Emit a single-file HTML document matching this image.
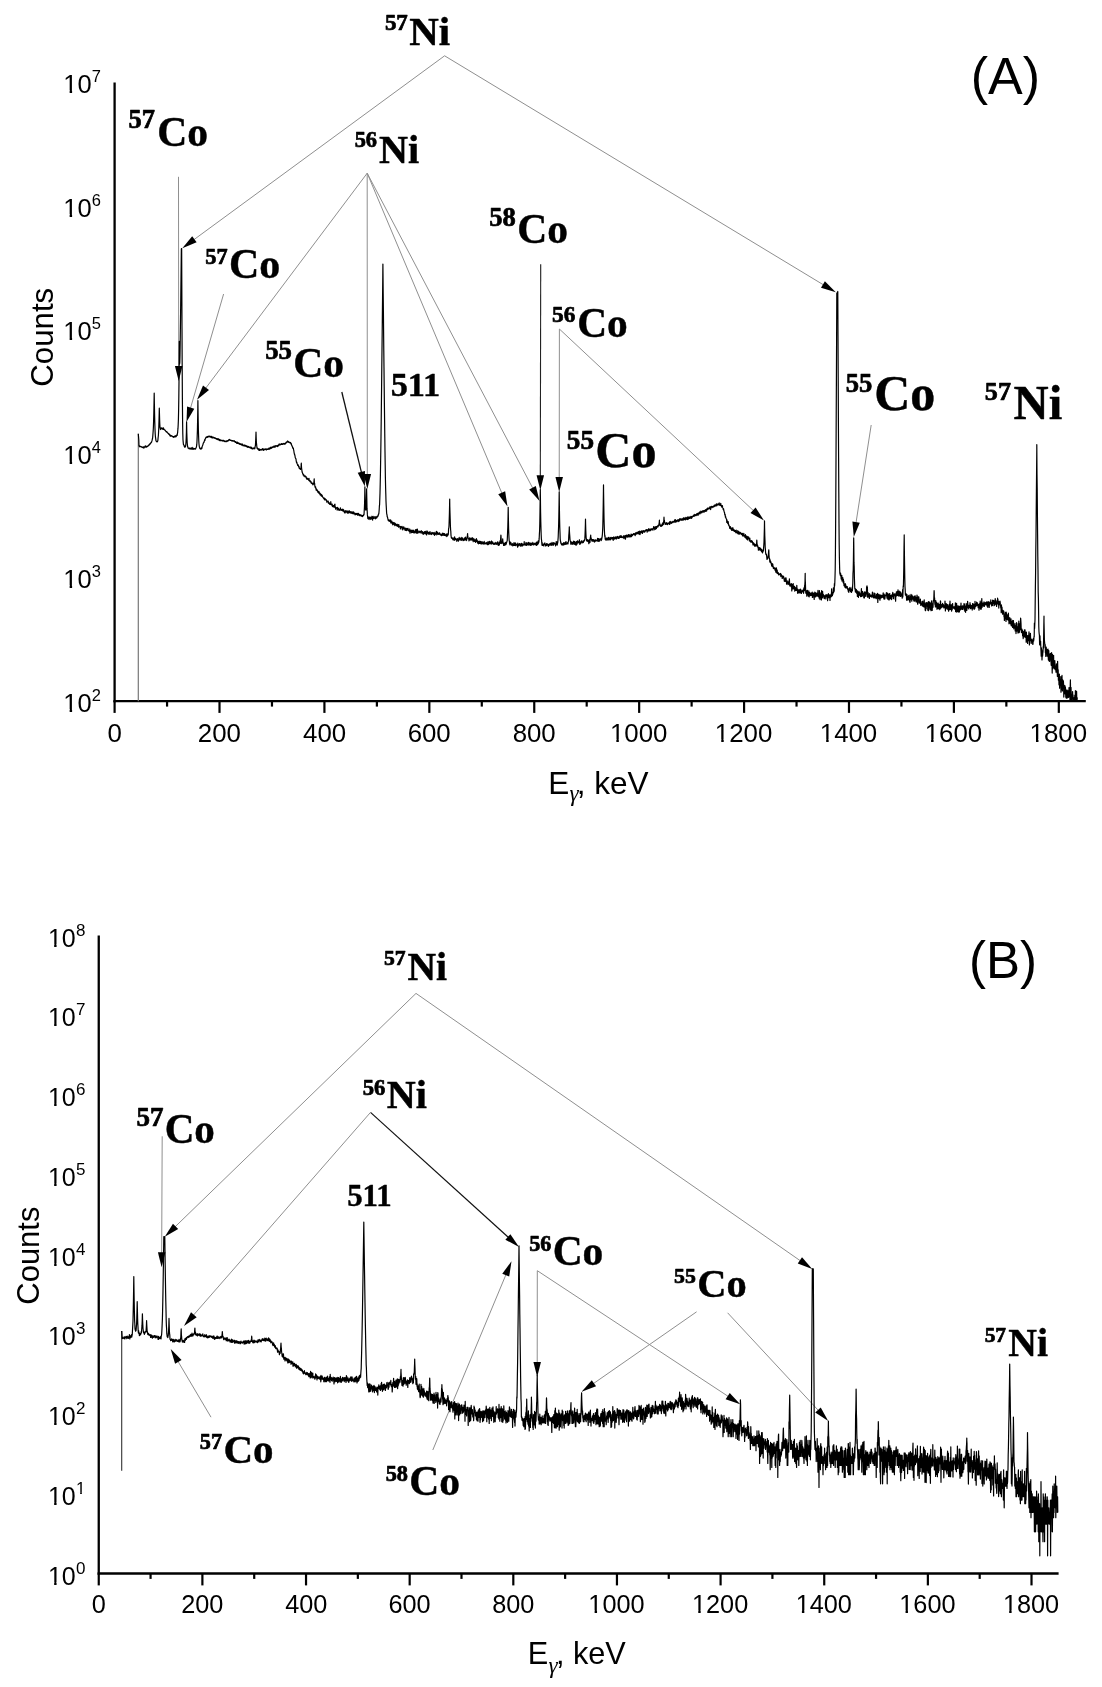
<!DOCTYPE html>
<html><head><meta charset="utf-8"><style>
html,body{margin:0;padding:0;background:#fff;}
svg{display:block;will-change:transform;}
</style></head><body>
<svg width="1102" height="1687" viewBox="0 0 1102 1687">
<rect width="1102" height="1687" fill="#fff"/>
<line x1="114.6" y1="82.5" x2="114.6" y2="702.3000000000001" stroke="#000" stroke-width="2.3" fill="none"/>
<line x1="113.44999999999999" y1="701.2" x2="1085.8" y2="701.2" stroke="#000" stroke-width="2.3" fill="none"/>
<line x1="114.60" y1="701.2" x2="114.60" y2="712.9" stroke="#000" stroke-width="2.2"/>
<g transform="translate(107.42,741.74) scale(0.975,1)">
<text x="0.00" y="0.00" font-family='"Liberation Sans", sans-serif' font-weight="normal" font-size="26.50" >0</text>
</g>
<line x1="167.06" y1="701.2" x2="167.06" y2="706.6" stroke="#000" stroke-width="2.2"/>
<line x1="219.51" y1="701.2" x2="219.51" y2="712.9" stroke="#000" stroke-width="2.2"/>
<g transform="translate(197.81,741.74) scale(0.975,1)">
<text x="0.00" y="0.00" font-family='"Liberation Sans", sans-serif' font-weight="normal" font-size="26.50" >200</text>
</g>
<line x1="271.97" y1="701.2" x2="271.97" y2="706.6" stroke="#000" stroke-width="2.2"/>
<line x1="324.42" y1="701.2" x2="324.42" y2="712.9" stroke="#000" stroke-width="2.2"/>
<g transform="translate(303.08,741.74) scale(0.975,1)">
<text x="0.00" y="0.00" font-family='"Liberation Sans", sans-serif' font-weight="normal" font-size="26.50" >400</text>
</g>
<line x1="376.88" y1="701.2" x2="376.88" y2="706.6" stroke="#000" stroke-width="2.2"/>
<line x1="429.34" y1="701.2" x2="429.34" y2="712.9" stroke="#000" stroke-width="2.2"/>
<g transform="translate(407.63,741.74) scale(0.975,1)">
<text x="0.00" y="0.00" font-family='"Liberation Sans", sans-serif' font-weight="normal" font-size="26.50" >600</text>
</g>
<line x1="481.79" y1="701.2" x2="481.79" y2="706.6" stroke="#000" stroke-width="2.2"/>
<line x1="534.25" y1="701.2" x2="534.25" y2="712.9" stroke="#000" stroke-width="2.2"/>
<g transform="translate(512.64,741.74) scale(0.975,1)">
<text x="0.00" y="0.00" font-family='"Liberation Sans", sans-serif' font-weight="normal" font-size="26.50" >800</text>
</g>
<line x1="586.70" y1="701.2" x2="586.70" y2="706.6" stroke="#000" stroke-width="2.2"/>
<line x1="639.16" y1="701.2" x2="639.16" y2="712.9" stroke="#000" stroke-width="2.2"/>
<g transform="translate(609.94,741.74) scale(0.975,1)">
<text x="0.00" y="0.00" font-family='"Liberation Sans", sans-serif' font-weight="normal" font-size="26.50" >1000</text>
<rect x="1.16" y="-2.52" width="5.40" height="3.62" fill="#fff"/>
<rect x="9.11" y="-2.52" width="5.10" height="3.62" fill="#fff"/>
</g>
<line x1="691.62" y1="701.2" x2="691.62" y2="706.6" stroke="#000" stroke-width="2.2"/>
<line x1="744.07" y1="701.2" x2="744.07" y2="712.9" stroke="#000" stroke-width="2.2"/>
<g transform="translate(714.85,741.74) scale(0.975,1)">
<text x="0.00" y="0.00" font-family='"Liberation Sans", sans-serif' font-weight="normal" font-size="26.50" >1200</text>
<rect x="1.16" y="-2.52" width="5.40" height="3.62" fill="#fff"/>
<rect x="9.11" y="-2.52" width="5.10" height="3.62" fill="#fff"/>
</g>
<line x1="796.53" y1="701.2" x2="796.53" y2="706.6" stroke="#000" stroke-width="2.2"/>
<line x1="848.98" y1="701.2" x2="848.98" y2="712.9" stroke="#000" stroke-width="2.2"/>
<g transform="translate(819.77,741.74) scale(0.975,1)">
<text x="0.00" y="0.00" font-family='"Liberation Sans", sans-serif' font-weight="normal" font-size="26.50" >1400</text>
<rect x="1.16" y="-2.52" width="5.40" height="3.62" fill="#fff"/>
<rect x="9.11" y="-2.52" width="5.10" height="3.62" fill="#fff"/>
</g>
<line x1="901.44" y1="701.2" x2="901.44" y2="706.6" stroke="#000" stroke-width="2.2"/>
<line x1="953.90" y1="701.2" x2="953.90" y2="712.9" stroke="#000" stroke-width="2.2"/>
<g transform="translate(924.68,741.74) scale(0.975,1)">
<text x="0.00" y="0.00" font-family='"Liberation Sans", sans-serif' font-weight="normal" font-size="26.50" >1600</text>
<rect x="1.16" y="-2.52" width="5.40" height="3.62" fill="#fff"/>
<rect x="9.11" y="-2.52" width="5.10" height="3.62" fill="#fff"/>
</g>
<line x1="1006.35" y1="701.2" x2="1006.35" y2="706.6" stroke="#000" stroke-width="2.2"/>
<line x1="1058.81" y1="701.2" x2="1058.81" y2="712.9" stroke="#000" stroke-width="2.2"/>
<g transform="translate(1029.59,741.74) scale(0.975,1)">
<text x="0.00" y="0.00" font-family='"Liberation Sans", sans-serif' font-weight="normal" font-size="26.50" >1800</text>
<rect x="1.16" y="-2.52" width="5.40" height="3.62" fill="#fff"/>
<rect x="9.11" y="-2.52" width="5.10" height="3.62" fill="#fff"/>
</g>
<text x="63.33" y="711.55" font-family='"Liberation Sans", sans-serif' font-weight="normal" font-size="25.50" >10</text>
<rect x="64.45" y="709.11" width="5.19" height="3.54" fill="#fff"/>
<rect x="72.10" y="709.11" width="4.91" height="3.54" fill="#fff"/>
<text x="91.80" y="700.60" font-family='"Liberation Sans", sans-serif' font-weight="normal" font-size="16.50" >2</text>
<text x="63.33" y="587.81" font-family='"Liberation Sans", sans-serif' font-weight="normal" font-size="25.50" >10</text>
<rect x="64.45" y="585.37" width="5.19" height="3.54" fill="#fff"/>
<rect x="72.10" y="585.37" width="4.91" height="3.54" fill="#fff"/>
<text x="91.80" y="576.86" font-family='"Liberation Sans", sans-serif' font-weight="normal" font-size="16.50" >3</text>
<text x="63.33" y="464.07" font-family='"Liberation Sans", sans-serif' font-weight="normal" font-size="25.50" >10</text>
<rect x="64.45" y="461.63" width="5.19" height="3.54" fill="#fff"/>
<rect x="72.10" y="461.63" width="4.91" height="3.54" fill="#fff"/>
<text x="91.80" y="453.12" font-family='"Liberation Sans", sans-serif' font-weight="normal" font-size="16.50" >4</text>
<text x="63.33" y="340.33" font-family='"Liberation Sans", sans-serif' font-weight="normal" font-size="25.50" >10</text>
<rect x="64.45" y="337.89" width="5.19" height="3.54" fill="#fff"/>
<rect x="72.10" y="337.89" width="4.91" height="3.54" fill="#fff"/>
<text x="91.80" y="329.38" font-family='"Liberation Sans", sans-serif' font-weight="normal" font-size="16.50" >5</text>
<text x="63.33" y="216.59" font-family='"Liberation Sans", sans-serif' font-weight="normal" font-size="25.50" >10</text>
<rect x="64.45" y="214.15" width="5.19" height="3.54" fill="#fff"/>
<rect x="72.10" y="214.15" width="4.91" height="3.54" fill="#fff"/>
<text x="91.80" y="205.64" font-family='"Liberation Sans", sans-serif' font-weight="normal" font-size="16.50" >6</text>
<text x="63.33" y="92.85" font-family='"Liberation Sans", sans-serif' font-weight="normal" font-size="25.50" >10</text>
<rect x="64.45" y="90.41" width="5.19" height="3.54" fill="#fff"/>
<rect x="72.10" y="90.41" width="4.91" height="3.54" fill="#fff"/>
<text x="91.80" y="81.90" font-family='"Liberation Sans", sans-serif' font-weight="normal" font-size="16.50" >7</text>
<line x1="98.75" y1="935.6" x2="98.75" y2="1574.6" stroke="#000" stroke-width="2.3" fill="none"/>
<line x1="97.6" y1="1573.5" x2="1058.6" y2="1573.5" stroke="#000" stroke-width="2.3" fill="none"/>
<line x1="98.75" y1="1573.5" x2="98.75" y2="1585.4" stroke="#000" stroke-width="2.2"/>
<g transform="translate(91.72,1612.94) scale(0.965,1)">
<text x="0.00" y="0.00" font-family='"Liberation Sans", sans-serif' font-weight="normal" font-size="26.20" >0</text>
</g>
<line x1="150.57" y1="1573.5" x2="150.57" y2="1578.9" stroke="#000" stroke-width="2.2"/>
<line x1="202.39" y1="1573.5" x2="202.39" y2="1585.4" stroke="#000" stroke-width="2.2"/>
<g transform="translate(181.16,1612.94) scale(0.965,1)">
<text x="0.00" y="0.00" font-family='"Liberation Sans", sans-serif' font-weight="normal" font-size="26.20" >200</text>
</g>
<line x1="254.21" y1="1573.5" x2="254.21" y2="1578.9" stroke="#000" stroke-width="2.2"/>
<line x1="306.03" y1="1573.5" x2="306.03" y2="1585.4" stroke="#000" stroke-width="2.2"/>
<g transform="translate(285.14,1612.94) scale(0.965,1)">
<text x="0.00" y="0.00" font-family='"Liberation Sans", sans-serif' font-weight="normal" font-size="26.20" >400</text>
</g>
<line x1="357.85" y1="1573.5" x2="357.85" y2="1578.9" stroke="#000" stroke-width="2.2"/>
<line x1="409.67" y1="1573.5" x2="409.67" y2="1585.4" stroke="#000" stroke-width="2.2"/>
<g transform="translate(388.43,1612.94) scale(0.965,1)">
<text x="0.00" y="0.00" font-family='"Liberation Sans", sans-serif' font-weight="normal" font-size="26.20" >600</text>
</g>
<line x1="461.49" y1="1573.5" x2="461.49" y2="1578.9" stroke="#000" stroke-width="2.2"/>
<line x1="513.31" y1="1573.5" x2="513.31" y2="1585.4" stroke="#000" stroke-width="2.2"/>
<g transform="translate(492.16,1612.94) scale(0.965,1)">
<text x="0.00" y="0.00" font-family='"Liberation Sans", sans-serif' font-weight="normal" font-size="26.20" >800</text>
</g>
<line x1="565.13" y1="1573.5" x2="565.13" y2="1578.9" stroke="#000" stroke-width="2.2"/>
<line x1="616.95" y1="1573.5" x2="616.95" y2="1585.4" stroke="#000" stroke-width="2.2"/>
<g transform="translate(588.36,1612.94) scale(0.965,1)">
<text x="0.00" y="0.00" font-family='"Liberation Sans", sans-serif' font-weight="normal" font-size="26.20" >1000</text>
<rect x="1.15" y="-2.50" width="5.34" height="3.60" fill="#fff"/>
<rect x="9.00" y="-2.50" width="5.04" height="3.60" fill="#fff"/>
</g>
<line x1="668.77" y1="1573.5" x2="668.77" y2="1578.9" stroke="#000" stroke-width="2.2"/>
<line x1="720.59" y1="1573.5" x2="720.59" y2="1585.4" stroke="#000" stroke-width="2.2"/>
<g transform="translate(692.00,1612.94) scale(0.965,1)">
<text x="0.00" y="0.00" font-family='"Liberation Sans", sans-serif' font-weight="normal" font-size="26.20" >1200</text>
<rect x="1.15" y="-2.50" width="5.34" height="3.60" fill="#fff"/>
<rect x="9.00" y="-2.50" width="5.04" height="3.60" fill="#fff"/>
</g>
<line x1="772.41" y1="1573.5" x2="772.41" y2="1578.9" stroke="#000" stroke-width="2.2"/>
<line x1="824.23" y1="1573.5" x2="824.23" y2="1585.4" stroke="#000" stroke-width="2.2"/>
<g transform="translate(795.64,1612.94) scale(0.965,1)">
<text x="0.00" y="0.00" font-family='"Liberation Sans", sans-serif' font-weight="normal" font-size="26.20" >1400</text>
<rect x="1.15" y="-2.50" width="5.34" height="3.60" fill="#fff"/>
<rect x="9.00" y="-2.50" width="5.04" height="3.60" fill="#fff"/>
</g>
<line x1="876.05" y1="1573.5" x2="876.05" y2="1578.9" stroke="#000" stroke-width="2.2"/>
<line x1="927.87" y1="1573.5" x2="927.87" y2="1585.4" stroke="#000" stroke-width="2.2"/>
<g transform="translate(899.28,1612.94) scale(0.965,1)">
<text x="0.00" y="0.00" font-family='"Liberation Sans", sans-serif' font-weight="normal" font-size="26.20" >1600</text>
<rect x="1.15" y="-2.50" width="5.34" height="3.60" fill="#fff"/>
<rect x="9.00" y="-2.50" width="5.04" height="3.60" fill="#fff"/>
</g>
<line x1="979.69" y1="1573.5" x2="979.69" y2="1578.9" stroke="#000" stroke-width="2.2"/>
<line x1="1031.51" y1="1573.5" x2="1031.51" y2="1585.4" stroke="#000" stroke-width="2.2"/>
<g transform="translate(1002.92,1612.94) scale(0.965,1)">
<text x="0.00" y="0.00" font-family='"Liberation Sans", sans-serif' font-weight="normal" font-size="26.20" >1800</text>
<rect x="1.15" y="-2.50" width="5.34" height="3.60" fill="#fff"/>
<rect x="9.00" y="-2.50" width="5.04" height="3.60" fill="#fff"/>
</g>
<text x="47.97" y="1584.56" font-family='"Liberation Sans", sans-serif' font-weight="normal" font-size="25.00" >10</text>
<rect x="49.07" y="1582.15" width="5.09" height="3.50" fill="#fff"/>
<rect x="56.57" y="1582.15" width="4.81" height="3.50" fill="#fff"/>
<text x="75.98" y="1573.60" font-family='"Liberation Sans", sans-serif' font-weight="normal" font-size="17.00" >0</text>
<text x="47.97" y="1504.82" font-family='"Liberation Sans", sans-serif' font-weight="normal" font-size="25.00" >10</text>
<rect x="49.07" y="1502.41" width="5.09" height="3.50" fill="#fff"/>
<rect x="56.57" y="1502.41" width="4.81" height="3.50" fill="#fff"/>
<text x="75.98" y="1493.86" font-family='"Liberation Sans", sans-serif' font-weight="normal" font-size="17.00" >1</text>
<rect x="76.72" y="1492.07" width="3.43" height="2.89" fill="#fff"/>
<rect x="81.85" y="1492.07" width="3.27" height="2.89" fill="#fff"/>
<text x="47.97" y="1425.08" font-family='"Liberation Sans", sans-serif' font-weight="normal" font-size="25.00" >10</text>
<rect x="49.07" y="1422.67" width="5.09" height="3.50" fill="#fff"/>
<rect x="56.57" y="1422.67" width="4.81" height="3.50" fill="#fff"/>
<text x="75.98" y="1414.12" font-family='"Liberation Sans", sans-serif' font-weight="normal" font-size="17.00" >2</text>
<text x="47.97" y="1345.34" font-family='"Liberation Sans", sans-serif' font-weight="normal" font-size="25.00" >10</text>
<rect x="49.07" y="1342.93" width="5.09" height="3.50" fill="#fff"/>
<rect x="56.57" y="1342.93" width="4.81" height="3.50" fill="#fff"/>
<text x="75.98" y="1334.38" font-family='"Liberation Sans", sans-serif' font-weight="normal" font-size="17.00" >3</text>
<text x="47.97" y="1265.60" font-family='"Liberation Sans", sans-serif' font-weight="normal" font-size="25.00" >10</text>
<rect x="49.07" y="1263.19" width="5.09" height="3.50" fill="#fff"/>
<rect x="56.57" y="1263.19" width="4.81" height="3.50" fill="#fff"/>
<text x="75.98" y="1254.64" font-family='"Liberation Sans", sans-serif' font-weight="normal" font-size="17.00" >4</text>
<text x="47.97" y="1185.86" font-family='"Liberation Sans", sans-serif' font-weight="normal" font-size="25.00" >10</text>
<rect x="49.07" y="1183.45" width="5.09" height="3.50" fill="#fff"/>
<rect x="56.57" y="1183.45" width="4.81" height="3.50" fill="#fff"/>
<text x="75.98" y="1174.90" font-family='"Liberation Sans", sans-serif' font-weight="normal" font-size="17.00" >5</text>
<text x="47.97" y="1106.12" font-family='"Liberation Sans", sans-serif' font-weight="normal" font-size="25.00" >10</text>
<rect x="49.07" y="1103.71" width="5.09" height="3.50" fill="#fff"/>
<rect x="56.57" y="1103.71" width="4.81" height="3.50" fill="#fff"/>
<text x="75.98" y="1095.16" font-family='"Liberation Sans", sans-serif' font-weight="normal" font-size="17.00" >6</text>
<text x="47.97" y="1026.38" font-family='"Liberation Sans", sans-serif' font-weight="normal" font-size="25.00" >10</text>
<rect x="49.07" y="1023.97" width="5.09" height="3.50" fill="#fff"/>
<rect x="56.57" y="1023.97" width="4.81" height="3.50" fill="#fff"/>
<text x="75.98" y="1015.42" font-family='"Liberation Sans", sans-serif' font-weight="normal" font-size="17.00" >7</text>
<text x="47.97" y="946.64" font-family='"Liberation Sans", sans-serif' font-weight="normal" font-size="25.00" >10</text>
<rect x="49.07" y="944.23" width="5.09" height="3.50" fill="#fff"/>
<rect x="56.57" y="944.23" width="4.81" height="3.50" fill="#fff"/>
<text x="75.98" y="935.68" font-family='"Liberation Sans", sans-serif' font-weight="normal" font-size="17.00" >8</text>
<text x="548.32" y="793.50" font-family='"Liberation Sans", sans-serif' font-size="31.5">E</text>
<text x="569.59" y="801.26" font-family='"Liberation Serif", serif' font-style="italic" font-size="23">&#947;</text>
<text x="576.76" y="793.50" font-family='"Liberation Sans", sans-serif' font-size="31.5">, keV</text>
<text x="527.78" y="1664.30" font-family='"Liberation Sans", sans-serif' font-size="30.7">E</text>
<text x="548.49" y="1672.56" font-family='"Liberation Serif", serif' font-style="italic" font-size="23">&#947;</text>
<text x="555.88" y="1664.30" font-family='"Liberation Sans", sans-serif' font-size="30.7">, keV</text>
<text transform="translate(53.30,386.68) rotate(-90)" font-family='"Liberation Sans", sans-serif' font-size="31.19">Counts</text>
<text transform="translate(38.70,1304.67) rotate(-90)" font-family='"Liberation Sans", sans-serif' font-size="30.96">Counts</text>
<text x="970.70" y="94.20" font-family='"Liberation Sans", sans-serif' font-weight="normal" font-size="52.00" >(A)</text>
<text x="969.00" y="978.00" font-family='"Liberation Sans", sans-serif' font-weight="normal" font-size="51.00" >(B)</text>
<text x="384.91" y="29.69" font-family='"Liberation Serif", serif' font-weight="bold" font-size="22.93" stroke="#000" stroke-width="0.7" stroke-linejoin="round" >57</text>
<text x="409.16" y="44.89" font-family='"Liberation Serif", serif' font-weight="bold" font-size="40.89" stroke="#000" stroke-width="0.45" stroke-linejoin="round" >Ni</text>
<text x="128.58" y="128.02" font-family='"Liberation Serif", serif' font-weight="bold" font-size="26.43" stroke="#000" stroke-width="0.7" stroke-linejoin="round" >57</text>
<text x="157.21" y="146.02" font-family='"Liberation Serif", serif' font-weight="bold" font-size="41.60" stroke="#000" stroke-width="0.45" stroke-linejoin="round" >Co</text>
<text x="354.66" y="147.17" font-family='"Liberation Serif", serif' font-weight="bold" font-size="22.43" stroke="#000" stroke-width="0.7" stroke-linejoin="round" >56</text>
<text x="378.98" y="162.79" font-family='"Liberation Serif", serif' font-weight="bold" font-size="40.17" stroke="#000" stroke-width="0.45" stroke-linejoin="round" >Ni</text>
<text x="205.29" y="263.88" font-family='"Liberation Serif", serif' font-weight="bold" font-size="22.27" stroke="#000" stroke-width="0.7" stroke-linejoin="round" >57</text>
<text x="229.11" y="278.12" font-family='"Liberation Serif", serif' font-weight="bold" font-size="41.92" stroke="#000" stroke-width="0.45" stroke-linejoin="round" >Co</text>
<text x="489.26" y="225.89" font-family='"Liberation Serif", serif' font-weight="bold" font-size="26.51" stroke="#000" stroke-width="0.7" stroke-linejoin="round" >58</text>
<text x="517.28" y="243.10" font-family='"Liberation Serif", serif' font-weight="bold" font-size="41.55" stroke="#000" stroke-width="0.45" stroke-linejoin="round" >Co</text>
<text x="552.02" y="322.45" font-family='"Liberation Serif", serif' font-weight="bold" font-size="23.31" stroke="#000" stroke-width="0.7" stroke-linejoin="round" >56</text>
<text x="577.18" y="336.95" font-family='"Liberation Serif", serif' font-weight="bold" font-size="41.40" stroke="#000" stroke-width="0.45" stroke-linejoin="round" >Co</text>
<text x="265.17" y="359.43" font-family='"Liberation Serif", serif' font-weight="bold" font-size="26.76" stroke="#000" stroke-width="0.7" stroke-linejoin="round" >55</text>
<text x="293.28" y="377.10" font-family='"Liberation Serif", serif' font-weight="bold" font-size="41.55" stroke="#000" stroke-width="0.45" stroke-linejoin="round" >Co</text>
<text x="390.67" y="395.56" font-family='"Liberation Serif", serif' font-weight="bold" font-size="34.31" stroke="#000" stroke-width="0.45" stroke-linejoin="round" >511</text>
<text x="566.79" y="448.88" font-family='"Liberation Serif", serif' font-weight="bold" font-size="27.22" stroke="#000" stroke-width="0.7" stroke-linejoin="round" >55</text>
<text x="595.34" y="466.70" font-family='"Liberation Serif", serif' font-weight="bold" font-size="50.13" stroke="#000" stroke-width="0.45" stroke-linejoin="round" >Co</text>
<text x="845.79" y="392.04" font-family='"Liberation Serif", serif' font-weight="bold" font-size="26.63" stroke="#000" stroke-width="0.7" stroke-linejoin="round" >55</text>
<text x="874.15" y="409.75" font-family='"Liberation Serif", serif' font-weight="bold" font-size="49.96" stroke="#000" stroke-width="0.45" stroke-linejoin="round" >Co</text>
<text x="984.85" y="400.24" font-family='"Liberation Serif", serif' font-weight="bold" font-size="26.18" stroke="#000" stroke-width="0.7" stroke-linejoin="round" >57</text>
<text x="1013.62" y="418.52" font-family='"Liberation Serif", serif' font-weight="bold" font-size="48.64" stroke="#000" stroke-width="0.45" stroke-linejoin="round" >Ni</text>
<text x="383.93" y="965.10" font-family='"Liberation Serif", serif' font-weight="bold" font-size="21.71" stroke="#000" stroke-width="0.7" stroke-linejoin="round" >57</text>
<text x="407.47" y="980.09" font-family='"Liberation Serif", serif' font-weight="bold" font-size="39.60" stroke="#000" stroke-width="0.45" stroke-linejoin="round" >Ni</text>
<text x="136.44" y="1125.91" font-family='"Liberation Serif", serif' font-weight="bold" font-size="27.00" stroke="#000" stroke-width="0.7" stroke-linejoin="round" >57</text>
<text x="164.65" y="1143.21" font-family='"Liberation Serif", serif' font-weight="bold" font-size="41.12" stroke="#000" stroke-width="0.45" stroke-linejoin="round" >Co</text>
<text x="362.72" y="1095.01" font-family='"Liberation Serif", serif' font-weight="bold" font-size="22.72" stroke="#000" stroke-width="0.7" stroke-linejoin="round" >56</text>
<text x="386.85" y="1108.37" font-family='"Liberation Serif", serif' font-weight="bold" font-size="40.12" stroke="#000" stroke-width="0.45" stroke-linejoin="round" >Ni</text>
<text x="347.17" y="1205.72" font-family='"Liberation Serif", serif' font-weight="bold" font-size="30.82" stroke="#000" stroke-width="0.45" stroke-linejoin="round" >511</text>
<text x="529.29" y="1250.81" font-family='"Liberation Serif", serif' font-weight="bold" font-size="22.09" stroke="#000" stroke-width="0.7" stroke-linejoin="round" >56</text>
<text x="552.63" y="1265.33" font-family='"Liberation Serif", serif' font-weight="bold" font-size="41.48" stroke="#000" stroke-width="0.45" stroke-linejoin="round" >Co</text>
<text x="673.99" y="1282.65" font-family='"Liberation Serif", serif' font-weight="bold" font-size="21.85" stroke="#000" stroke-width="0.7" stroke-linejoin="round" >55</text>
<text x="697.29" y="1296.91" font-family='"Liberation Serif", serif' font-weight="bold" font-size="40.49" stroke="#000" stroke-width="0.45" stroke-linejoin="round" >Co</text>
<text x="984.64" y="1341.88" font-family='"Liberation Serif", serif' font-weight="bold" font-size="21.48" stroke="#000" stroke-width="0.7" stroke-linejoin="round" >57</text>
<text x="1008.21" y="1356.48" font-family='"Liberation Serif", serif' font-weight="bold" font-size="39.71" stroke="#000" stroke-width="0.45" stroke-linejoin="round" >Ni</text>
<text x="199.83" y="1448.59" font-family='"Liberation Serif", serif' font-weight="bold" font-size="22.28" stroke="#000" stroke-width="0.7" stroke-linejoin="round" >57</text>
<text x="223.52" y="1462.57" font-family='"Liberation Serif", serif' font-weight="bold" font-size="41.00" stroke="#000" stroke-width="0.45" stroke-linejoin="round" >Co</text>
<text x="385.67" y="1480.61" font-family='"Liberation Serif", serif' font-weight="bold" font-size="22.32" stroke="#000" stroke-width="0.7" stroke-linejoin="round" >58</text>
<text x="409.18" y="1495.16" font-family='"Liberation Serif", serif' font-weight="bold" font-size="41.57" stroke="#000" stroke-width="0.45" stroke-linejoin="round" >Co</text>
<line x1="444.60" y1="55.80" x2="192.78" y2="240.51" stroke="#8f8f8f" stroke-width="1.0"/>
<polygon points="182.30,248.20 192.18,236.30 196.61,242.35" fill="#000"/>
<line x1="444.60" y1="55.80" x2="824.67" y2="285.57" stroke="#8f8f8f" stroke-width="1.0"/>
<polygon points="835.80,292.30 821.02,287.75 824.90,281.33" fill="#000"/>
<line x1="178.50" y1="176.80" x2="178.69" y2="368.00" stroke="#8f8f8f" stroke-width="1.0"/>
<polygon points="178.70,381.00 174.94,366.00 182.44,366.00" fill="#000"/>
<line x1="367.20" y1="173.20" x2="204.81" y2="389.41" stroke="#8f8f8f" stroke-width="1.0"/>
<polygon points="197.00,399.80 203.01,385.55 209.01,390.06" fill="#000"/>
<line x1="367.20" y1="173.20" x2="367.30" y2="476.00" stroke="#8f8f8f" stroke-width="1.0"/>
<polygon points="367.30,489.00 363.55,474.00 371.05,474.00" fill="#000"/>
<line x1="367.20" y1="173.20" x2="502.46" y2="494.52" stroke="#8f8f8f" stroke-width="1.0"/>
<polygon points="507.50,506.50 498.22,494.13 505.14,491.22" fill="#000"/>
<line x1="367.20" y1="173.20" x2="533.45" y2="489.49" stroke="#8f8f8f" stroke-width="1.0"/>
<polygon points="539.50,501.00 529.20,489.47 535.84,485.98" fill="#000"/>
<line x1="223.60" y1="294.00" x2="190.12" y2="409.51" stroke="#8f8f8f" stroke-width="1.0"/>
<polygon points="186.50,422.00 187.07,406.55 194.28,408.64" fill="#000"/>
<line x1="540.70" y1="264.30" x2="540.32" y2="477.30" stroke="#222" stroke-width="1.1"/>
<polygon points="540.30,490.30 536.58,475.29 544.08,475.31" fill="#000"/>
<line x1="559.40" y1="329.00" x2="559.22" y2="479.00" stroke="#8f8f8f" stroke-width="1.0"/>
<polygon points="559.20,492.00 555.47,477.00 562.97,477.00" fill="#000"/>
<line x1="559.40" y1="329.00" x2="754.51" y2="511.62" stroke="#8f8f8f" stroke-width="1.0"/>
<polygon points="764.00,520.50 750.49,512.99 755.61,507.51" fill="#000"/>
<line x1="341.80" y1="392.00" x2="361.81" y2="473.87" stroke="#111" stroke-width="1.3"/>
<polygon points="364.90,486.50 357.70,472.82 364.98,471.04" fill="#000"/>
<line x1="871.20" y1="425.00" x2="855.80" y2="524.15" stroke="#8f8f8f" stroke-width="1.0"/>
<polygon points="853.80,537.00 852.40,521.60 859.81,522.75" fill="#000"/>
<line x1="416.00" y1="993.40" x2="174.14" y2="1227.75" stroke="#8f8f8f" stroke-width="1.0"/>
<polygon points="164.80,1236.80 172.96,1223.67 178.18,1229.06" fill="#000"/>
<line x1="416.00" y1="993.40" x2="801.53" y2="1261.58" stroke="#8f8f8f" stroke-width="1.0"/>
<polygon points="812.20,1269.00 797.74,1263.51 802.03,1257.36" fill="#000"/>
<line x1="162.20" y1="1136.30" x2="161.66" y2="1254.20" stroke="#8f8f8f" stroke-width="1.0"/>
<polygon points="161.60,1267.20 157.92,1252.18 165.42,1252.22" fill="#000"/>
<line x1="370.50" y1="1112.40" x2="509.37" y2="1238.27" stroke="#111" stroke-width="1.2"/>
<polygon points="519.00,1247.00 505.37,1239.70 510.40,1234.15" fill="#000"/>
<line x1="370.50" y1="1112.40" x2="192.55" y2="1316.21" stroke="#8f8f8f" stroke-width="1.0"/>
<polygon points="184.00,1326.00 191.04,1312.23 196.69,1317.17" fill="#000"/>
<line x1="537.30" y1="1270.70" x2="537.21" y2="1364.00" stroke="#8f8f8f" stroke-width="1.0"/>
<polygon points="537.20,1377.00 533.46,1362.00 540.96,1362.00" fill="#000"/>
<line x1="537.30" y1="1270.70" x2="729.34" y2="1397.15" stroke="#8f8f8f" stroke-width="1.0"/>
<polygon points="740.20,1404.30 725.61,1399.18 729.73,1392.92" fill="#000"/>
<line x1="696.60" y1="1311.80" x2="592.27" y2="1384.38" stroke="#8f8f8f" stroke-width="1.0"/>
<polygon points="581.60,1391.80 591.77,1380.16 596.06,1386.31" fill="#000"/>
<line x1="727.60" y1="1312.80" x2="819.35" y2="1411.48" stroke="#8f8f8f" stroke-width="1.0"/>
<polygon points="828.20,1421.00 815.24,1412.57 820.73,1407.46" fill="#000"/>
<line x1="211.00" y1="1417.20" x2="177.31" y2="1360.19" stroke="#8f8f8f" stroke-width="1.0"/>
<polygon points="170.70,1349.00 181.56,1360.01 175.10,1363.82" fill="#000"/>
<line x1="432.80" y1="1450.00" x2="506.50" y2="1273.30" stroke="#8f8f8f" stroke-width="1.0"/>
<polygon points="511.50,1261.30 509.19,1276.59 502.27,1273.70" fill="#000"/>
<line x1="138.3" y1="701.2" x2="138.3" y2="433.7" stroke="#777" stroke-width="1.2"/>
<polyline points="138.30,433.70 138.80,440.00 139.00,445.97 139.20,445.85 139.40,446.10 139.60,446.78 139.80,446.01 140.00,446.25 140.20,446.68 140.40,446.32 140.60,446.47 140.80,446.56 141.00,446.72 141.20,446.59 141.40,447.14 141.60,446.98 141.80,447.17 142.00,446.82 142.20,447.10 142.40,447.29 142.60,447.54 142.80,447.40 143.00,447.37 143.20,447.48 143.40,446.82 143.60,446.88 143.80,448.23 144.00,447.86 144.20,447.16 144.40,447.20 144.60,446.90 144.80,446.84 145.00,446.07 145.20,447.23 145.40,446.90 145.60,445.93 145.80,446.40 146.00,446.34 146.20,446.73 146.40,447.10 146.60,446.36 146.80,446.32 147.00,446.77 147.20,446.51 147.40,446.22 147.60,446.49 147.80,446.12 148.00,445.99 148.20,445.87 148.40,445.85 148.60,445.22 148.80,444.88 149.00,444.87 149.20,445.07 149.40,444.27 149.60,444.49 149.80,443.76 150.00,444.25 150.20,443.28 150.40,443.39 150.60,443.59 150.80,443.00 151.00,442.59 151.20,442.23 151.40,442.36 151.60,442.01 151.80,441.07 152.00,440.74 152.20,439.77 152.40,438.65 152.60,438.27 152.80,435.90 153.00,433.24 153.20,430.60 153.40,426.93 153.60,420.97 153.80,413.88 154.00,404.26 154.20,393.12 154.20,393.00 154.40,404.97 154.60,414.96 154.80,422.39 155.00,428.69 155.20,433.62 155.40,436.50 155.60,437.86 155.80,439.39 156.00,440.83 156.20,441.23 156.40,441.46 156.60,441.68 156.80,441.62 157.00,441.84 157.20,441.87 157.40,441.71 157.60,440.88 157.80,440.99 158.00,438.86 158.20,437.03 158.40,435.19 158.60,431.37 158.80,427.33 159.00,420.85 159.20,413.12 159.30,408.20 159.40,412.11 159.60,419.14 159.80,424.13 160.00,427.20 160.20,427.75 160.40,429.14 160.60,429.53 160.80,429.08 161.00,428.77 161.20,427.86 161.40,428.29 161.60,428.40 161.80,428.70 162.00,428.37 162.20,428.88 162.40,428.35 162.60,428.09 162.80,429.07 163.00,429.38 163.20,428.40 163.40,427.78 163.60,429.12 163.80,429.40 164.00,429.01 164.20,429.67 164.40,429.76 164.60,429.91 164.80,429.83 165.00,430.33 165.20,430.31 165.40,430.66 165.60,431.08 165.80,431.10 166.00,431.51 166.20,431.40 166.40,431.97 166.60,432.15 166.80,431.51 167.00,432.20 167.20,432.40 167.40,432.41 167.60,432.91 167.80,433.04 168.00,433.02 168.20,433.26 168.40,433.94 168.60,433.47 168.80,434.14 169.00,434.49 169.20,434.64 169.40,434.66 169.60,434.18 169.80,435.32 170.00,435.06 170.20,436.04 170.40,435.51 170.60,435.40 170.80,435.92 171.00,436.13 171.20,435.91 171.40,435.83 171.60,435.91 171.80,435.54 172.00,436.22 172.20,436.57 172.40,436.49 172.60,436.54 172.80,436.56 173.00,436.68 173.20,436.69 173.40,437.40 173.60,436.61 173.80,437.05 174.00,437.22 174.20,436.55 174.40,436.27 174.60,436.51 174.80,436.58 175.00,436.90 175.20,435.54 175.40,436.16 175.60,436.78 175.80,436.57 176.00,436.17 176.20,436.61 176.40,435.85 176.60,435.85 176.80,434.98 177.00,434.68 177.20,435.41 177.40,433.52 177.60,432.84 177.80,430.23 178.00,428.16 178.20,424.54 178.40,419.79 178.60,410.66 178.80,398.45 179.00,381.36 179.20,356.05 179.30,341.38 179.40,352.18 179.60,364.05 179.80,362.32 180.00,354.87 180.20,342.15 180.40,327.34 180.60,312.08 180.80,295.59 181.00,278.90 181.20,261.63 181.35,249.01 181.40,248.75 181.50,248.60 181.60,248.72 181.65,248.59 181.80,283.92 182.00,328.35 182.20,368.75 182.40,400.48 182.60,421.97 182.80,433.85 183.00,440.02 183.20,442.18 183.40,444.22 183.60,444.81 183.80,444.89 184.00,445.25 184.20,445.89 184.40,446.80 184.60,446.17 184.80,446.47 185.00,447.28 185.20,446.52 185.40,446.71 185.60,446.16 185.80,444.40 186.00,442.24 186.20,438.24 186.40,432.69 186.60,421.81 186.60,422.50 186.80,432.78 187.00,438.34 187.20,442.72 187.40,444.86 187.60,446.51 187.80,447.21 188.00,447.56 188.20,448.21 188.40,447.83 188.60,448.37 188.80,448.58 189.00,448.26 189.20,448.15 189.40,448.43 189.60,448.69 189.80,448.14 190.00,449.07 190.20,448.81 190.40,448.41 190.60,448.97 190.80,448.45 191.00,448.49 191.20,448.14 191.40,448.85 191.60,448.76 191.80,448.40 192.00,449.49 192.20,447.37 192.40,448.84 192.60,448.87 192.80,448.27 193.00,448.63 193.20,449.32 193.40,448.41 193.60,448.33 193.80,448.85 194.00,448.80 194.20,448.51 194.40,449.06 194.60,448.55 194.80,448.64 195.00,448.97 195.20,449.23 195.40,448.73 195.60,448.90 195.80,448.03 196.00,448.11 196.20,447.45 196.40,447.01 196.60,445.83 196.80,444.42 197.00,440.97 197.20,436.09 197.40,430.28 197.60,420.99 197.80,408.22 197.90,400.60 198.00,408.43 198.20,420.71 198.40,430.27 198.60,436.22 198.80,441.22 199.00,443.99 199.20,445.58 199.40,447.21 199.60,447.24 199.80,448.44 200.00,448.71 200.20,448.63 200.40,448.57 200.60,449.06 200.80,448.51 201.00,449.09 201.20,447.87 201.40,448.38 201.60,448.53 201.80,448.58 202.00,447.68 202.20,446.28 202.40,446.12 202.60,445.59 202.80,444.85 203.00,444.50 203.20,443.49 203.40,442.94 203.60,442.88 203.80,442.24 204.00,442.42 204.20,441.23 204.40,441.00 204.60,440.34 204.80,439.47 205.00,440.37 205.20,439.00 205.40,439.01 205.60,437.94 205.80,438.13 206.00,437.37 206.20,437.08 206.40,436.89 206.60,437.03 206.80,437.28 207.00,437.15 207.20,436.60 207.40,436.86 207.60,437.39 207.80,436.47 208.00,436.57 208.20,436.37 208.40,436.73 208.60,436.29 208.80,436.89 209.00,436.28 209.20,436.59 209.40,436.20 209.60,436.15 209.80,436.81 210.00,436.64 210.20,436.67 210.40,436.34 210.60,436.56 210.80,437.29 211.00,436.78 211.20,436.74 211.40,436.33 211.60,437.70 211.80,437.37 212.00,436.79 212.20,437.78 212.40,437.79 212.60,437.26 212.80,437.15 213.00,437.79 213.20,437.44 213.40,437.65 213.60,437.22 213.80,437.81 214.00,437.53 214.20,438.25 214.40,438.07 214.60,438.10 214.80,437.73 215.00,437.99 215.20,438.52 215.40,438.08 215.60,438.11 215.80,438.48 216.00,438.60 216.20,438.64 216.40,439.23 216.60,438.65 216.80,438.71 217.00,439.18 217.20,438.69 217.40,439.51 217.60,439.30 217.80,439.35 218.00,438.56 218.20,439.90 218.40,439.22 218.60,439.16 218.80,439.44 219.00,439.23 219.20,440.08 219.40,440.61 219.60,439.61 219.80,440.38 220.00,440.15 220.20,440.53 220.40,439.82 220.60,439.96 220.80,440.60 221.00,440.10 221.20,440.46 221.40,440.59 221.60,440.56 221.80,440.69 222.00,440.44 222.20,440.59 222.40,440.86 222.60,440.42 222.80,441.04 223.00,440.76 223.20,440.75 223.40,440.41 223.60,441.16 223.80,440.40 224.00,441.00 224.20,441.17 224.40,441.38 224.60,440.97 224.80,441.20 225.00,441.66 225.20,441.70 225.40,441.54 225.60,441.62 225.80,441.03 226.00,440.97 226.20,441.19 226.40,441.41 226.60,441.73 226.80,441.52 227.00,441.10 227.20,440.54 227.40,440.86 227.60,441.17 227.80,440.93 228.00,441.00 228.20,440.99 228.40,440.66 228.60,440.40 228.80,439.70 229.00,440.22 229.20,439.64 229.40,439.37 229.60,440.02 229.80,439.53 230.00,439.89 230.20,440.34 230.40,440.15 230.60,440.28 230.80,440.42 231.00,440.46 231.20,440.38 231.40,440.33 231.60,440.85 231.80,440.59 232.00,441.17 232.20,440.59 232.40,440.50 232.60,440.72 232.80,440.74 233.00,440.72 233.20,441.25 233.40,441.19 233.60,441.01 233.80,440.92 234.00,441.22 234.20,440.53 234.40,441.57 234.60,441.26 234.80,441.25 235.00,441.84 235.20,442.18 235.40,442.39 235.60,441.99 235.80,441.74 236.00,442.13 236.20,442.25 236.40,442.54 236.60,442.28 236.80,443.35 237.00,442.57 237.20,442.73 237.40,443.33 237.60,442.12 237.80,443.51 238.00,443.48 238.20,443.62 238.40,442.86 238.60,443.67 238.80,443.19 239.00,443.31 239.20,443.51 239.40,444.18 239.60,444.01 239.80,443.25 240.00,444.43 240.20,444.35 240.40,444.19 240.60,443.92 240.80,444.21 241.00,444.10 241.20,444.83 241.40,444.16 241.60,444.37 241.80,445.24 242.00,444.15 242.20,443.94 242.40,445.14 242.60,444.91 242.80,444.48 243.00,445.62 243.20,445.88 243.40,445.69 243.60,445.49 243.80,445.56 244.00,445.19 244.20,445.39 244.40,446.02 244.60,445.41 244.80,444.99 245.00,445.32 245.20,445.46 245.40,445.90 245.60,445.60 245.80,446.41 246.00,445.83 246.20,446.22 246.40,445.83 246.60,446.15 246.80,446.80 247.00,446.41 247.20,446.07 247.40,447.03 247.60,446.88 247.80,447.03 248.00,447.38 248.20,446.52 248.40,446.45 248.60,446.72 248.80,447.00 249.00,447.18 249.20,447.14 249.40,447.58 249.60,447.03 249.80,447.04 250.00,447.15 250.20,447.78 250.40,447.62 250.60,447.78 250.80,447.10 251.00,447.79 251.20,448.64 251.40,447.84 251.60,447.35 251.80,447.86 252.00,447.82 252.20,448.18 252.40,448.98 252.60,448.96 252.80,448.78 253.00,448.38 253.20,448.24 253.40,448.12 253.60,448.54 253.80,448.05 254.00,448.51 254.20,448.62 254.40,447.92 254.60,448.40 254.80,448.75 255.00,447.53 255.20,446.10 255.40,445.73 255.60,442.12 255.80,438.13 256.00,432.55 256.00,432.00 256.20,438.24 256.40,442.33 256.60,444.27 256.80,446.31 257.00,448.14 257.20,448.54 257.40,448.38 257.60,448.22 257.80,449.00 258.00,449.17 258.20,448.68 258.40,449.50 258.60,449.69 258.80,450.19 259.00,449.90 259.20,448.92 259.40,450.38 259.60,449.88 259.80,450.49 260.00,449.95 260.20,449.63 260.40,450.05 260.60,449.65 260.80,449.63 261.00,449.71 261.20,449.20 261.40,449.54 261.60,449.94 261.80,450.06 262.00,450.10 262.20,449.56 262.40,449.85 262.60,448.64 262.80,448.96 263.00,449.74 263.20,449.76 263.40,448.96 263.60,450.32 263.80,449.74 264.00,449.17 264.20,449.87 264.40,449.68 264.60,449.61 264.80,449.20 265.00,449.38 265.20,449.25 265.40,449.15 265.60,449.35 265.80,448.91 266.00,449.60 266.20,449.85 266.40,449.96 266.60,449.87 266.80,449.44 267.00,448.80 267.20,449.06 267.40,449.29 267.60,449.40 267.80,449.11 268.00,448.99 268.20,448.98 268.40,449.24 268.60,448.80 268.80,448.16 269.00,449.31 269.20,448.50 269.40,449.15 269.60,448.19 269.80,448.47 270.00,448.91 270.20,448.00 270.40,447.28 270.60,447.86 270.80,447.38 271.00,447.78 271.20,448.50 271.40,447.42 271.60,447.70 271.80,448.02 272.00,447.09 272.20,447.21 272.40,447.45 272.60,446.85 272.80,447.43 273.00,446.79 273.20,447.31 273.40,446.68 273.60,447.23 273.80,446.18 274.00,446.57 274.20,446.06 274.40,446.83 274.60,446.63 274.80,446.06 275.00,447.34 275.20,446.64 275.40,445.77 275.60,445.92 275.80,445.65 276.00,446.06 276.20,445.66 276.40,446.08 276.60,446.24 276.80,446.29 277.00,445.79 277.20,445.72 277.40,445.67 277.60,446.69 277.80,446.04 278.00,445.42 278.20,445.04 278.40,445.29 278.60,445.33 278.80,445.79 279.00,444.11 279.20,445.20 279.40,444.09 279.60,444.07 279.80,444.47 280.00,444.71 280.20,444.42 280.40,444.85 280.60,444.30 280.80,444.35 281.00,444.12 281.20,443.93 281.40,443.61 281.60,444.36 281.80,443.79 282.00,444.43 282.20,444.43 282.40,444.30 282.60,444.39 282.80,443.64 283.00,443.62 283.20,443.46 283.40,443.90 283.60,443.75 283.80,444.03 284.00,444.20 284.20,443.58 284.40,443.61 284.60,444.08 284.80,443.42 285.00,444.24 285.20,443.50 285.40,443.49 285.60,443.28 285.80,443.31 286.00,442.40 286.20,442.37 286.40,441.98 286.60,442.19 286.80,442.54 287.00,442.03 287.20,442.16 287.40,441.39 287.60,440.95 287.80,441.25 288.00,441.70 288.20,441.73 288.40,441.65 288.60,442.36 288.80,441.90 289.00,442.01 289.20,442.39 289.40,442.47 289.60,442.37 289.80,442.85 290.00,442.97 290.20,442.51 290.40,442.83 290.60,442.42 290.80,443.51 291.00,444.07 291.20,443.50 291.40,443.92 291.60,444.97 291.80,445.67 292.00,445.57 292.20,446.64 292.40,446.53 292.60,447.66 292.80,447.35 293.00,448.49 293.20,448.20 293.40,448.44 293.60,450.04 293.80,450.54 294.00,452.01 294.20,453.03 294.40,454.18 294.60,454.07 294.80,455.43 295.00,455.65 295.20,457.52 295.40,457.83 295.60,458.42 295.80,458.56 296.00,459.10 296.20,460.87 296.40,461.79 296.60,462.77 296.80,462.14 297.00,463.16 297.20,463.81 297.40,463.94 297.60,465.46 297.80,465.49 298.00,464.70 298.20,465.34 298.40,465.85 298.60,466.77 298.80,466.45 299.00,466.30 299.20,468.06 299.40,467.88 299.60,468.44 299.80,468.37 300.00,468.80 300.20,469.07 300.40,469.48 300.60,468.93 300.80,468.68 301.00,467.26 301.20,464.92 301.30,463.10 301.40,465.48 301.60,468.34 301.80,469.59 302.00,471.46 302.20,472.36 302.40,472.47 302.60,473.28 302.80,473.82 303.00,474.17 303.20,475.19 303.40,474.57 303.60,474.35 303.80,474.92 304.00,476.17 304.20,475.46 304.40,476.25 304.60,476.11 304.80,476.13 305.00,476.98 305.20,475.92 305.40,476.81 305.60,476.58 305.80,476.85 306.00,476.69 306.20,476.96 306.40,478.50 306.60,477.93 306.80,479.23 307.00,478.57 307.20,478.18 307.40,478.28 307.60,478.28 307.80,479.32 308.00,479.16 308.20,479.47 308.40,479.07 308.60,479.10 308.80,480.30 309.00,478.36 309.20,480.52 309.40,480.91 309.60,480.61 309.80,480.72 310.00,481.03 310.20,481.85 310.40,480.94 310.60,481.89 310.80,481.31 311.00,481.58 311.20,483.18 311.40,483.23 311.60,483.44 311.80,482.97 312.00,483.27 312.20,483.35 312.40,484.10 312.60,483.61 312.80,483.24 313.00,484.81 313.20,484.28 313.40,484.03 313.60,484.01 313.80,483.41 314.00,481.02 314.20,478.81 314.20,479.50 314.40,482.95 314.60,483.22 314.80,485.48 315.00,486.83 315.20,487.31 315.40,487.87 315.60,486.81 315.80,488.23 316.00,488.64 316.20,490.20 316.40,488.89 316.60,490.20 316.80,490.54 317.00,489.80 317.20,490.88 317.40,490.15 317.60,490.23 317.80,492.13 318.00,491.43 318.20,492.49 318.40,491.86 318.60,491.54 318.80,493.09 319.00,491.51 319.20,492.97 319.40,493.72 319.60,493.34 319.80,493.05 320.00,494.55 320.20,493.99 320.40,495.04 320.60,493.76 320.80,494.62 321.00,495.20 321.20,494.58 321.40,496.18 321.60,495.85 321.80,494.72 322.00,496.10 322.20,495.42 322.40,496.32 322.60,497.06 322.80,496.99 323.00,497.00 323.20,497.50 323.40,497.96 323.60,498.14 323.80,498.77 324.00,498.01 324.20,498.04 324.40,498.02 324.60,499.79 324.80,498.40 325.00,499.11 325.20,500.18 325.40,499.44 325.60,499.21 325.80,499.59 326.00,499.66 326.20,499.72 326.40,499.94 326.60,500.72 326.80,502.19 327.00,501.56 327.20,501.06 327.40,501.77 327.60,501.24 327.80,501.37 328.00,502.03 328.20,501.07 328.40,503.07 328.60,502.06 328.80,503.14 329.00,503.53 329.20,502.85 329.40,503.80 329.60,503.02 329.80,504.47 330.00,503.79 330.20,504.35 330.40,503.77 330.60,503.25 330.80,502.44 330.80,501.70 331.00,504.07 331.20,504.78 331.40,504.09 331.60,504.37 331.80,504.80 332.00,505.20 332.20,504.09 332.40,506.52 332.60,506.36 332.80,506.66 333.00,505.55 333.20,506.08 333.40,505.66 333.60,505.86 333.80,506.74 334.00,507.18 334.20,507.26 334.40,504.96 334.60,505.30 334.80,504.50 334.90,504.00 335.00,505.15 335.20,506.56 335.40,507.30 335.60,509.14 335.80,507.87 336.00,508.24 336.20,507.91 336.40,508.05 336.60,507.70 336.80,508.35 337.00,507.88 337.20,510.20 337.40,509.29 337.60,507.46 337.80,509.51 338.00,508.95 338.20,508.35 338.40,509.49 338.60,508.48 338.80,510.00 339.00,510.39 339.20,510.07 339.40,510.36 339.60,509.32 339.80,509.59 340.00,509.22 340.20,510.21 340.40,507.86 340.60,509.71 340.80,509.75 341.00,509.48 341.20,510.02 341.40,510.35 341.60,509.93 341.80,509.43 342.00,509.67 342.20,509.55 342.40,510.65 342.60,510.86 342.80,509.03 343.00,510.63 343.20,510.21 343.40,510.10 343.60,509.70 343.80,511.67 344.00,511.14 344.20,511.15 344.40,511.11 344.60,512.61 344.80,511.07 345.00,513.04 345.20,510.89 345.40,510.78 345.60,510.78 345.80,512.07 346.00,510.63 346.20,511.93 346.40,512.23 346.60,512.11 346.80,512.07 347.00,511.41 347.20,511.01 347.40,513.08 347.60,512.05 347.80,511.10 348.00,511.63 348.20,511.47 348.40,512.91 348.60,511.25 348.80,513.05 349.00,511.88 349.20,511.11 349.40,510.80 349.60,511.80 349.80,511.59 350.00,512.67 350.20,512.63 350.40,511.53 350.60,512.39 350.80,512.53 351.00,513.47 351.20,512.44 351.40,512.14 351.60,513.19 351.80,513.04 352.00,511.63 352.20,512.66 352.40,513.03 352.60,513.67 352.80,513.36 353.00,513.15 353.20,512.07 353.40,513.52 353.60,511.90 353.80,513.88 354.00,513.54 354.20,512.76 354.40,513.59 354.60,514.07 354.80,513.64 355.00,513.30 355.20,514.89 355.40,513.92 355.60,513.89 355.80,514.16 356.00,513.42 356.20,514.40 356.40,514.32 356.60,514.10 356.80,513.68 357.00,514.42 357.20,513.25 357.40,515.03 357.60,513.54 357.80,515.13 358.00,514.70 358.20,514.39 358.40,513.25 358.60,514.14 358.80,515.13 359.00,513.98 359.20,515.12 359.40,515.60 359.60,514.78 359.80,515.10 360.00,514.55 360.20,515.69 360.40,515.09 360.60,514.97 360.80,515.29 361.00,515.57 361.20,516.12 361.40,515.03 361.60,515.65 361.80,515.45 362.00,516.12 362.20,515.91 362.40,516.72 362.60,515.95 362.80,515.49 363.00,515.96 363.20,515.35 363.40,515.59 363.60,514.50 363.80,514.97 364.00,514.82 364.20,511.20 364.40,508.02 364.60,502.71 364.80,492.40 364.90,486.83 365.00,492.50 365.20,502.01 365.40,507.15 365.60,509.97 365.80,509.56 366.00,510.02 366.20,505.86 366.40,498.95 366.60,490.08 366.60,488.81 366.80,498.02 367.00,508.14 367.20,511.02 367.40,514.88 367.60,516.51 367.80,518.43 368.00,518.25 368.20,517.40 368.40,519.25 368.60,517.92 368.80,518.16 369.00,516.91 369.20,518.74 369.40,517.45 369.60,517.70 369.80,518.54 370.00,519.53 370.20,517.18 370.40,519.26 370.60,518.58 370.80,517.56 371.00,517.37 371.20,518.78 371.40,518.16 371.60,518.30 371.80,517.22 372.00,516.23 372.20,519.38 372.40,517.34 372.60,520.08 372.80,517.95 373.00,518.75 373.20,516.45 373.40,517.77 373.60,518.40 373.80,518.20 374.00,518.23 374.20,517.65 374.40,517.88 374.60,517.26 374.80,516.58 375.00,517.17 375.20,518.55 375.40,518.82 375.60,518.15 375.80,516.77 376.00,517.67 376.20,517.81 376.40,517.11 376.60,518.12 376.80,517.79 377.00,516.45 377.20,516.88 377.40,516.81 377.60,516.04 377.80,516.43 378.00,516.16 378.20,515.56 378.40,514.21 378.60,513.90 378.80,513.91 379.00,511.97 379.20,509.43 379.40,505.96 379.60,504.60 379.80,498.79 380.00,493.04 380.20,484.43 380.40,475.12 380.60,463.02 380.80,450.69 381.00,436.96 381.20,421.21 381.40,403.78 381.60,386.29 381.80,366.74 382.00,348.76 382.20,332.03 382.40,311.89 382.60,293.94 382.80,274.89 382.90,264.00 383.00,273.27 383.20,293.73 383.40,310.95 383.60,331.91 383.80,350.88 384.00,368.07 384.20,386.50 384.40,404.34 384.60,421.09 384.80,436.73 385.00,451.66 385.20,464.90 385.40,477.77 385.60,487.21 385.80,493.88 386.00,501.33 386.20,505.44 386.40,508.75 386.60,512.77 386.80,514.39 387.00,514.58 387.20,516.72 387.40,516.68 387.60,517.50 387.80,518.52 388.00,519.50 388.20,520.35 388.40,520.80 388.60,519.81 388.80,520.01 389.00,520.66 389.20,520.04 389.40,521.28 389.60,520.13 389.80,521.07 390.00,521.26 390.20,521.36 390.40,521.57 390.60,519.73 390.80,522.97 391.00,521.74 391.20,521.05 391.40,521.58 391.60,522.48 391.80,521.05 392.00,523.32 392.20,523.62 392.40,522.31 392.60,523.99 392.80,524.83 393.00,522.45 393.20,522.66 393.40,522.81 393.60,523.88 393.80,523.48 394.00,524.50 394.20,522.53 394.40,523.39 394.60,523.55 394.80,525.76 395.00,523.75 395.20,523.34 395.40,523.68 395.60,524.13 395.80,524.88 396.00,525.27 396.20,524.61 396.40,524.87 396.60,525.07 396.80,525.59 397.00,524.11 397.20,526.43 397.40,525.62 397.60,526.14 397.80,524.96 398.00,524.73 398.20,524.96 398.40,525.43 398.60,527.22 398.80,524.55 399.00,525.88 399.20,526.46 399.40,526.44 399.60,526.81 399.80,526.29 400.00,526.47 400.20,527.09 400.40,528.93 400.60,527.00 400.80,526.68 401.00,526.72 401.20,527.35 401.40,526.95 401.60,526.58 401.80,527.86 402.00,526.40 402.20,529.22 402.40,528.75 402.60,528.56 402.80,529.88 403.00,528.80 403.20,527.08 403.40,527.17 403.60,528.18 403.80,526.95 404.00,528.24 404.20,528.92 404.40,528.40 404.60,528.80 404.80,528.18 405.00,530.08 405.20,528.13 405.40,529.40 405.60,528.42 405.80,530.45 406.00,529.63 406.20,529.31 406.40,528.72 406.60,530.54 406.80,528.27 407.00,529.32 407.20,530.23 407.40,528.89 407.60,529.89 407.80,529.11 408.00,528.24 408.20,529.60 408.40,530.75 408.60,530.75 408.80,530.01 409.00,530.33 409.20,531.34 409.40,531.29 409.60,530.28 409.80,528.97 410.00,533.18 410.20,530.42 410.40,531.21 410.60,530.41 410.80,530.36 411.00,531.06 411.20,531.96 411.40,532.30 411.60,532.71 411.80,530.17 412.00,531.37 412.20,531.67 412.40,531.47 412.60,532.37 412.80,531.03 413.00,530.21 413.20,530.38 413.40,532.64 413.60,530.23 413.80,532.01 414.00,532.99 414.20,532.44 414.40,532.24 414.60,531.47 414.80,532.34 415.00,532.76 415.20,531.74 415.40,529.94 415.60,532.14 415.80,531.19 416.00,531.53 416.20,529.41 416.40,533.22 416.60,530.75 416.80,532.75 417.00,532.19 417.20,531.80 417.40,529.09 417.60,532.40 417.80,533.35 418.00,530.72 418.20,532.52 418.40,532.04 418.60,531.88 418.80,531.80 419.00,532.04 419.20,531.70 419.40,531.62 419.60,531.25 419.80,532.34 420.00,532.63 420.20,532.91 420.40,531.54 420.60,532.10 420.80,531.62 421.00,531.65 421.20,530.71 421.40,531.97 421.60,531.53 421.80,533.19 422.00,533.10 422.20,532.48 422.40,533.26 422.60,531.68 422.80,533.40 423.00,532.24 423.20,534.38 423.40,533.27 423.60,532.64 423.80,532.60 424.00,533.90 424.20,532.33 424.40,531.62 424.60,531.92 424.80,533.03 425.00,532.99 425.20,533.52 425.40,532.01 425.60,531.35 425.80,533.02 426.00,534.03 426.20,532.45 426.40,532.05 426.60,534.95 426.80,532.56 427.00,530.88 427.20,532.03 427.40,532.28 427.60,532.42 427.80,531.89 428.00,533.59 428.20,533.53 428.40,532.50 428.60,533.44 428.80,532.66 429.00,534.51 429.20,532.28 429.40,532.23 429.60,532.92 429.80,532.84 430.00,531.63 430.20,533.94 430.40,533.82 430.60,534.00 430.80,533.46 431.00,533.98 431.20,533.12 431.40,533.72 431.60,534.42 431.80,534.53 432.00,532.23 432.20,533.33 432.40,533.49 432.60,533.30 432.80,533.42 433.00,532.74 433.20,532.92 433.40,533.92 433.60,534.15 433.80,534.39 434.00,534.56 434.20,532.34 434.40,534.33 434.60,535.29 434.80,534.31 435.00,534.29 435.20,533.37 435.40,534.43 435.60,533.25 435.80,533.40 436.00,532.67 436.20,531.94 436.40,531.38 436.60,532.68 436.80,534.84 437.00,534.22 437.20,533.69 437.40,532.17 437.60,533.37 437.80,532.95 438.00,534.15 438.20,533.52 438.40,533.44 438.60,534.46 438.80,533.44 439.00,533.21 439.20,534.28 439.40,533.31 439.60,532.80 439.80,534.17 440.00,534.25 440.20,534.54 440.40,534.83 440.60,534.19 440.80,534.70 441.00,534.64 441.20,535.06 441.40,535.74 441.60,535.25 441.80,534.19 442.00,535.51 442.20,535.08 442.40,533.15 442.60,533.61 442.80,535.19 443.00,534.11 443.20,535.21 443.40,533.28 443.60,535.20 443.80,534.65 444.00,533.56 444.20,535.48 444.40,533.68 444.60,535.52 444.80,534.64 445.00,535.12 445.20,534.97 445.40,534.78 445.60,535.00 445.80,535.83 446.00,534.22 446.20,534.46 446.40,534.08 446.60,534.10 446.80,536.53 447.00,534.31 447.20,534.31 447.40,535.85 447.60,534.35 447.80,533.71 448.00,535.00 448.20,534.99 448.40,532.96 448.60,528.48 448.80,528.18 449.00,525.83 449.20,519.95 449.40,513.84 449.60,504.54 449.70,499.00 449.80,506.51 450.00,512.90 450.20,518.97 450.40,525.68 450.60,529.75 450.80,531.26 451.00,535.37 451.20,536.79 451.40,537.95 451.60,537.60 451.80,537.66 452.00,538.50 452.20,538.13 452.40,538.01 452.60,538.40 452.80,539.62 453.00,539.18 453.20,537.86 453.40,539.93 453.60,539.24 453.80,539.40 454.00,539.20 454.20,540.00 454.40,540.25 454.60,536.78 454.80,538.22 455.00,539.70 455.20,539.13 455.40,538.47 455.60,539.39 455.80,538.54 456.00,539.64 456.20,539.42 456.40,539.18 456.60,539.51 456.80,541.30 457.00,539.10 457.20,538.89 457.40,538.70 457.60,540.02 457.80,538.83 458.00,538.95 458.20,540.72 458.40,541.11 458.60,538.73 458.80,540.01 459.00,538.27 459.20,537.26 459.40,539.69 459.60,539.79 459.80,539.19 460.00,538.58 460.20,540.20 460.40,538.08 460.60,538.31 460.80,538.61 461.00,539.69 461.20,538.39 461.40,538.45 461.60,540.29 461.80,537.36 462.00,539.50 462.20,538.91 462.40,539.71 462.60,538.90 462.80,538.21 463.00,539.98 463.20,540.74 463.40,539.67 463.60,540.44 463.80,539.95 464.00,539.39 464.20,539.34 464.40,538.13 464.60,540.20 464.80,538.98 465.00,539.75 465.20,538.07 465.40,537.03 465.60,539.01 465.80,537.76 466.00,539.69 466.20,540.59 466.40,540.19 466.60,540.29 466.80,539.44 467.00,538.32 467.20,536.29 467.40,535.42 467.60,533.59 467.60,534.00 467.80,536.70 468.00,537.31 468.20,538.01 468.40,538.39 468.60,538.59 468.80,539.21 469.00,540.94 469.20,540.29 469.40,540.08 469.60,537.85 469.80,539.77 470.00,538.80 470.20,538.10 470.40,539.12 470.60,539.78 470.80,539.70 471.00,540.35 471.20,539.17 471.40,538.44 471.60,538.94 471.80,538.77 472.00,538.82 472.20,537.67 472.40,540.04 472.60,539.34 472.80,538.85 473.00,538.37 473.20,541.66 473.40,539.96 473.60,539.69 473.80,540.53 474.00,538.95 474.20,539.61 474.40,540.27 474.60,541.49 474.80,541.31 475.00,541.11 475.20,539.91 475.40,541.53 475.60,542.40 475.80,541.95 476.00,541.27 476.20,539.32 476.40,538.67 476.60,541.48 476.80,540.29 477.00,539.98 477.20,540.19 477.40,541.57 477.60,542.75 477.80,542.11 478.00,543.47 478.20,541.65 478.40,541.26 478.60,543.81 478.80,542.23 479.00,542.02 479.20,541.24 479.40,541.22 479.60,541.86 479.80,543.33 480.00,543.14 480.20,541.70 480.40,543.38 480.60,542.87 480.80,541.40 481.00,542.73 481.20,544.13 481.40,543.14 481.60,542.29 481.80,543.07 482.00,541.83 482.20,541.73 482.40,543.52 482.60,543.40 482.80,543.04 483.00,544.06 483.20,542.61 483.40,543.14 483.60,542.25 483.80,543.55 484.00,543.81 484.20,541.31 484.40,543.83 484.60,543.57 484.80,543.72 485.00,543.33 485.20,543.91 485.40,543.11 485.60,543.73 485.80,543.48 486.00,542.76 486.20,542.46 486.40,542.69 486.60,543.81 486.80,542.77 487.00,543.26 487.20,543.26 487.40,544.77 487.60,542.56 487.80,543.32 488.00,541.62 488.20,542.62 488.40,544.25 488.60,544.50 488.80,542.17 489.00,544.06 489.20,542.63 489.40,543.55 489.60,541.33 489.80,543.22 490.00,541.89 490.20,542.07 490.40,543.75 490.60,543.63 490.80,541.96 491.00,543.34 491.20,544.16 491.40,542.24 491.60,540.98 491.80,543.41 492.00,542.08 492.20,543.54 492.40,542.14 492.60,543.63 492.80,542.17 493.00,542.91 493.20,543.60 493.40,543.21 493.60,543.95 493.80,544.50 494.00,544.44 494.20,543.52 494.40,544.46 494.60,543.07 494.80,542.99 495.00,543.06 495.20,543.97 495.40,543.46 495.60,543.55 495.80,542.30 496.00,544.29 496.20,543.91 496.40,543.78 496.60,543.70 496.80,544.27 497.00,544.17 497.20,542.65 497.40,544.20 497.60,542.76 497.80,541.73 498.00,542.44 498.20,545.33 498.40,542.93 498.60,543.21 498.80,543.16 499.00,545.18 499.20,542.95 499.40,544.65 499.60,542.38 499.80,542.48 500.00,540.88 500.20,543.18 500.40,543.39 500.60,539.36 500.80,536.47 500.90,534.99 501.00,536.02 501.20,539.70 501.40,543.16 501.60,543.09 501.80,543.51 502.00,543.18 502.20,542.54 502.40,542.50 502.60,540.30 502.70,538.78 502.80,540.21 503.00,542.19 503.20,543.17 503.40,543.48 503.60,545.44 503.80,543.64 504.00,544.83 504.20,543.82 504.40,545.32 504.60,543.10 504.80,543.75 505.00,545.24 505.20,543.75 505.40,544.67 505.60,542.26 505.80,543.44 506.00,544.57 506.20,543.49 506.40,543.51 506.60,542.00 506.80,542.18 507.00,541.05 507.20,540.99 507.40,536.68 507.60,531.54 507.80,526.99 508.00,519.11 508.20,507.28 508.20,507.50 508.40,518.91 508.60,528.64 508.80,533.50 509.00,537.85 509.20,540.81 509.40,541.10 509.60,544.04 509.80,543.31 510.00,544.89 510.20,542.18 510.40,542.19 510.60,543.34 510.80,542.42 511.00,543.68 511.20,543.76 511.40,544.69 511.60,545.14 511.80,544.20 512.00,544.83 512.20,544.75 512.40,543.67 512.60,544.49 512.80,545.84 513.00,544.59 513.20,545.11 513.40,544.68 513.60,545.45 513.80,543.30 514.00,542.65 514.20,545.49 514.40,543.85 514.60,543.91 514.80,545.49 515.00,544.39 515.20,543.18 515.40,543.72 515.60,543.00 515.80,545.63 516.00,545.24 516.20,544.28 516.40,544.23 516.60,544.55 516.80,544.95 517.00,544.98 517.20,545.18 517.40,544.19 517.60,547.22 517.80,543.14 518.00,545.15 518.20,546.01 518.40,544.16 518.60,546.00 518.80,544.33 519.00,545.08 519.20,544.16 519.40,543.98 519.60,543.52 519.80,545.21 520.00,545.03 520.20,544.76 520.40,546.07 520.60,544.17 520.80,544.59 521.00,545.96 521.20,543.55 521.40,543.39 521.60,545.90 521.80,544.11 522.00,543.47 522.20,543.84 522.40,545.54 522.60,545.92 522.80,544.70 523.00,545.05 523.20,544.58 523.40,544.65 523.60,544.05 523.80,545.06 524.00,544.67 524.20,541.72 524.40,544.62 524.60,543.79 524.80,544.20 525.00,544.26 525.20,545.30 525.40,543.94 525.60,544.47 525.80,543.65 526.00,542.48 526.20,544.22 526.40,543.66 526.60,545.32 526.80,544.24 527.00,542.89 527.20,544.38 527.40,544.91 527.60,544.11 527.80,544.46 528.00,544.50 528.20,544.62 528.40,542.39 528.60,545.06 528.80,544.62 529.00,544.75 529.20,543.04 529.40,544.45 529.60,542.96 529.80,544.01 530.00,544.18 530.20,545.51 530.40,543.00 530.60,543.61 530.80,543.73 531.00,544.20 531.20,544.47 531.40,545.25 531.60,543.17 531.80,543.79 532.00,544.37 532.20,544.61 532.40,543.90 532.60,544.08 532.80,542.45 533.00,543.25 533.20,544.51 533.40,544.97 533.60,544.15 533.80,544.77 534.00,543.83 534.20,543.52 534.40,543.29 534.60,543.48 534.80,544.03 535.00,543.28 535.20,544.66 535.40,543.89 535.60,543.04 535.80,543.52 536.00,544.96 536.20,544.88 536.40,545.34 536.60,542.18 536.80,545.34 537.00,544.04 537.20,542.22 537.40,542.93 537.60,542.70 537.80,544.35 538.00,543.11 538.20,540.79 538.40,543.39 538.60,542.47 538.80,542.33 539.00,540.70 539.20,538.17 539.40,533.80 539.60,530.73 539.80,523.58 540.00,511.59 540.20,497.48 540.30,489.50 540.40,497.01 540.60,512.25 540.80,521.82 541.00,529.01 541.20,535.08 541.40,539.16 541.60,540.46 541.80,542.85 542.00,545.16 542.20,542.68 542.40,545.46 542.60,544.75 542.80,544.84 543.00,544.92 543.20,544.91 543.40,546.01 543.60,544.17 543.80,544.64 544.00,544.63 544.20,543.65 544.40,543.62 544.60,543.38 544.80,542.89 545.00,544.20 545.20,546.06 545.40,544.40 545.60,544.58 545.80,544.52 546.00,545.14 546.20,545.40 546.40,543.81 546.60,543.63 546.80,545.58 547.00,544.02 547.20,544.67 547.40,544.87 547.60,543.85 547.80,544.53 548.00,544.99 548.20,544.41 548.40,546.33 548.60,545.00 548.80,544.85 549.00,545.74 549.20,544.25 549.40,544.16 549.60,544.97 549.80,544.55 550.00,543.75 550.20,543.38 550.40,545.08 550.60,544.04 550.80,543.38 551.00,544.37 551.20,545.05 551.40,545.04 551.60,544.61 551.80,545.27 552.00,542.41 552.20,544.82 552.40,543.92 552.60,544.09 552.80,543.66 553.00,544.61 553.20,545.45 553.40,542.70 553.60,544.29 553.80,544.10 554.00,544.01 554.20,543.01 554.40,543.46 554.60,543.07 554.80,543.39 555.00,544.00 555.20,543.90 555.40,544.82 555.60,545.92 555.80,544.31 556.00,545.07 556.20,541.62 556.40,542.54 556.60,542.84 556.80,544.35 557.00,541.77 557.20,545.04 557.40,544.19 557.60,543.16 557.80,542.30 558.00,539.66 558.20,537.02 558.40,531.43 558.60,526.28 558.80,517.46 559.00,506.47 559.20,491.94 559.20,491.80 559.40,508.26 559.60,519.39 559.80,527.53 560.00,532.43 560.20,538.69 560.40,540.94 560.60,541.07 560.80,543.25 561.00,542.57 561.20,543.63 561.40,544.17 561.60,544.84 561.80,543.76 562.00,544.40 562.20,544.30 562.40,544.33 562.60,543.56 562.80,543.58 563.00,545.31 563.20,543.85 563.40,543.31 563.60,542.70 563.80,542.92 564.00,543.44 564.20,544.68 564.40,544.32 564.60,542.73 564.80,544.22 565.00,542.59 565.20,542.35 565.40,544.50 565.60,543.09 565.80,543.58 566.00,541.57 566.20,542.65 566.40,543.88 566.60,542.99 566.80,544.18 567.00,543.41 567.20,543.00 567.40,542.93 567.60,542.61 567.80,543.48 568.00,543.96 568.20,541.98 568.40,541.56 568.60,539.99 568.80,535.28 569.00,533.10 569.20,529.86 569.30,526.80 569.40,530.89 569.60,533.80 569.80,536.20 570.00,539.50 570.20,540.46 570.40,541.23 570.60,541.04 570.80,544.13 571.00,542.47 571.20,542.38 571.40,541.96 571.60,542.52 571.80,543.93 572.00,543.46 572.20,544.33 572.40,542.74 572.60,542.73 572.80,542.42 573.00,543.77 573.20,543.92 573.40,541.44 573.60,542.66 573.80,541.20 574.00,542.39 574.20,544.13 574.40,542.01 574.60,541.59 574.80,543.13 575.00,544.46 575.20,542.05 575.40,542.77 575.60,542.37 575.80,545.08 576.00,542.16 576.20,545.09 576.40,543.33 576.60,541.70 576.80,544.17 577.00,544.18 577.20,542.86 577.40,540.91 577.60,540.91 577.80,542.94 578.00,541.44 578.20,541.80 578.40,542.07 578.60,541.96 578.80,542.93 579.00,541.51 579.20,541.25 579.40,539.72 579.60,541.34 579.80,544.41 580.00,543.24 580.20,541.81 580.40,542.03 580.60,543.78 580.80,542.18 581.00,542.35 581.20,542.05 581.40,542.09 581.60,541.12 581.80,540.60 582.00,541.29 582.20,542.91 582.40,542.66 582.60,542.45 582.80,541.87 583.00,542.17 583.20,542.06 583.40,542.53 583.60,540.75 583.80,540.72 584.00,540.44 584.20,541.07 584.40,540.05 584.60,540.38 584.80,538.90 585.00,535.82 585.20,530.40 585.40,524.09 585.50,519.20 585.60,523.85 585.80,530.49 586.00,535.07 586.20,538.44 586.40,539.30 586.60,540.61 586.80,541.01 587.00,541.06 587.20,540.44 587.40,539.53 587.60,539.80 587.80,540.66 588.00,541.59 588.20,541.49 588.40,541.43 588.60,540.12 588.80,543.66 589.00,540.88 589.20,542.88 589.40,541.01 589.60,539.70 589.80,541.56 590.00,542.49 590.20,538.65 590.40,537.35 590.60,536.18 590.70,535.00 590.80,537.34 591.00,537.58 591.20,538.17 591.40,539.68 591.60,540.28 591.80,539.50 592.00,539.69 592.20,541.41 592.40,539.50 592.60,540.04 592.80,540.55 593.00,539.49 593.20,539.81 593.40,539.95 593.60,541.06 593.80,539.82 594.00,541.55 594.20,540.64 594.40,542.03 594.60,542.01 594.80,540.05 595.00,540.50 595.20,540.32 595.40,539.84 595.60,540.03 595.80,541.12 596.00,540.23 596.20,540.34 596.40,540.72 596.60,540.34 596.80,540.53 597.00,540.76 597.20,540.45 597.40,539.91 597.60,538.24 597.80,540.81 598.00,539.58 598.20,541.34 598.40,538.57 598.60,540.27 598.80,539.82 599.00,538.78 599.20,539.01 599.40,541.21 599.60,539.35 599.80,540.02 600.00,539.23 600.20,539.61 600.40,539.05 600.60,539.40 600.80,539.71 601.00,538.44 601.20,540.73 601.40,539.52 601.60,539.64 601.80,538.37 602.00,537.75 602.20,536.11 602.40,534.21 602.60,530.76 602.80,526.60 603.00,517.55 603.20,506.66 603.40,493.60 603.50,484.90 603.60,493.63 603.80,505.39 604.00,517.26 604.20,524.64 604.40,530.41 604.60,533.97 604.80,536.46 605.00,535.63 605.20,539.34 605.40,538.05 605.60,538.63 605.80,539.01 606.00,540.27 606.20,540.02 606.40,538.06 606.60,539.55 606.80,538.14 607.00,538.31 607.20,538.38 607.40,538.19 607.60,539.92 607.80,539.24 608.00,538.20 608.20,539.89 608.40,537.27 608.60,539.22 608.80,538.75 609.00,539.57 609.20,538.31 609.40,539.26 609.60,538.80 609.80,539.57 610.00,537.47 610.20,539.95 610.40,538.07 610.60,538.24 610.80,538.03 611.00,539.30 611.20,537.45 611.40,537.48 611.60,538.17 611.80,538.01 612.00,538.39 612.20,537.66 612.40,538.93 612.60,537.68 612.80,537.79 613.00,539.36 613.20,540.41 613.40,538.17 613.60,538.18 613.80,536.93 614.00,537.93 614.20,538.39 614.40,539.13 614.60,537.98 614.80,538.39 615.00,538.82 615.20,537.92 615.40,536.86 615.60,537.68 615.80,538.66 616.00,537.42 616.20,538.65 616.40,539.04 616.60,537.19 616.80,538.08 617.00,536.59 617.20,537.27 617.40,538.23 617.60,537.30 617.80,536.33 618.00,537.60 618.20,538.34 618.40,537.96 618.60,538.07 618.80,538.36 619.00,538.43 619.20,536.90 619.40,536.27 619.60,537.54 619.80,536.50 620.00,536.37 620.20,535.66 620.40,537.27 620.60,537.39 620.80,536.69 621.00,536.94 621.20,536.74 621.40,535.84 621.60,537.32 621.80,536.73 622.00,537.75 622.20,537.00 622.40,537.42 622.60,537.47 622.80,536.97 623.00,537.14 623.20,536.40 623.40,536.00 623.60,537.97 623.80,535.77 624.00,538.56 624.20,536.38 624.40,535.94 624.60,537.10 624.80,536.71 625.00,537.16 625.20,535.68 625.40,539.19 625.60,537.24 625.80,538.06 626.00,536.18 626.20,535.19 626.40,535.26 626.60,535.68 626.80,536.02 627.00,536.87 627.20,535.12 627.40,535.61 627.60,536.86 627.80,537.21 628.00,536.62 628.20,535.11 628.40,534.93 628.60,534.59 628.80,536.64 629.00,536.25 629.20,534.71 629.40,535.69 629.60,535.19 629.80,536.97 630.00,536.12 630.20,535.75 630.40,535.99 630.60,535.98 630.80,536.97 631.00,534.09 631.20,535.31 631.40,536.63 631.60,534.39 631.80,535.20 632.00,534.58 632.20,535.30 632.40,535.74 632.60,535.66 632.80,534.65 633.00,534.22 633.20,534.41 633.40,534.21 633.60,533.68 633.80,534.40 634.00,533.72 634.20,533.57 634.40,534.21 634.60,534.46 634.80,534.71 635.00,535.30 635.20,535.54 635.40,533.03 635.60,534.10 635.80,534.50 636.00,532.63 636.20,533.08 636.40,533.80 636.60,532.93 636.80,533.89 637.00,533.36 637.20,532.06 637.40,532.64 637.60,533.71 637.80,532.83 638.00,532.36 638.20,533.39 638.40,533.59 638.60,531.59 638.80,533.36 639.00,534.16 639.20,532.86 639.40,530.99 639.60,532.32 639.80,531.98 640.00,534.55 640.20,533.12 640.40,531.58 640.60,532.87 640.80,531.36 641.00,532.00 641.20,532.00 641.40,530.87 641.60,532.64 641.80,532.54 642.00,532.00 642.20,531.85 642.40,533.39 642.60,530.88 642.80,531.66 643.00,531.93 643.20,531.21 643.40,532.00 643.60,530.60 643.80,531.49 644.00,530.89 644.20,532.16 644.40,531.60 644.60,531.00 644.80,532.03 645.00,531.74 645.20,531.17 645.40,530.15 645.60,530.38 645.80,530.20 646.00,530.64 646.20,530.09 646.40,529.50 646.60,530.58 646.80,530.30 647.00,530.11 647.20,532.19 647.40,530.56 647.60,530.07 647.80,529.74 648.00,530.56 648.20,529.44 648.40,530.71 648.60,530.27 648.80,528.68 649.00,531.11 649.20,530.01 649.40,530.01 649.60,529.90 649.80,530.21 650.00,529.18 650.20,530.51 650.40,530.64 650.60,529.09 650.80,530.37 651.00,529.02 651.20,529.23 651.40,529.72 651.60,529.37 651.80,529.09 652.00,528.57 652.20,529.37 652.40,528.94 652.60,529.86 652.80,528.84 653.00,530.09 653.20,528.50 653.40,528.75 653.60,526.62 653.80,527.19 654.00,528.27 654.20,527.31 654.40,527.77 654.60,528.84 654.80,529.78 655.00,526.87 655.20,527.37 655.40,529.17 655.60,527.01 655.80,526.71 656.00,527.91 656.20,526.66 656.40,528.58 656.60,527.30 656.80,527.02 657.00,526.34 657.20,526.56 657.40,526.60 657.60,526.24 657.80,527.08 658.00,525.25 658.20,526.52 658.40,525.38 658.60,525.67 658.80,525.35 659.00,523.92 659.20,522.82 659.40,520.22 659.40,521.30 659.60,523.47 659.80,523.68 660.00,524.61 660.20,525.68 660.40,526.12 660.60,525.15 660.80,525.81 661.00,526.47 661.20,525.43 661.40,525.14 661.60,525.18 661.80,526.14 662.00,525.57 662.20,523.96 662.40,525.52 662.60,525.02 662.80,522.74 663.00,523.96 663.20,524.15 663.40,524.53 663.60,521.62 663.80,521.12 664.00,517.21 664.00,517.20 664.20,521.23 664.40,520.35 664.60,522.76 664.80,522.58 665.00,523.07 665.20,524.41 665.40,523.87 665.60,524.25 665.80,523.22 666.00,523.61 666.20,524.18 666.40,522.57 666.60,523.40 666.80,523.39 667.00,524.30 667.20,523.32 667.40,524.71 667.60,523.16 667.80,524.18 668.00,523.26 668.20,523.55 668.40,523.10 668.60,522.94 668.80,523.20 669.00,523.14 669.20,524.18 669.40,524.44 669.60,521.95 669.80,522.42 670.00,523.93 670.20,521.28 670.40,523.23 670.60,522.23 670.80,522.23 671.00,522.42 671.20,521.98 671.40,523.43 671.60,522.35 671.80,522.45 672.00,522.13 672.20,522.35 672.40,522.57 672.60,522.58 672.80,521.29 673.00,522.54 673.20,521.56 673.40,521.51 673.60,521.79 673.80,521.34 674.00,521.19 674.20,521.94 674.40,521.23 674.60,519.98 674.80,522.17 675.00,521.53 675.20,521.82 675.40,519.68 675.60,522.18 675.80,521.05 676.00,520.30 676.20,521.59 676.40,520.98 676.60,521.36 676.80,521.77 677.00,520.75 677.20,520.27 677.40,520.88 677.60,520.40 677.80,519.95 678.00,519.51 678.20,521.26 678.40,519.82 678.60,520.68 678.80,521.57 679.00,520.68 679.20,519.56 679.40,519.75 679.60,520.74 679.80,518.66 680.00,519.50 680.20,519.81 680.40,520.11 680.60,519.35 680.80,519.90 681.00,518.73 681.20,519.29 681.40,519.02 681.60,519.66 681.80,520.48 682.00,518.95 682.20,520.04 682.40,519.33 682.60,519.21 682.80,519.73 683.00,518.45 683.20,520.12 683.40,517.92 683.60,519.41 683.80,518.22 684.00,517.93 684.20,519.47 684.40,519.33 684.60,518.05 684.80,518.56 685.00,518.59 685.20,519.95 685.40,519.76 685.60,518.12 685.80,517.41 686.00,518.94 686.20,519.01 686.40,518.17 686.60,517.94 686.80,517.82 687.00,518.51 687.20,519.56 687.40,517.03 687.60,518.41 687.80,517.09 688.00,519.41 688.20,517.64 688.40,518.23 688.60,518.61 688.80,517.07 689.00,516.79 689.20,518.11 689.40,517.17 689.60,518.37 689.80,517.99 690.00,517.68 690.20,517.66 690.40,516.85 690.60,518.10 690.80,516.43 691.00,516.34 691.20,517.10 691.40,517.71 691.60,518.47 691.80,516.72 692.00,517.09 692.20,516.41 692.40,517.15 692.60,516.30 692.80,516.26 693.00,516.11 693.20,515.82 693.40,515.73 693.60,515.15 693.80,516.31 694.00,515.15 694.20,515.45 694.40,515.77 694.60,516.09 694.80,514.26 695.00,515.03 695.20,515.47 695.40,514.96 695.60,514.92 695.80,515.20 696.00,515.71 696.20,514.54 696.40,514.67 696.60,514.66 696.80,513.68 697.00,515.20 697.20,514.85 697.40,513.98 697.60,513.42 697.80,513.48 698.00,513.31 698.20,515.26 698.40,513.29 698.60,513.25 698.80,512.97 699.00,513.83 699.20,512.91 699.40,512.48 699.60,511.97 699.80,512.81 700.00,513.81 700.20,512.76 700.40,512.25 700.60,512.24 700.80,511.18 701.00,512.53 701.20,512.99 701.40,512.63 701.60,511.64 701.80,512.54 702.00,512.61 702.20,512.37 702.40,510.87 702.60,511.43 702.80,511.72 703.00,510.81 703.20,510.83 703.40,511.86 703.60,510.53 703.80,510.83 704.00,512.29 704.20,511.60 704.40,510.52 704.60,510.26 704.80,510.69 705.00,511.07 705.20,510.12 705.40,511.42 705.60,509.72 705.80,510.09 706.00,509.91 706.20,510.23 706.40,509.13 706.60,511.15 706.80,510.07 707.00,509.00 707.20,509.76 707.40,508.21 707.60,508.80 707.80,509.50 708.00,508.15 708.20,508.85 708.40,508.30 708.60,508.99 708.80,508.88 709.00,507.91 709.20,508.21 709.40,508.68 709.60,508.66 709.80,507.55 710.00,506.71 710.20,508.35 710.40,507.27 710.60,509.54 710.80,508.46 711.00,507.03 711.20,506.35 711.40,507.27 711.60,506.87 711.80,506.98 712.00,506.41 712.20,507.70 712.40,506.49 712.60,507.11 712.80,506.97 713.00,506.67 713.20,506.72 713.40,507.01 713.60,506.59 713.80,506.96 714.00,505.31 714.20,505.73 714.40,506.37 714.60,505.00 714.80,505.11 715.00,505.55 715.20,506.13 715.40,505.54 715.60,505.26 715.80,504.65 716.00,505.58 716.20,505.75 716.40,503.83 716.60,504.33 716.80,504.94 717.00,505.66 717.20,504.67 717.40,504.19 717.60,504.34 717.80,504.22 718.00,504.64 718.20,503.86 718.40,504.89 718.60,504.71 718.80,504.67 719.00,504.68 719.20,502.94 719.40,505.19 719.60,503.88 719.80,504.58 720.00,504.66 720.20,504.07 720.40,505.40 720.60,504.73 720.80,503.46 721.00,505.28 721.20,505.18 721.40,506.29 721.60,505.69 721.80,507.24 722.00,506.42 722.20,506.89 722.40,505.65 722.60,507.40 722.80,507.85 723.00,508.25 723.20,509.34 723.40,508.69 723.60,508.89 723.80,510.79 724.00,510.71 724.20,512.10 724.40,512.24 724.60,512.86 724.80,514.85 725.00,515.05 725.20,514.51 725.40,517.19 725.60,516.49 725.80,517.41 726.00,518.49 726.20,518.44 726.40,518.92 726.60,519.41 726.80,522.43 727.00,519.87 727.20,522.15 727.40,521.45 727.60,522.78 727.80,523.59 728.00,523.64 728.20,521.59 728.40,523.28 728.60,525.21 728.80,525.22 729.00,524.96 729.20,525.84 729.40,526.68 729.60,527.34 729.80,528.51 730.00,527.49 730.20,527.32 730.40,526.53 730.60,528.88 730.80,528.03 731.00,528.70 731.20,527.77 731.40,528.99 731.60,529.55 731.80,530.51 732.00,528.68 732.20,529.24 732.40,528.57 732.60,530.05 732.80,527.60 733.00,530.42 733.20,529.53 733.40,529.73 733.60,529.28 733.80,530.44 734.00,531.17 734.20,531.35 734.40,529.98 734.60,530.68 734.80,530.60 735.00,531.67 735.20,530.97 735.40,531.00 735.60,530.76 735.80,532.57 736.00,532.09 736.20,530.10 736.40,531.95 736.60,531.79 736.80,532.14 737.00,533.15 737.20,532.88 737.40,531.77 737.60,532.73 737.80,530.56 738.00,533.60 738.20,534.06 738.40,532.85 738.60,533.63 738.80,531.54 739.00,533.15 739.20,532.45 739.40,534.17 739.60,532.50 739.80,532.62 740.00,532.20 740.20,533.15 740.40,532.99 740.60,533.38 740.80,532.82 741.00,534.07 741.20,533.38 741.40,534.44 741.60,533.47 741.80,534.42 742.00,534.86 742.20,535.00 742.40,533.28 742.60,535.99 742.80,536.04 743.00,534.34 743.20,535.86 743.40,535.52 743.60,535.66 743.80,533.39 744.00,536.05 744.20,536.21 744.40,536.04 744.60,535.61 744.80,535.50 745.00,537.32 745.20,535.77 745.40,534.58 745.60,537.95 745.80,536.01 746.00,535.95 746.20,536.61 746.40,537.03 746.60,539.03 746.80,536.04 747.00,537.49 747.20,537.58 747.40,536.51 747.60,539.85 747.80,538.04 748.00,537.65 748.20,537.74 748.40,538.03 748.60,536.95 748.80,538.70 749.00,538.24 749.20,538.65 749.40,540.87 749.60,540.42 749.80,538.06 750.00,540.37 750.20,540.38 750.40,541.70 750.60,541.02 750.80,542.09 751.00,541.65 751.20,540.78 751.40,542.24 751.60,542.24 751.80,540.64 752.00,541.63 752.20,541.79 752.40,541.54 752.60,543.16 752.80,543.21 753.00,544.96 753.20,542.55 753.40,543.62 753.60,543.63 753.80,544.84 754.00,543.43 754.20,543.61 754.40,544.23 754.60,546.10 754.80,545.57 755.00,544.98 755.20,545.91 755.40,544.90 755.60,544.43 755.80,546.21 756.00,545.66 756.20,546.02 756.40,543.98 756.60,543.31 756.80,540.08 756.90,541.50 757.00,543.75 757.20,544.32 757.40,546.12 757.60,546.46 757.80,545.93 758.00,547.81 758.20,547.10 758.40,550.16 758.60,547.23 758.80,548.35 759.00,548.92 759.20,549.38 759.40,547.64 759.60,549.76 759.80,548.16 760.00,550.14 760.20,549.77 760.40,549.64 760.60,548.13 760.80,550.11 761.00,550.31 761.20,550.80 761.40,551.22 761.60,551.71 761.80,549.39 762.00,549.89 762.20,552.28 762.40,551.52 762.60,552.98 762.80,550.74 763.00,550.81 763.20,550.95 763.40,551.04 763.60,547.84 763.80,545.41 764.00,542.13 764.20,534.88 764.40,528.04 764.50,520.90 764.60,527.76 764.80,536.01 765.00,541.02 765.20,547.33 765.40,549.20 765.60,552.48 765.80,554.23 766.00,553.60 766.20,554.75 766.40,554.27 766.60,555.11 766.80,557.36 767.00,559.50 767.20,556.73 767.40,558.30 767.60,558.60 767.80,558.58 768.00,557.33 768.20,556.31 768.40,554.99 768.60,550.74 768.80,551.16 768.80,549.80 769.00,555.08 769.20,557.41 769.40,557.98 769.60,558.82 769.80,561.68 770.00,559.56 770.20,562.51 770.40,560.79 770.60,562.39 770.80,561.66 771.00,562.42 771.20,563.79 771.40,563.24 771.60,565.76 771.80,566.06 772.00,565.28 772.20,563.54 772.40,566.44 772.60,566.61 772.80,564.20 773.00,566.51 773.20,566.91 773.40,568.55 773.60,567.52 773.80,567.20 774.00,568.35 774.20,567.67 774.40,568.56 774.60,567.99 774.80,568.61 775.00,570.17 775.20,569.06 775.40,568.04 775.60,570.12 775.80,572.24 776.00,570.61 776.20,571.28 776.40,567.86 776.60,570.40 776.80,572.97 777.00,571.96 777.20,569.99 777.40,573.57 777.60,572.87 777.80,572.40 778.00,572.77 778.20,573.53 778.40,572.75 778.60,574.95 778.80,574.03 779.00,574.23 779.20,574.01 779.40,574.18 779.60,573.96 779.80,574.60 780.00,574.86 780.20,573.99 780.40,573.44 780.60,573.53 780.80,576.55 781.00,574.83 781.20,574.33 781.40,575.87 781.60,575.05 781.80,576.16 782.00,575.51 782.20,578.34 782.40,575.85 782.60,577.37 782.80,577.94 783.00,577.57 783.20,576.01 783.40,576.30 783.60,577.49 783.80,576.85 784.00,578.85 784.20,580.26 784.40,581.36 784.60,579.00 784.80,579.39 785.00,579.36 785.20,579.54 785.40,578.12 785.60,581.40 785.80,581.42 786.00,577.78 786.20,579.66 786.40,581.42 786.60,584.17 786.80,582.68 787.00,582.19 787.20,582.01 787.40,581.84 787.60,582.68 787.80,580.88 788.00,584.55 788.20,583.44 788.40,584.25 788.60,582.32 788.80,583.44 789.00,582.75 789.20,584.04 789.40,578.74 789.60,583.52 789.80,585.96 790.00,585.06 790.20,585.81 790.40,584.20 790.60,584.02 790.80,585.07 791.00,586.07 791.20,586.97 791.40,583.63 791.60,584.52 791.80,590.90 792.00,586.43 792.20,587.98 792.40,587.42 792.60,584.36 792.80,588.89 793.00,588.90 793.20,583.60 793.40,588.32 793.60,588.09 793.80,586.08 794.00,588.82 794.20,588.11 794.40,587.92 794.60,586.23 794.80,591.17 795.00,590.08 795.20,589.11 795.40,587.60 795.60,590.23 795.80,588.61 796.00,590.32 796.20,590.28 796.40,587.75 796.60,590.33 796.80,585.32 797.00,589.67 797.20,588.58 797.40,589.35 797.60,593.23 797.80,593.36 798.00,590.21 798.20,592.85 798.40,591.99 798.60,591.69 798.80,592.69 799.00,589.29 799.20,590.00 799.40,591.04 799.60,590.45 799.80,592.91 800.00,590.03 800.20,592.91 800.40,588.99 800.60,592.71 800.80,592.57 801.00,589.77 801.20,590.67 801.40,593.37 801.60,590.84 801.80,591.88 802.00,591.90 802.20,590.94 802.40,590.98 802.60,590.35 802.80,591.27 803.00,591.55 803.20,592.27 803.40,589.58 803.60,593.32 803.80,588.67 804.00,587.96 804.20,587.52 804.40,590.62 804.60,585.58 804.80,585.12 805.00,581.99 805.20,573.24 805.20,578.80 805.40,582.90 805.60,589.34 805.80,593.13 806.00,590.25 806.20,590.88 806.40,590.96 806.60,591.99 806.80,596.12 807.00,592.27 807.20,591.11 807.40,590.43 807.60,594.80 807.80,594.77 808.00,594.49 808.20,594.45 808.40,596.18 808.60,594.63 808.80,590.80 809.00,595.37 809.20,596.82 809.40,594.13 809.60,594.57 809.80,592.58 810.00,595.08 810.20,594.14 810.40,595.31 810.60,595.57 810.80,593.28 811.00,593.74 811.20,594.07 811.40,593.11 811.60,595.47 811.80,594.03 812.00,593.74 812.20,592.07 812.40,597.45 812.60,594.80 812.80,593.43 813.00,595.25 813.20,594.11 813.40,593.10 813.60,593.49 813.80,597.38 814.00,596.50 814.20,599.36 814.40,593.30 814.60,594.11 814.80,592.14 815.00,594.44 815.20,596.58 815.40,592.71 815.60,596.95 815.80,594.66 816.00,595.05 816.20,593.34 816.40,593.13 816.60,595.52 816.80,596.09 817.00,594.91 817.20,595.88 817.40,593.20 817.60,594.24 817.80,592.46 818.00,590.33 818.20,596.54 818.40,596.10 818.60,594.20 818.80,594.37 819.00,595.73 819.20,598.21 819.40,590.62 819.60,595.05 819.80,597.32 820.00,599.56 820.20,592.77 820.40,594.72 820.60,595.34 820.80,597.24 821.00,595.59 821.20,596.14 821.40,599.97 821.60,590.66 821.80,594.73 822.00,596.17 822.20,597.33 822.40,596.71 822.60,591.24 822.80,594.95 823.00,598.12 823.20,594.11 823.40,594.85 823.60,594.83 823.80,596.06 824.00,596.15 824.20,595.48 824.40,596.29 824.60,598.51 824.80,597.80 825.00,595.98 825.20,598.96 825.40,596.30 825.60,596.66 825.80,594.76 826.00,595.84 826.20,596.72 826.40,596.74 826.60,595.43 826.80,594.52 827.00,598.27 827.20,599.15 827.40,597.72 827.60,600.65 827.80,597.86 828.00,594.89 828.20,594.64 828.40,593.64 828.60,596.39 828.80,596.26 829.00,597.67 829.20,597.58 829.40,596.10 829.60,594.96 829.80,595.89 830.00,600.51 830.20,595.58 830.40,596.29 830.60,597.18 830.80,595.60 831.00,593.98 831.20,595.17 831.40,596.55 831.60,588.82 831.80,595.95 832.00,593.72 832.20,592.04 832.40,595.72 832.60,592.68 832.80,594.52 833.00,592.76 833.20,592.93 833.40,587.73 833.60,592.58 833.80,588.49 834.00,588.54 834.20,591.14 834.40,583.54 834.60,585.96 834.80,582.88 835.00,577.19 835.20,569.98 835.40,553.98 835.60,528.80 835.80,498.73 836.00,460.24 836.20,418.30 836.40,380.53 836.60,339.12 836.80,294.06 836.80,293.19 837.00,292.76 837.20,295.59 837.30,293.80 837.40,292.44 837.60,292.71 837.80,291.47 837.80,295.32 838.00,335.59 838.20,377.10 838.40,422.63 838.60,457.49 838.80,492.49 839.00,523.27 839.20,544.82 839.40,558.05 839.60,567.11 839.80,572.83 840.00,574.04 840.20,573.96 840.40,575.64 840.60,573.17 840.80,575.86 841.00,575.93 841.20,579.06 841.40,576.15 841.60,578.40 841.80,575.37 842.00,581.05 842.20,578.26 842.40,579.95 842.60,580.38 842.80,577.50 843.00,579.21 843.20,582.70 843.40,579.47 843.60,583.27 843.80,581.13 844.00,585.67 844.20,583.58 844.40,583.81 844.60,584.17 844.80,586.60 845.00,587.42 845.20,584.50 845.40,583.71 845.60,584.98 845.80,585.91 846.00,588.22 846.20,586.36 846.40,587.15 846.60,587.72 846.80,586.44 847.00,586.73 847.20,586.53 847.40,587.89 847.60,589.11 847.80,588.19 848.00,588.59 848.20,591.16 848.40,589.06 848.60,591.61 848.80,592.38 849.00,590.52 849.20,590.40 849.40,588.19 849.60,590.20 849.80,588.88 850.00,587.42 850.20,589.91 850.40,589.53 850.60,591.57 850.80,588.88 851.00,590.33 851.20,590.35 851.40,592.52 851.60,592.09 851.80,591.40 852.00,589.57 852.20,587.03 852.40,590.60 852.60,586.46 852.80,583.12 853.00,573.33 853.20,570.48 853.40,560.72 853.60,544.65 853.70,537.90 853.80,545.05 854.00,562.89 854.20,566.46 854.40,577.81 854.60,583.66 854.80,588.69 855.00,588.69 855.20,589.63 855.40,592.01 855.60,588.96 855.80,592.15 856.00,591.58 856.20,591.48 856.40,589.66 856.60,593.11 856.80,592.42 857.00,592.15 857.20,591.68 857.40,596.46 857.60,590.94 857.80,593.49 858.00,594.77 858.20,593.58 858.40,597.33 858.60,595.26 858.80,593.57 859.00,591.45 859.20,594.36 859.40,593.57 859.60,595.03 859.80,592.93 860.00,595.51 860.20,593.86 860.40,595.42 860.60,596.67 860.80,596.74 861.00,596.08 861.20,592.60 861.40,588.66 861.60,595.28 861.80,596.34 862.00,593.89 862.20,593.99 862.40,596.00 862.60,591.23 862.80,593.29 863.00,593.17 863.20,594.91 863.40,594.80 863.60,593.16 863.80,597.81 864.00,596.68 864.20,594.94 864.40,598.00 864.60,591.91 864.80,596.36 865.00,595.98 865.20,594.47 865.40,592.08 865.60,595.03 865.80,596.27 866.00,596.29 866.20,593.46 866.40,594.19 866.60,586.94 866.80,586.87 867.00,592.06 867.00,585.80 867.20,588.69 867.40,587.12 867.60,597.16 867.80,594.95 868.00,592.25 868.20,596.37 868.40,595.08 868.60,596.36 868.80,594.13 869.00,597.71 869.20,595.53 869.40,598.51 869.60,593.70 869.80,594.46 870.00,595.77 870.20,595.64 870.40,595.68 870.60,596.50 870.80,595.47 871.00,595.07 871.20,595.96 871.40,597.03 871.60,596.67 871.80,596.80 872.00,594.99 872.20,595.61 872.40,591.98 872.60,596.31 872.80,595.83 873.00,597.27 873.20,595.82 873.40,596.94 873.60,597.79 873.80,595.75 874.00,592.89 874.20,597.87 874.40,597.46 874.60,596.24 874.80,595.67 875.00,593.57 875.20,597.53 875.40,596.53 875.60,597.88 875.80,598.06 876.00,597.27 876.20,598.60 876.40,595.45 876.60,594.25 876.80,597.46 877.00,597.86 877.20,593.76 877.40,596.92 877.60,593.47 877.80,602.43 878.00,596.88 878.20,598.65 878.40,597.68 878.60,594.96 878.80,594.42 879.00,597.01 879.20,594.75 879.40,598.99 879.60,596.16 879.80,597.05 880.00,600.25 880.20,594.88 880.40,598.09 880.60,595.81 880.80,598.25 881.00,596.29 881.20,595.37 881.40,596.62 881.60,597.57 881.80,595.32 882.00,596.11 882.20,597.39 882.40,596.42 882.60,596.65 882.80,597.16 883.00,594.58 883.20,592.84 883.40,597.45 883.60,596.62 883.80,598.29 884.00,599.08 884.20,593.98 884.40,597.68 884.60,595.57 884.80,599.05 885.00,597.55 885.20,595.24 885.40,595.21 885.60,595.69 885.80,595.31 886.00,595.68 886.20,594.04 886.40,592.58 886.60,594.91 886.80,596.28 887.00,598.16 887.20,597.02 887.40,596.66 887.60,593.00 887.80,599.16 888.00,597.58 888.20,598.05 888.40,594.10 888.60,597.32 888.80,599.66 889.00,600.10 889.20,595.19 889.40,599.19 889.60,593.51 889.80,593.57 890.00,598.11 890.20,596.45 890.40,595.68 890.60,598.81 890.80,598.25 891.00,596.99 891.20,595.74 891.40,595.07 891.60,599.53 891.80,595.11 892.00,595.83 892.20,596.12 892.40,596.51 892.60,593.40 892.80,592.27 893.00,596.45 893.20,595.83 893.40,598.76 893.60,596.28 893.80,593.99 894.00,595.61 894.20,594.63 894.40,595.58 894.60,595.12 894.80,593.91 895.00,593.68 895.20,599.31 895.40,595.68 895.60,601.26 895.80,595.14 896.00,596.28 896.20,596.36 896.40,591.84 896.60,594.33 896.80,592.69 897.00,593.72 897.20,591.48 897.40,595.49 897.60,595.49 897.80,595.13 898.00,589.79 898.20,595.80 898.40,594.81 898.60,591.97 898.80,592.89 899.00,595.84 899.20,591.13 899.40,593.76 899.60,591.71 899.80,593.45 900.00,593.07 900.20,596.35 900.40,591.92 900.60,596.47 900.80,594.93 901.00,592.89 901.20,595.97 901.40,595.06 901.60,595.33 901.80,595.01 902.00,594.01 902.20,598.23 902.40,595.78 902.60,589.59 902.80,596.92 903.00,592.14 903.20,585.92 903.40,586.63 903.60,577.28 903.80,566.95 904.00,548.37 904.20,536.76 904.20,534.90 904.40,553.15 904.60,565.44 904.80,578.29 905.00,586.50 905.20,589.49 905.40,594.86 905.60,594.50 905.80,595.29 906.00,595.59 906.20,593.79 906.40,594.43 906.60,600.17 906.80,599.63 907.00,594.52 907.20,598.44 907.40,599.29 907.60,596.25 907.80,600.04 908.00,596.76 908.20,599.44 908.40,595.95 908.60,599.06 908.80,596.95 909.00,596.41 909.20,595.18 909.40,600.41 909.60,599.49 909.80,601.72 910.00,602.37 910.20,599.69 910.40,598.24 910.60,595.85 910.80,599.46 911.00,594.39 911.20,598.12 911.40,596.59 911.60,599.04 911.80,601.19 912.00,595.01 912.20,599.06 912.40,596.00 912.60,599.20 912.80,597.11 913.00,598.71 913.20,599.10 913.40,598.65 913.60,596.83 913.80,600.91 914.00,600.39 914.20,596.13 914.40,599.83 914.60,597.83 914.80,601.13 915.00,598.66 915.20,595.80 915.40,597.98 915.60,597.70 915.80,598.98 916.00,597.90 916.20,601.95 916.40,601.62 916.60,597.18 916.80,601.87 917.00,595.21 917.20,596.44 917.40,601.13 917.60,603.51 917.80,604.28 918.00,598.57 918.20,599.69 918.40,596.77 918.60,598.93 918.80,596.77 919.00,598.51 919.20,602.79 919.40,601.34 919.60,603.05 919.80,602.12 920.00,602.81 920.20,602.42 920.40,599.09 920.60,603.62 920.80,605.32 921.00,604.29 921.20,604.19 921.40,604.67 921.60,603.97 921.80,604.80 922.00,601.52 922.20,602.03 922.40,605.92 922.60,601.97 922.80,601.07 923.00,604.32 923.20,606.32 923.40,603.45 923.60,604.68 923.80,603.78 924.00,607.05 924.20,599.85 924.40,605.18 924.60,603.56 924.80,606.20 925.00,604.53 925.20,610.23 925.40,608.00 925.60,610.75 925.80,602.82 926.00,608.37 926.20,608.82 926.40,602.66 926.60,606.46 926.80,605.76 927.00,602.94 927.20,604.35 927.40,604.81 927.60,604.08 927.80,610.17 928.00,602.70 928.20,602.67 928.40,601.52 928.60,610.75 928.80,607.91 929.00,607.29 929.20,602.06 929.40,604.77 929.60,602.01 929.80,605.15 930.00,607.76 930.20,609.35 930.40,607.70 930.60,603.15 930.80,608.47 931.00,610.70 931.20,605.84 931.40,603.26 931.60,600.73 931.80,603.45 932.00,604.05 932.20,610.40 932.40,606.98 932.60,606.79 932.80,605.30 933.00,607.32 933.20,602.54 933.40,600.27 933.60,601.03 933.80,598.98 934.00,593.28 934.10,590.70 934.20,591.85 934.40,600.25 934.60,597.81 934.80,602.96 935.00,604.59 935.20,603.27 935.40,606.94 935.60,603.51 935.80,600.69 936.00,604.75 936.20,605.33 936.40,606.93 936.60,602.34 936.80,603.17 937.00,609.31 937.20,603.51 937.40,607.31 937.60,608.47 937.80,605.89 938.00,607.24 938.20,603.02 938.40,608.68 938.60,608.77 938.80,608.00 939.00,606.15 939.20,604.47 939.40,608.41 939.60,607.58 939.80,609.58 940.00,606.41 940.20,608.36 940.40,600.94 940.60,601.54 940.80,608.22 941.00,605.75 941.20,605.12 941.40,607.40 941.60,607.06 941.80,604.68 942.00,606.83 942.20,606.92 942.40,606.32 942.60,603.39 942.80,606.90 943.00,605.41 943.20,605.78 943.40,604.69 943.60,606.84 943.80,607.56 944.00,608.04 944.20,605.90 944.40,606.15 944.60,607.10 944.80,606.01 945.00,601.02 945.20,604.73 945.40,610.89 945.60,603.57 945.80,606.31 946.00,609.05 946.20,603.54 946.40,606.90 946.60,604.35 946.80,608.20 947.00,604.31 947.20,607.47 947.40,604.59 947.60,604.93 947.80,609.58 948.00,606.04 948.20,605.82 948.40,607.09 948.60,611.15 948.80,606.34 949.00,607.77 949.20,604.23 949.40,609.57 949.60,604.78 949.80,606.79 950.00,601.16 950.20,609.53 950.40,604.94 950.60,608.47 950.80,609.47 951.00,604.73 951.20,605.86 951.40,604.84 951.60,611.12 951.80,610.18 952.00,605.99 952.20,609.39 952.40,604.31 952.60,603.51 952.80,607.76 953.00,607.40 953.20,607.44 953.40,608.21 953.60,607.63 953.80,608.12 954.00,606.58 954.20,608.40 954.40,608.87 954.60,608.37 954.80,609.13 955.00,607.90 955.20,606.46 955.40,602.89 955.60,611.63 955.80,611.06 956.00,607.99 956.20,607.78 956.40,607.98 956.60,603.46 956.80,612.25 957.00,608.31 957.20,610.99 957.40,608.71 957.60,606.80 957.80,611.46 958.00,605.64 958.20,610.09 958.40,610.60 958.60,612.04 958.80,609.82 959.00,609.94 959.20,606.24 959.40,611.94 959.60,607.75 959.80,606.28 960.00,608.90 960.20,606.44 960.40,609.89 960.60,607.23 960.80,608.98 961.00,603.03 961.20,608.80 961.40,608.81 961.60,607.11 961.80,609.29 962.00,608.48 962.20,607.18 962.40,605.88 962.60,609.34 962.80,607.75 963.00,608.27 963.20,606.19 963.40,605.86 963.60,606.82 963.80,607.12 964.00,603.48 964.20,609.75 964.40,603.79 964.60,606.36 964.80,611.23 965.00,607.27 965.20,610.89 965.40,607.81 965.60,612.28 965.80,605.74 966.00,609.29 966.20,603.51 966.40,609.08 966.60,607.21 966.80,610.51 967.00,607.59 967.20,607.15 967.40,606.03 967.60,601.38 967.80,603.29 968.00,605.29 968.20,607.87 968.40,607.74 968.60,607.76 968.80,609.01 969.00,605.39 969.20,607.07 969.40,605.66 969.60,607.45 969.80,605.96 970.00,602.68 970.20,605.94 970.40,604.56 970.60,608.68 970.80,607.01 971.00,607.51 971.20,605.41 971.40,605.86 971.60,608.09 971.80,605.66 972.00,606.15 972.20,610.07 972.40,606.44 972.60,603.55 972.80,608.37 973.00,603.71 973.20,604.59 973.40,605.78 973.60,605.11 973.80,607.99 974.00,604.43 974.20,609.36 974.40,608.63 974.60,604.72 974.80,608.52 975.00,601.24 975.20,605.10 975.40,603.74 975.60,603.56 975.80,606.70 976.00,605.69 976.20,604.62 976.40,605.67 976.60,601.99 976.80,603.22 977.00,605.08 977.20,602.62 977.40,605.36 977.60,603.69 977.80,605.09 978.00,606.06 978.20,607.58 978.40,607.02 978.60,605.20 978.80,604.28 979.00,610.17 979.20,606.15 979.40,603.81 979.60,605.49 979.80,607.63 980.00,607.38 980.20,601.11 980.40,608.64 980.60,605.68 980.80,602.97 981.00,609.43 981.20,603.24 981.40,608.33 981.60,602.38 981.80,598.52 982.00,607.49 982.20,604.72 982.40,603.67 982.60,605.78 982.80,603.17 983.00,606.02 983.20,605.63 983.40,606.16 983.60,604.36 983.80,603.11 984.00,601.92 984.20,604.36 984.40,606.51 984.60,605.12 984.80,605.15 985.00,604.82 985.20,602.55 985.40,604.16 985.60,603.58 985.80,603.63 986.00,603.91 986.20,604.74 986.40,601.96 986.60,603.78 986.80,603.79 987.00,606.04 987.20,605.05 987.40,604.77 987.60,602.07 987.80,607.31 988.00,601.62 988.20,602.96 988.40,604.81 988.60,605.09 988.80,601.96 989.00,602.58 989.20,607.51 989.40,604.54 989.60,605.01 989.80,603.05 990.00,604.28 990.20,601.76 990.40,603.93 990.60,603.32 990.80,599.86 991.00,603.15 991.20,603.69 991.40,602.43 991.60,605.40 991.80,606.02 992.00,602.45 992.20,603.67 992.40,605.51 992.60,600.18 992.80,600.68 993.00,601.68 993.20,603.43 993.40,602.74 993.60,603.63 993.80,600.46 994.00,605.69 994.20,601.89 994.40,602.52 994.60,605.16 994.80,601.27 995.00,603.48 995.20,598.54 995.40,600.16 995.60,602.99 995.80,603.77 996.00,604.51 996.20,604.65 996.40,602.36 996.60,606.37 996.80,600.97 997.00,601.64 997.20,603.58 997.40,601.63 997.60,598.16 997.80,602.76 998.00,599.58 998.20,604.20 998.40,604.97 998.60,601.36 998.80,608.05 999.00,601.56 999.20,603.80 999.40,604.94 999.60,603.70 999.80,603.69 1000.00,601.15 1000.20,602.52 1000.40,604.43 1000.60,605.85 1000.80,607.99 1001.00,605.78 1001.20,612.72 1001.40,604.86 1001.60,607.59 1001.80,611.97 1002.00,607.13 1002.20,611.05 1002.40,610.50 1002.60,614.13 1002.80,612.09 1003.00,610.33 1003.20,611.37 1003.40,610.91 1003.60,613.86 1003.80,611.13 1004.00,616.64 1004.20,614.84 1004.40,620.50 1004.60,615.09 1004.80,616.15 1005.00,615.72 1005.20,614.02 1005.40,612.38 1005.60,618.97 1005.80,616.83 1006.00,621.48 1006.20,612.01 1006.40,613.61 1006.60,616.00 1006.80,614.31 1007.00,615.46 1007.20,619.58 1007.40,616.30 1007.60,615.35 1007.80,616.55 1008.00,619.12 1008.20,620.15 1008.40,613.12 1008.60,618.91 1008.80,618.42 1009.00,623.84 1009.20,618.54 1009.40,619.95 1009.60,623.15 1009.80,617.64 1010.00,621.35 1010.20,619.84 1010.40,620.59 1010.60,623.97 1010.80,621.54 1011.00,618.81 1011.20,625.83 1011.40,625.89 1011.60,625.80 1011.80,621.53 1012.00,625.07 1012.20,623.15 1012.40,620.96 1012.60,627.37 1012.80,620.35 1013.00,624.49 1013.20,625.21 1013.40,620.63 1013.60,623.76 1013.80,628.84 1014.00,625.50 1014.20,627.64 1014.40,624.90 1014.60,627.11 1014.80,626.90 1015.00,623.41 1015.20,631.02 1015.40,625.62 1015.60,627.22 1015.80,625.81 1016.00,633.57 1016.20,629.72 1016.40,628.33 1016.60,622.64 1016.80,631.05 1017.00,630.84 1017.20,628.34 1017.40,627.03 1017.60,629.84 1017.80,628.00 1018.00,633.08 1018.20,623.68 1018.40,629.64 1018.60,628.43 1018.80,621.12 1019.00,630.61 1019.20,632.61 1019.40,631.84 1019.60,623.96 1019.80,628.97 1020.00,629.97 1020.20,626.54 1020.40,624.47 1020.60,618.01 1020.70,618.60 1020.80,619.97 1021.00,623.33 1021.20,629.57 1021.40,632.54 1021.60,628.74 1021.80,629.14 1022.00,630.74 1022.20,630.81 1022.40,630.13 1022.60,635.69 1022.80,633.57 1023.00,635.39 1023.20,638.60 1023.40,631.66 1023.60,634.16 1023.80,632.47 1024.00,632.01 1024.20,636.87 1024.40,629.78 1024.60,633.64 1024.80,631.71 1025.00,629.83 1025.20,636.66 1025.40,637.31 1025.60,635.09 1025.80,632.45 1026.00,632.56 1026.20,642.36 1026.40,632.06 1026.60,638.10 1026.80,635.41 1027.00,641.27 1027.20,640.11 1027.40,636.44 1027.60,643.38 1027.80,635.48 1028.00,639.92 1028.20,637.57 1028.40,638.19 1028.60,640.62 1028.80,634.93 1029.00,631.87 1029.20,637.41 1029.40,644.99 1029.60,639.26 1029.80,640.49 1030.00,636.98 1030.20,639.80 1030.40,633.26 1030.60,638.01 1030.80,638.43 1031.00,641.56 1031.20,643.43 1031.40,640.96 1031.60,640.14 1031.80,639.36 1032.00,640.35 1032.20,642.00 1032.40,641.01 1032.60,642.72 1032.80,644.44 1033.00,644.01 1033.20,639.47 1033.40,638.44 1033.60,641.03 1033.80,639.98 1034.00,636.48 1034.20,636.72 1034.40,622.99 1034.60,628.39 1034.80,624.19 1035.00,619.81 1035.20,602.00 1035.40,585.48 1035.60,572.72 1035.80,550.04 1036.00,536.01 1036.20,513.09 1036.40,491.21 1036.60,470.33 1036.80,449.61 1036.80,444.70 1037.00,474.17 1037.20,488.11 1037.40,513.40 1037.60,534.54 1037.80,556.30 1038.00,569.79 1038.20,592.37 1038.40,598.07 1038.60,611.66 1038.80,626.68 1039.00,631.75 1039.20,633.82 1039.40,635.13 1039.60,644.37 1039.80,644.99 1040.00,635.94 1040.20,642.59 1040.40,643.74 1040.60,641.10 1040.80,647.08 1041.00,651.01 1041.20,656.24 1041.40,647.83 1041.60,655.60 1041.80,649.80 1042.00,659.91 1042.20,654.24 1042.40,652.21 1042.60,656.07 1042.80,652.65 1043.00,652.29 1043.20,646.68 1043.40,648.34 1043.60,639.73 1043.80,626.52 1044.00,616.19 1044.00,621.20 1044.20,629.84 1044.40,639.98 1044.60,642.22 1044.80,644.00 1045.00,647.51 1045.20,644.54 1045.40,652.75 1045.60,651.55 1045.80,656.43 1046.00,652.62 1046.20,647.10 1046.40,651.68 1046.60,649.52 1046.80,650.97 1047.00,649.34 1047.20,656.12 1047.40,651.46 1047.60,651.22 1047.80,649.77 1048.00,649.18 1048.20,656.37 1048.40,660.09 1048.60,657.49 1048.80,650.54 1049.00,659.37 1049.20,661.09 1049.40,661.14 1049.60,661.40 1049.80,654.15 1050.00,660.01 1050.20,659.77 1050.40,653.40 1050.60,654.46 1050.80,654.94 1051.00,661.47 1051.20,665.34 1051.40,657.80 1051.60,652.71 1051.80,661.08 1052.00,661.05 1052.20,673.04 1052.40,654.26 1052.60,662.25 1052.80,668.79 1053.00,662.69 1053.20,665.30 1053.40,660.95 1053.60,655.34 1053.80,667.65 1054.00,664.29 1054.20,666.96 1054.40,668.60 1054.60,664.51 1054.80,660.54 1055.00,665.56 1055.20,669.63 1055.40,666.20 1055.60,667.86 1055.80,665.92 1056.00,672.15 1056.20,669.74 1056.40,663.80 1056.60,671.22 1056.80,667.60 1057.00,672.33 1057.20,672.47 1057.40,676.50 1057.60,661.30 1057.80,668.99 1058.00,669.53 1058.20,670.10 1058.40,680.27 1058.60,679.61 1058.80,677.52 1059.00,684.79 1059.20,681.69 1059.40,674.22 1059.60,688.13 1059.80,682.90 1060.00,679.65 1060.20,680.02 1060.40,680.13 1060.60,683.92 1060.80,676.52 1061.00,692.23 1061.20,679.60 1061.40,689.09 1061.60,685.78 1061.80,683.09 1062.00,675.45 1062.20,687.89 1062.40,690.88 1062.60,679.61 1062.80,685.11 1063.00,685.04 1063.20,682.76 1063.40,680.97 1063.60,685.50 1063.80,697.09 1064.00,688.09 1064.20,687.36 1064.40,693.64 1064.60,693.38 1064.80,685.44 1065.00,687.80 1065.20,694.02 1065.40,686.97 1065.60,689.54 1065.80,697.24 1066.00,692.42 1066.20,697.95 1066.40,695.82 1066.60,689.98 1066.80,698.04 1067.00,698.34 1067.20,690.10 1067.40,697.47 1067.60,693.83 1067.80,693.89 1068.00,693.60 1068.20,690.93 1068.40,695.37 1068.60,697.34 1068.80,695.88 1069.00,687.48 1069.20,688.87 1069.40,694.25 1069.60,687.62 1069.80,690.54 1070.00,700.18 1070.20,686.61 1070.40,679.90 1070.60,693.06 1070.80,701.20 1071.00,687.31 1071.20,692.25 1071.40,696.27 1071.60,701.20 1071.80,696.61 1072.00,697.84 1072.20,698.10 1072.40,698.85 1072.60,691.52 1072.80,699.20 1073.00,694.74 1073.20,701.20 1073.40,701.20 1073.60,697.65 1073.80,701.20 1074.00,697.75 1074.20,698.40 1074.40,697.26 1074.60,700.29 1074.80,695.12 1075.00,701.20 1075.20,701.20 1075.40,690.69 1075.60,701.20 1075.80,690.97 1076.00,697.73 1076.20,701.20 1076.40,699.67 1076.60,691.44 1076.80,701.20 1077.00,701.20 1077.20,698.32 1077.40,697.32" fill="none" stroke="#000" stroke-width="1.2" stroke-linejoin="round" />
<line x1="121.7" y1="1470.7" x2="121.7" y2="1331" stroke="#333" stroke-width="1.1"/>
<polyline points="121.70,1331.00 122.20,1338.49 122.40,1337.09 122.60,1337.66 122.80,1338.73 123.00,1338.45 123.20,1337.76 123.40,1338.06 123.60,1338.08 123.80,1338.16 124.00,1338.28 124.20,1336.72 124.40,1338.28 124.60,1337.87 124.80,1338.96 125.00,1338.51 125.20,1337.26 125.40,1337.30 125.60,1337.57 125.80,1336.57 126.00,1336.37 126.20,1336.63 126.40,1337.00 126.60,1337.36 126.80,1338.63 127.00,1336.85 127.20,1336.11 127.40,1337.53 127.60,1337.00 127.80,1337.39 128.00,1338.03 128.20,1336.87 128.40,1338.32 128.60,1337.05 128.80,1336.98 129.00,1336.33 129.20,1336.63 129.40,1334.66 129.60,1336.39 129.80,1338.86 130.00,1335.32 130.20,1337.85 130.40,1337.07 130.60,1336.83 130.80,1336.46 131.00,1337.38 131.20,1336.42 131.40,1335.84 131.60,1334.56 131.80,1337.02 132.00,1334.56 132.20,1335.16 132.40,1332.03 132.60,1328.27 132.80,1324.88 133.00,1320.95 133.20,1312.13 133.40,1302.71 133.60,1290.53 133.80,1277.60 133.80,1276.59 134.00,1290.31 134.20,1302.07 134.40,1311.73 134.60,1319.97 134.80,1323.19 135.00,1328.37 135.20,1329.94 135.40,1329.52 135.60,1331.20 135.80,1330.92 136.00,1330.67 136.20,1328.87 136.40,1325.93 136.60,1324.20 136.80,1318.11 137.00,1310.70 137.20,1301.69 137.20,1301.98 137.40,1309.86 137.60,1318.40 137.80,1323.77 138.00,1326.97 138.20,1331.00 138.40,1333.04 138.60,1330.60 138.80,1332.59 139.00,1332.51 139.20,1333.49 139.40,1335.59 139.60,1334.82 139.80,1333.24 140.00,1334.37 140.20,1334.98 140.40,1334.89 140.60,1333.66 140.80,1333.29 141.00,1333.85 141.20,1331.65 141.40,1332.66 141.60,1330.60 141.80,1328.13 142.00,1325.66 142.20,1321.07 142.40,1313.80 142.40,1313.81 142.60,1320.25 142.80,1324.60 143.00,1328.33 143.20,1329.79 143.40,1331.84 143.60,1332.84 143.80,1331.71 144.00,1333.24 144.20,1333.37 144.40,1334.47 144.60,1333.24 144.80,1332.23 145.00,1333.22 145.20,1332.10 145.40,1332.15 145.60,1331.45 145.80,1331.71 146.00,1331.87 146.20,1328.77 146.40,1325.81 146.60,1320.70 146.60,1321.63 146.80,1325.48 147.00,1328.89 147.20,1332.08 147.40,1331.58 147.60,1333.07 147.80,1334.45 148.00,1333.22 148.20,1334.56 148.40,1333.95 148.60,1333.37 148.80,1334.82 149.00,1334.80 149.20,1335.12 149.40,1335.00 149.60,1335.25 149.80,1334.65 150.00,1334.63 150.20,1334.72 150.40,1335.89 150.60,1337.41 150.80,1334.86 151.00,1335.50 151.20,1335.60 151.40,1335.30 151.60,1335.03 151.80,1337.51 152.00,1337.43 152.20,1336.50 152.40,1338.14 152.60,1335.97 152.80,1336.17 153.00,1336.92 153.20,1336.22 153.40,1337.36 153.60,1336.06 153.80,1337.15 154.00,1336.74 154.20,1335.64 154.40,1335.97 154.60,1336.44 154.80,1336.22 155.00,1335.50 155.20,1337.79 155.40,1337.70 155.60,1336.06 155.80,1337.30 156.00,1336.48 156.20,1337.76 156.40,1336.94 156.60,1337.05 156.80,1336.20 157.00,1335.91 157.20,1337.24 157.40,1336.76 157.60,1336.92 157.80,1337.26 158.00,1339.28 158.20,1336.89 158.40,1339.44 158.60,1336.46 158.80,1337.30 159.00,1338.20 159.20,1338.37 159.40,1338.67 159.60,1337.36 159.80,1338.53 160.00,1338.01 160.20,1337.51 160.40,1338.51 160.60,1336.63 160.80,1336.66 161.00,1338.83 161.20,1336.52 161.40,1335.48 161.60,1334.75 161.80,1331.94 162.00,1328.14 162.20,1323.57 162.40,1318.87 162.60,1310.49 162.80,1301.13 163.00,1290.42 163.20,1278.16 163.40,1265.11 163.60,1251.98 163.80,1236.72 163.80,1237.19 164.00,1237.05 164.20,1237.01 164.30,1237.00 164.40,1236.64 164.60,1236.67 164.80,1237.02 164.80,1237.24 165.00,1251.21 165.20,1265.74 165.40,1278.65 165.60,1291.32 165.80,1301.38 166.00,1310.08 166.20,1319.94 166.40,1325.76 166.60,1328.33 166.80,1333.65 167.00,1334.84 167.20,1336.64 167.40,1336.48 167.60,1336.68 167.80,1337.74 168.00,1336.18 168.20,1335.84 168.40,1333.42 168.60,1330.40 168.80,1326.36 169.00,1318.97 169.00,1318.43 169.20,1325.03 169.40,1331.38 169.60,1333.85 169.80,1334.93 170.00,1338.90 170.20,1339.73 170.40,1339.40 170.60,1340.59 170.80,1339.38 171.00,1340.19 171.20,1340.48 171.40,1339.95 171.60,1338.83 171.80,1340.01 172.00,1339.54 172.20,1339.79 172.40,1340.17 172.60,1341.49 172.80,1339.34 173.00,1342.03 173.20,1341.73 173.40,1339.32 173.60,1340.24 173.80,1340.22 174.00,1341.36 174.20,1341.66 174.40,1341.88 174.60,1339.99 174.80,1340.75 175.00,1340.11 175.20,1339.42 175.40,1340.30 175.60,1340.57 175.80,1341.49 176.00,1340.24 176.20,1340.01 176.40,1340.03 176.60,1339.71 176.80,1339.66 177.00,1340.77 177.20,1340.65 177.40,1341.34 177.60,1341.03 177.80,1340.90 178.00,1340.71 178.20,1341.41 178.40,1341.68 178.60,1340.90 178.80,1340.59 179.00,1339.40 179.20,1341.99 179.40,1340.86 179.60,1341.15 179.80,1340.42 180.00,1341.83 180.20,1341.19 180.40,1339.46 180.60,1338.43 180.80,1337.43 181.00,1331.70 181.20,1328.90 181.20,1329.10 181.40,1335.05 181.60,1336.57 181.80,1339.97 182.00,1339.60 182.20,1341.13 182.40,1342.20 182.60,1340.96 182.80,1341.79 183.00,1341.07 183.20,1340.30 183.40,1341.13 183.60,1340.82 183.80,1342.29 184.00,1342.31 184.20,1341.99 184.40,1340.80 184.60,1342.40 184.80,1338.94 185.00,1340.67 185.20,1340.46 185.40,1340.28 185.60,1338.28 185.80,1338.98 186.00,1338.34 186.20,1337.97 186.40,1339.34 186.60,1337.58 186.80,1338.51 187.00,1337.70 187.20,1337.70 187.40,1336.61 187.60,1337.13 187.80,1337.00 188.00,1337.09 188.20,1337.05 188.40,1336.48 188.60,1336.94 188.80,1337.55 189.00,1335.84 189.20,1335.86 189.40,1336.18 189.60,1335.75 189.80,1336.64 190.00,1335.84 190.20,1334.80 190.40,1335.59 190.60,1336.00 190.80,1334.28 191.00,1336.09 191.20,1335.10 191.40,1334.51 191.60,1334.26 191.80,1336.18 192.00,1333.19 192.20,1335.09 192.40,1334.38 192.60,1334.89 192.80,1335.89 193.00,1335.87 193.20,1334.14 193.40,1333.94 193.60,1334.40 193.80,1334.72 194.00,1334.12 194.20,1334.07 194.40,1333.44 194.60,1331.39 194.80,1328.74 194.90,1328.00 195.00,1330.59 195.20,1332.59 195.40,1332.05 195.60,1334.82 195.80,1333.07 196.00,1334.04 196.20,1335.01 196.40,1334.84 196.60,1335.25 196.80,1334.94 197.00,1334.72 197.20,1333.95 197.40,1335.84 197.60,1333.76 197.80,1335.19 198.00,1334.63 198.20,1334.06 198.40,1334.23 198.60,1335.05 198.80,1334.70 199.00,1335.35 199.20,1334.51 199.40,1335.23 199.60,1335.10 199.80,1333.54 200.00,1334.02 200.20,1336.13 200.40,1335.91 200.60,1334.59 200.80,1336.15 201.00,1335.05 201.20,1336.06 201.40,1335.35 201.60,1335.42 201.80,1334.86 202.00,1335.62 202.20,1334.91 202.40,1334.73 202.60,1335.48 202.80,1333.83 203.00,1335.84 203.20,1335.93 203.40,1336.52 203.60,1336.13 203.80,1336.00 204.00,1336.83 204.20,1336.81 204.40,1336.24 204.60,1336.22 204.80,1334.68 205.00,1336.63 205.20,1335.30 205.40,1335.59 205.60,1336.13 205.80,1336.29 206.00,1336.91 206.20,1335.19 206.40,1334.73 206.60,1336.20 206.80,1337.36 207.00,1336.15 207.20,1336.77 207.40,1337.87 207.60,1337.26 207.80,1336.83 208.00,1337.00 208.20,1335.97 208.40,1337.05 208.60,1337.64 208.80,1337.57 209.00,1336.15 209.20,1336.39 209.40,1335.91 209.60,1337.09 209.80,1336.02 210.00,1335.77 210.20,1335.78 210.40,1336.72 210.60,1336.33 210.80,1336.15 211.00,1336.87 211.20,1336.35 211.40,1336.55 211.60,1337.41 211.80,1337.28 212.00,1336.00 212.20,1336.92 212.40,1336.59 212.60,1338.06 212.80,1336.96 213.00,1338.26 213.20,1337.55 213.40,1337.66 213.60,1336.55 213.80,1335.77 214.00,1336.79 214.20,1338.94 214.40,1339.04 214.60,1339.34 214.80,1337.38 215.00,1338.49 215.20,1338.10 215.40,1337.47 215.60,1337.51 215.80,1338.69 216.00,1337.93 216.20,1337.60 216.40,1337.95 216.60,1338.32 216.80,1336.37 217.00,1337.30 217.20,1335.98 217.40,1337.79 217.60,1338.51 217.80,1336.83 218.00,1337.36 218.20,1338.14 218.40,1337.93 218.60,1336.94 218.80,1337.24 219.00,1337.95 219.20,1338.65 219.40,1338.14 219.60,1337.28 219.80,1337.78 220.00,1337.60 220.20,1336.85 220.40,1336.77 220.60,1336.87 220.80,1338.14 221.00,1336.24 221.20,1337.97 221.40,1337.70 221.60,1337.70 221.80,1336.02 222.00,1335.14 222.20,1333.51 222.30,1331.60 222.40,1332.36 222.60,1335.30 222.80,1336.70 223.00,1337.22 223.20,1336.52 223.40,1338.30 223.60,1339.30 223.80,1339.71 224.00,1339.64 224.20,1339.08 224.40,1338.75 224.60,1338.22 224.80,1337.87 225.00,1338.04 225.20,1338.51 225.40,1339.32 225.60,1338.37 225.80,1339.28 226.00,1338.34 226.20,1340.69 226.40,1339.85 226.60,1337.74 226.80,1338.92 227.00,1340.59 227.20,1337.70 227.40,1339.26 227.60,1339.14 227.80,1341.05 228.00,1340.48 228.20,1340.57 228.40,1340.26 228.60,1339.79 228.80,1340.07 229.00,1339.14 229.20,1340.86 229.40,1340.38 229.60,1339.77 229.80,1340.61 230.00,1340.01 230.20,1342.25 230.40,1340.73 230.60,1341.26 230.80,1341.09 231.00,1340.19 231.20,1340.57 231.40,1342.29 231.60,1339.22 231.80,1340.05 232.00,1341.45 232.20,1340.46 232.40,1342.33 232.60,1341.64 232.80,1339.97 233.00,1341.15 233.20,1341.26 233.40,1341.09 233.60,1341.92 233.80,1340.75 234.00,1341.86 234.20,1340.63 234.40,1340.42 234.60,1343.24 234.80,1340.42 235.00,1340.67 235.20,1341.96 235.40,1342.86 235.60,1342.07 235.80,1341.83 236.00,1341.19 236.20,1340.86 236.40,1342.97 236.60,1341.68 236.80,1340.84 237.00,1341.66 237.20,1341.58 237.40,1341.41 237.60,1342.49 237.80,1343.26 238.00,1341.68 238.20,1342.33 238.40,1343.31 238.60,1341.51 238.80,1342.14 239.00,1342.95 239.20,1341.51 239.40,1342.33 239.60,1343.04 239.80,1342.49 240.00,1343.62 240.20,1342.03 240.40,1343.72 240.60,1341.56 240.80,1342.44 241.00,1341.17 241.20,1342.49 241.40,1342.20 241.60,1342.84 241.80,1342.64 242.00,1342.31 242.20,1343.24 242.40,1342.66 242.60,1342.88 242.80,1342.36 243.00,1341.77 243.20,1342.36 243.40,1341.13 243.60,1342.77 243.80,1342.60 244.00,1341.47 244.20,1344.24 244.40,1341.51 244.60,1341.26 244.80,1341.77 245.00,1340.67 245.20,1343.42 245.40,1342.09 245.60,1341.11 245.80,1343.88 246.00,1342.75 246.20,1342.18 246.40,1340.82 246.60,1342.80 246.80,1343.31 247.00,1341.96 247.20,1341.51 247.40,1341.71 247.60,1342.64 247.80,1340.65 248.00,1341.34 248.20,1342.60 248.40,1340.34 248.60,1342.73 248.80,1342.16 249.00,1343.49 249.20,1342.73 249.40,1341.03 249.60,1341.92 249.80,1341.64 250.00,1343.02 250.20,1341.28 250.40,1341.19 250.60,1341.49 250.80,1340.84 251.00,1340.84 251.20,1341.47 251.40,1339.32 251.60,1338.14 251.70,1336.20 251.80,1337.07 252.00,1340.94 252.20,1341.68 252.40,1341.05 252.60,1340.98 252.80,1342.69 253.00,1340.90 253.20,1342.71 253.40,1342.84 253.60,1342.44 253.80,1341.88 254.00,1340.11 254.20,1342.75 254.40,1342.12 254.60,1340.73 254.80,1342.14 255.00,1340.86 255.20,1341.83 255.40,1341.56 255.60,1341.58 255.80,1341.00 256.00,1341.92 256.20,1341.17 256.40,1341.90 256.60,1341.81 256.80,1342.18 257.00,1341.05 257.20,1341.49 257.40,1341.34 257.60,1342.69 257.80,1341.49 258.00,1339.95 258.20,1340.69 258.40,1341.75 258.60,1340.48 258.80,1340.96 259.00,1341.90 259.20,1339.28 259.40,1340.52 259.60,1340.30 259.80,1339.87 260.00,1340.28 260.20,1340.48 260.40,1340.92 260.60,1341.66 260.80,1340.24 261.00,1341.19 261.20,1341.99 261.40,1340.34 261.60,1340.57 261.80,1339.68 262.00,1340.15 262.20,1338.90 262.40,1339.97 262.60,1340.05 262.80,1340.28 263.00,1338.69 263.20,1339.04 263.40,1340.34 263.60,1340.36 263.80,1340.59 264.00,1339.97 264.20,1339.30 264.40,1340.69 264.60,1340.52 264.80,1338.03 265.00,1339.40 265.20,1340.75 265.40,1341.24 265.60,1339.60 265.80,1338.55 266.00,1339.77 266.20,1338.16 266.40,1339.12 266.60,1339.14 266.80,1340.34 267.00,1340.82 267.20,1339.00 267.40,1339.75 267.60,1340.05 267.80,1339.30 268.00,1338.81 268.20,1340.36 268.40,1339.46 268.60,1337.79 268.80,1338.08 269.00,1338.34 269.20,1341.34 269.40,1341.39 269.60,1339.42 269.80,1340.69 270.00,1339.38 270.20,1340.07 270.40,1340.77 270.60,1342.09 270.80,1341.03 271.00,1342.91 271.20,1341.15 271.40,1342.53 271.60,1341.77 271.80,1341.90 272.00,1341.77 272.20,1342.27 272.40,1342.57 272.60,1344.92 272.80,1343.53 273.00,1343.81 273.20,1345.61 273.40,1344.04 273.60,1342.88 273.80,1344.08 274.00,1344.94 274.20,1345.70 274.40,1344.66 274.60,1346.58 274.80,1345.35 275.00,1347.46 275.20,1347.41 275.40,1345.83 275.60,1348.25 275.80,1347.53 276.00,1348.72 276.20,1347.99 276.40,1347.89 276.60,1348.80 276.80,1348.07 277.00,1348.80 277.20,1348.23 277.40,1350.64 277.60,1352.09 277.80,1349.57 278.00,1351.74 278.20,1350.58 278.40,1351.60 278.60,1351.06 278.80,1352.20 279.00,1352.29 279.20,1352.35 279.40,1354.73 279.60,1351.88 279.80,1353.20 280.00,1353.53 280.20,1352.76 280.40,1349.79 280.60,1349.17 280.80,1345.87 281.00,1343.00 281.00,1343.72 281.20,1347.00 281.40,1348.46 281.60,1352.14 281.80,1352.79 282.00,1354.95 282.20,1356.53 282.40,1355.49 282.60,1355.17 282.80,1354.11 283.00,1357.09 283.20,1355.27 283.40,1353.84 283.60,1356.04 283.80,1359.23 284.00,1356.99 284.20,1358.21 284.40,1358.63 284.60,1357.60 284.80,1357.94 285.00,1360.87 285.20,1357.43 285.40,1358.21 285.60,1358.53 285.80,1358.88 286.00,1359.77 286.20,1358.39 286.40,1360.21 286.60,1358.39 286.80,1360.39 287.00,1360.65 287.20,1361.25 287.40,1359.45 287.60,1358.98 287.80,1362.95 288.00,1359.81 288.20,1359.91 288.40,1361.32 288.60,1359.02 288.80,1360.98 289.00,1362.67 289.20,1362.36 289.40,1359.99 289.60,1361.32 289.80,1362.24 290.00,1362.24 290.20,1360.98 290.40,1362.13 290.60,1361.40 290.80,1361.44 291.00,1364.32 291.20,1363.51 291.40,1361.02 291.60,1363.15 291.80,1362.83 292.00,1362.75 292.20,1362.09 292.40,1363.67 292.60,1362.51 292.80,1361.74 293.00,1366.27 293.20,1365.58 293.40,1364.03 293.60,1364.95 293.80,1365.88 294.00,1363.23 294.20,1365.07 294.40,1363.63 294.60,1363.47 294.80,1365.33 295.00,1365.16 295.20,1364.49 295.40,1366.93 295.60,1365.62 295.80,1365.62 296.00,1366.14 296.20,1364.36 296.40,1365.37 296.60,1368.15 296.80,1365.33 297.00,1366.89 297.20,1366.84 297.40,1367.25 297.60,1367.79 297.80,1365.88 298.00,1367.56 298.20,1367.34 298.40,1366.10 298.60,1367.83 298.80,1369.18 299.00,1367.74 299.20,1367.43 299.40,1368.11 299.60,1369.66 299.80,1369.90 300.00,1368.06 300.20,1368.62 300.40,1368.66 300.60,1368.71 300.80,1370.44 301.00,1368.52 301.20,1370.05 301.40,1369.18 301.60,1370.98 301.80,1370.64 302.00,1370.98 302.20,1369.95 302.40,1370.54 302.60,1371.34 302.80,1372.46 303.00,1372.57 303.20,1373.52 303.40,1371.74 303.60,1373.85 303.80,1372.94 304.00,1372.36 304.20,1371.54 304.40,1370.59 304.60,1372.26 304.80,1372.83 305.00,1373.58 305.20,1373.42 305.40,1373.58 305.60,1373.42 305.80,1374.73 306.00,1374.23 306.20,1372.36 306.40,1373.04 306.60,1373.69 306.80,1373.96 307.00,1374.12 307.20,1374.78 307.40,1372.57 307.60,1373.20 307.80,1373.42 308.00,1374.89 308.20,1374.56 308.40,1373.90 308.60,1375.63 308.80,1376.56 309.00,1375.29 309.20,1373.31 309.40,1376.32 309.60,1375.86 309.80,1375.57 310.00,1376.21 310.20,1377.87 310.40,1375.01 310.60,1371.34 310.80,1374.01 311.00,1377.75 311.20,1375.23 311.40,1373.85 311.60,1372.52 311.80,1373.63 312.00,1376.79 312.20,1377.03 312.40,1374.89 312.60,1377.03 312.80,1373.15 313.00,1378.18 313.20,1377.51 313.40,1377.03 313.60,1376.56 313.80,1377.33 314.00,1376.85 314.20,1377.57 314.40,1377.57 314.60,1377.21 314.80,1379.24 315.00,1378.49 315.20,1375.74 315.40,1376.91 315.60,1373.96 315.80,1377.99 316.00,1374.28 316.20,1375.46 316.40,1376.26 316.60,1376.97 316.80,1375.35 317.00,1379.95 317.20,1376.32 317.40,1377.69 317.60,1377.27 317.80,1377.99 318.00,1376.50 318.20,1378.55 318.40,1377.51 318.60,1377.69 318.80,1377.27 319.00,1377.99 319.20,1377.45 319.40,1378.30 319.60,1379.24 319.80,1378.74 320.00,1376.97 320.20,1376.44 320.40,1379.50 320.60,1378.99 320.80,1381.81 321.00,1375.40 321.20,1379.95 321.40,1377.93 321.60,1377.87 321.80,1377.45 322.00,1377.63 322.20,1376.15 322.40,1378.80 322.60,1377.57 322.80,1379.37 323.00,1378.74 323.20,1379.37 323.40,1379.82 323.60,1378.24 323.80,1381.67 324.00,1381.81 324.20,1380.21 324.40,1377.33 324.60,1380.80 324.80,1379.24 325.00,1377.33 325.20,1379.50 325.40,1381.74 325.60,1379.95 325.80,1379.88 326.00,1379.56 326.20,1379.75 326.40,1377.45 326.60,1381.74 326.80,1380.07 327.00,1378.55 327.20,1380.40 327.40,1376.21 327.60,1380.01 327.80,1380.40 328.00,1378.67 328.20,1378.55 328.40,1380.86 328.60,1380.66 328.80,1378.30 329.00,1380.93 329.20,1376.79 329.40,1379.88 329.60,1377.75 329.80,1379.37 330.00,1382.29 330.20,1374.40 330.40,1378.08 330.60,1379.74 330.80,1379.30 331.00,1377.33 331.20,1379.14 331.40,1379.87 331.60,1380.48 331.80,1377.93 332.00,1378.07 332.20,1381.21 332.40,1378.66 332.60,1378.74 332.80,1379.72 333.00,1379.54 333.20,1377.22 333.40,1379.77 333.60,1380.39 333.80,1380.54 334.00,1383.90 334.20,1379.38 334.40,1377.79 334.60,1377.55 334.80,1380.16 335.00,1381.83 335.20,1378.48 335.40,1378.43 335.60,1378.25 335.80,1380.73 336.00,1381.16 336.20,1378.36 336.40,1379.02 336.60,1377.87 336.80,1381.45 337.00,1378.22 337.20,1380.65 337.40,1378.31 337.60,1382.78 337.80,1377.38 338.00,1381.36 338.20,1380.26 338.40,1377.48 338.60,1381.93 338.80,1379.01 339.00,1378.04 339.20,1380.35 339.40,1378.46 339.60,1380.18 339.80,1378.62 340.00,1382.01 340.20,1379.19 340.40,1376.45 340.60,1379.78 340.80,1380.57 341.00,1379.12 341.20,1382.45 341.40,1380.56 341.60,1379.87 341.80,1380.89 342.00,1378.45 342.20,1381.07 342.40,1380.58 342.60,1377.36 342.80,1379.06 343.00,1379.08 343.20,1380.09 343.40,1377.75 343.60,1378.65 343.80,1379.01 344.00,1378.82 344.20,1381.58 344.40,1379.91 344.60,1377.63 344.80,1380.75 345.00,1378.76 345.20,1378.91 345.40,1380.22 345.60,1380.68 345.80,1377.44 346.00,1382.40 346.20,1380.30 346.40,1375.63 346.60,1379.17 346.80,1376.43 347.00,1380.01 347.20,1380.92 347.40,1380.94 347.60,1377.98 347.80,1380.01 348.00,1377.87 348.20,1378.52 348.40,1379.92 348.60,1381.69 348.80,1382.51 349.00,1380.96 349.20,1379.55 349.40,1380.47 349.60,1379.07 349.80,1378.22 350.00,1380.68 350.20,1380.32 350.40,1378.85 350.60,1377.78 350.80,1376.82 351.00,1378.97 351.20,1380.19 351.40,1377.49 351.60,1381.01 351.80,1381.27 352.00,1376.76 352.20,1377.76 352.40,1379.55 352.60,1380.72 352.80,1379.97 353.00,1380.14 353.20,1380.24 353.40,1379.87 353.60,1379.58 353.80,1381.82 354.00,1378.41 354.20,1378.21 354.40,1378.75 354.60,1379.60 354.80,1378.03 355.00,1381.97 355.20,1377.70 355.40,1378.23 355.60,1377.21 355.80,1381.16 356.00,1378.81 356.20,1380.80 356.40,1377.42 356.60,1376.27 356.80,1379.82 357.00,1382.91 357.20,1379.23 357.40,1380.69 357.60,1378.11 357.80,1381.56 358.00,1378.84 358.20,1378.08 358.40,1381.22 358.60,1380.09 358.80,1376.56 359.00,1380.29 359.20,1378.24 359.40,1375.65 359.60,1378.43 359.80,1376.04 360.00,1376.49 360.20,1377.48 360.40,1374.49 360.60,1377.13 360.80,1373.54 361.00,1370.72 361.20,1368.34 361.40,1360.29 361.60,1353.28 361.80,1344.47 362.00,1335.54 362.20,1325.27 362.40,1314.58 362.60,1301.99 362.80,1289.11 363.00,1276.01 363.20,1263.00 363.40,1249.43 363.60,1235.80 363.80,1222.40 363.80,1222.11 364.00,1236.38 364.20,1249.64 364.40,1263.71 364.60,1276.24 364.80,1290.05 365.00,1302.74 365.20,1314.91 365.40,1326.10 365.60,1337.00 365.80,1346.99 366.00,1355.19 366.20,1364.92 366.40,1368.15 366.60,1374.87 366.80,1379.45 367.00,1382.34 367.20,1385.50 367.40,1382.77 367.60,1387.16 367.80,1387.74 368.00,1383.54 368.20,1384.97 368.40,1384.30 368.60,1389.52 368.80,1391.99 369.00,1388.35 369.20,1385.26 369.40,1386.35 369.60,1383.80 369.80,1391.54 370.00,1384.99 370.20,1384.21 370.40,1389.16 370.60,1391.27 370.80,1389.50 371.00,1387.80 371.20,1387.85 371.40,1388.94 371.60,1385.08 371.80,1387.08 372.00,1387.24 372.20,1386.50 372.40,1390.54 372.60,1391.87 372.80,1389.91 373.00,1388.63 373.20,1386.27 373.40,1390.32 373.60,1387.49 373.80,1386.40 374.00,1385.33 374.20,1386.82 374.40,1392.57 374.60,1389.16 374.80,1386.73 375.00,1386.66 375.20,1388.47 375.40,1390.51 375.60,1388.45 375.80,1388.14 376.00,1390.30 376.20,1388.36 376.40,1388.90 376.60,1391.93 376.80,1390.27 377.00,1387.00 377.20,1388.37 377.40,1387.57 377.60,1389.47 377.80,1395.06 378.00,1387.71 378.20,1387.16 378.40,1386.61 378.60,1387.99 378.80,1384.74 379.00,1388.34 379.20,1386.32 379.40,1389.08 379.60,1387.99 379.80,1387.42 380.00,1387.23 380.20,1385.83 380.40,1390.42 380.60,1387.50 380.80,1388.56 381.00,1387.10 381.20,1383.40 381.40,1384.12 381.60,1382.38 381.80,1389.49 382.00,1387.98 382.20,1385.21 382.40,1391.33 382.60,1385.17 382.80,1389.52 383.00,1385.98 383.20,1385.66 383.40,1384.40 383.60,1387.50 383.80,1389.95 384.00,1388.52 384.20,1386.01 384.40,1387.07 384.60,1384.05 384.80,1388.22 385.00,1385.34 385.20,1387.40 385.40,1390.46 385.60,1385.47 385.80,1385.64 386.00,1387.88 386.20,1386.24 386.40,1387.99 386.60,1386.08 386.80,1382.49 387.00,1384.43 387.20,1382.45 387.40,1385.89 387.60,1385.55 387.80,1384.97 388.00,1388.17 388.20,1389.49 388.40,1388.42 388.60,1382.82 388.80,1387.03 389.00,1387.22 389.20,1382.93 389.40,1383.95 389.60,1384.24 389.80,1382.69 390.00,1382.01 390.20,1383.50 390.40,1382.20 390.60,1384.97 390.80,1380.41 391.00,1383.29 391.20,1384.72 391.40,1386.63 391.60,1385.21 391.80,1386.33 392.00,1384.64 392.20,1391.93 392.40,1388.91 392.60,1385.45 392.80,1382.53 393.00,1384.09 393.20,1384.00 393.40,1382.90 393.60,1378.33 393.80,1386.16 394.00,1382.01 394.20,1381.93 394.40,1381.35 394.60,1387.38 394.80,1382.80 395.00,1387.20 395.20,1382.11 395.40,1387.47 395.60,1386.65 395.80,1381.35 396.00,1380.16 396.20,1382.82 396.40,1385.72 396.60,1386.94 396.80,1385.97 397.00,1384.75 397.20,1379.15 397.40,1378.94 397.60,1388.61 397.80,1381.20 398.00,1384.72 398.20,1385.92 398.40,1383.02 398.60,1379.47 398.80,1383.93 399.00,1382.48 399.20,1380.69 399.40,1381.11 399.60,1380.12 399.80,1379.41 400.00,1382.15 400.20,1379.34 400.40,1376.51 400.60,1379.28 400.80,1374.31 401.00,1369.40 401.00,1371.91 401.20,1374.89 401.40,1378.53 401.60,1378.56 401.80,1383.08 402.00,1385.48 402.20,1380.44 402.40,1382.37 402.60,1383.27 402.80,1383.32 403.00,1386.23 403.20,1382.55 403.40,1377.56 403.60,1378.97 403.80,1384.45 404.00,1383.75 404.20,1377.79 404.40,1381.81 404.60,1382.14 404.80,1383.06 405.00,1380.13 405.20,1377.41 405.40,1378.46 405.60,1382.95 405.80,1383.60 406.00,1383.50 406.20,1385.11 406.40,1382.10 406.60,1383.65 406.80,1380.88 407.00,1383.44 407.20,1381.40 407.40,1379.87 407.60,1383.13 407.80,1387.46 408.00,1380.40 408.20,1381.46 408.40,1382.10 408.60,1383.07 408.80,1380.70 409.00,1381.63 409.20,1381.23 409.40,1383.59 409.60,1379.41 409.80,1377.63 410.00,1381.86 410.20,1380.39 410.40,1379.99 410.60,1378.02 410.80,1382.36 411.00,1381.62 411.20,1380.44 411.40,1376.22 411.60,1376.78 411.80,1377.64 412.00,1378.52 412.20,1378.85 412.40,1379.47 412.60,1378.92 412.80,1383.70 413.00,1381.77 413.20,1379.62 413.40,1382.69 413.60,1374.45 413.80,1373.68 414.00,1372.80 414.20,1373.97 414.40,1368.07 414.60,1363.09 414.70,1359.00 414.80,1363.27 415.00,1368.05 415.20,1374.73 415.40,1379.27 415.60,1377.93 415.80,1376.48 416.00,1384.30 416.20,1378.95 416.40,1379.46 416.60,1378.55 416.80,1379.06 417.00,1386.16 417.20,1383.76 417.40,1388.98 417.60,1387.39 417.80,1389.60 418.00,1389.26 418.20,1386.82 418.40,1385.89 418.60,1391.60 418.80,1387.90 419.00,1385.91 419.20,1384.21 419.40,1392.05 419.60,1389.59 419.80,1391.32 420.00,1396.61 420.20,1397.74 420.40,1396.33 420.60,1392.16 420.80,1394.18 421.00,1384.28 421.20,1391.91 421.40,1394.97 421.60,1386.30 421.80,1393.92 422.00,1388.22 422.20,1388.22 422.40,1395.78 422.60,1389.33 422.80,1391.91 423.00,1392.65 423.20,1396.89 423.40,1397.17 423.60,1394.44 423.80,1388.44 424.00,1392.90 424.20,1390.48 424.40,1391.67 424.60,1394.71 424.80,1392.65 425.00,1395.78 425.20,1392.90 425.40,1394.71 425.60,1394.97 425.80,1395.24 426.00,1396.33 426.20,1396.61 426.40,1393.41 426.60,1391.19 426.80,1398.03 427.00,1396.33 427.20,1399.22 427.40,1394.18 427.60,1396.05 427.80,1391.43 428.00,1399.82 428.20,1397.46 428.40,1392.41 428.60,1394.44 428.80,1400.76 429.00,1394.44 429.20,1387.57 429.40,1387.35 429.60,1381.29 429.70,1378.00 429.80,1380.23 430.00,1388.66 430.20,1390.48 430.40,1393.16 430.60,1400.13 430.80,1393.41 431.00,1397.46 431.20,1394.97 431.40,1398.33 431.60,1399.82 431.80,1398.92 432.00,1394.44 432.20,1398.33 432.40,1400.44 432.60,1394.71 432.80,1400.13 433.00,1403.03 433.20,1395.24 433.40,1401.07 433.60,1398.92 433.80,1399.22 434.00,1393.16 434.20,1403.37 434.40,1398.62 434.60,1394.97 434.80,1400.44 435.00,1397.74 435.20,1400.13 435.40,1399.52 435.60,1398.33 435.80,1402.37 436.00,1392.41 436.20,1398.03 436.40,1401.07 436.60,1394.44 436.80,1398.03 437.00,1400.44 437.20,1399.82 437.40,1398.03 437.60,1408.09 437.80,1392.65 438.00,1393.66 438.20,1401.71 438.40,1400.13 438.60,1397.74 438.80,1398.62 439.00,1400.44 439.20,1399.22 439.40,1403.71 439.60,1401.07 439.80,1401.07 440.00,1404.41 440.20,1401.71 440.40,1401.07 440.60,1399.82 440.80,1397.74 441.00,1402.04 441.20,1397.74 441.40,1394.97 441.60,1388.22 441.80,1390.48 441.90,1384.70 442.00,1388.66 442.20,1389.10 442.40,1390.72 442.60,1398.33 442.80,1400.13 443.00,1404.76 443.20,1399.52 443.40,1392.41 443.60,1400.76 443.80,1403.71 444.00,1398.92 444.20,1397.74 444.40,1403.03 444.60,1398.03 444.80,1400.44 445.00,1401.39 445.20,1403.37 445.40,1399.82 445.60,1401.39 445.80,1402.37 446.00,1400.13 446.20,1401.71 446.40,1402.70 446.60,1405.83 446.80,1401.71 447.00,1402.37 447.20,1398.33 447.40,1398.92 447.60,1401.07 447.80,1395.51 447.90,1395.60 448.00,1399.82 448.20,1397.17 448.40,1400.44 448.60,1409.69 448.80,1402.04 449.00,1401.71 449.20,1400.76 449.40,1405.83 449.60,1401.07 449.80,1411.35 450.00,1411.78 450.20,1402.70 450.40,1403.03 450.60,1403.37 450.80,1406.20 451.00,1407.32 451.20,1403.71 451.40,1401.71 451.60,1403.37 451.80,1405.47 452.00,1406.57 452.20,1408.09 452.40,1405.11 452.60,1407.71 452.80,1410.10 453.00,1412.22 453.20,1406.94 453.40,1402.70 453.60,1407.71 453.80,1405.47 454.00,1410.10 454.20,1408.48 454.40,1404.06 454.60,1401.71 454.80,1418.98 455.00,1403.37 455.20,1410.51 455.40,1404.76 455.60,1403.37 455.80,1414.96 456.00,1409.69 456.20,1404.76 456.40,1403.71 456.60,1409.69 456.80,1407.32 457.00,1409.69 457.20,1414.96 457.40,1406.57 457.60,1408.88 457.80,1404.41 458.00,1403.03 458.20,1407.32 458.40,1405.47 458.60,1420.61 458.80,1406.57 459.00,1408.48 459.20,1409.28 459.40,1404.06 459.60,1414.96 459.80,1412.22 460.00,1413.11 460.20,1410.51 460.40,1413.11 460.60,1410.93 460.80,1405.47 461.00,1413.56 461.20,1405.11 461.40,1407.71 461.60,1406.57 461.80,1404.76 462.00,1408.09 462.20,1410.10 462.40,1410.10 462.60,1413.11 462.80,1407.32 463.00,1410.93 463.20,1410.10 463.40,1412.22 463.60,1408.88 463.80,1407.71 464.00,1405.11 464.20,1408.48 464.40,1409.28 464.60,1410.93 464.80,1406.94 465.00,1421.18 465.20,1401.39 465.40,1409.28 465.60,1411.78 465.80,1409.28 466.00,1413.11 466.20,1414.48 466.40,1412.66 466.60,1415.92 466.80,1411.35 467.00,1407.32 467.20,1410.51 467.40,1409.69 467.60,1407.32 467.80,1410.10 468.00,1407.32 468.20,1425.40 468.40,1410.51 468.60,1414.02 468.80,1412.66 469.00,1411.78 469.20,1412.66 469.40,1408.48 469.60,1421.75 469.80,1407.71 470.00,1410.51 470.20,1412.22 470.40,1420.06 470.60,1420.61 470.80,1418.98 471.00,1408.09 471.20,1405.47 471.40,1408.09 471.60,1410.93 471.80,1414.02 472.00,1410.93 472.20,1410.93 472.40,1409.69 472.60,1413.11 472.80,1416.91 473.00,1414.96 473.20,1413.56 473.40,1413.56 473.60,1420.61 473.80,1418.45 474.00,1406.20 474.20,1412.22 474.40,1407.32 474.60,1408.88 474.80,1412.22 475.00,1412.66 475.20,1410.10 475.40,1415.92 475.60,1413.56 475.80,1414.96 476.00,1413.11 476.20,1414.02 476.40,1419.51 476.60,1412.22 476.80,1413.11 477.00,1420.61 477.20,1415.92 477.40,1414.02 477.60,1412.22 477.80,1414.48 478.00,1421.18 478.20,1410.93 478.40,1410.51 478.60,1413.56 478.80,1410.51 479.00,1409.28 479.20,1417.41 479.40,1414.96 479.60,1408.48 479.80,1411.78 480.00,1422.33 480.20,1420.06 480.40,1420.06 480.60,1412.22 480.80,1413.56 481.00,1411.35 481.20,1417.41 481.40,1412.66 481.60,1413.11 481.80,1411.78 482.00,1414.02 482.20,1416.91 482.40,1416.41 482.60,1421.75 482.80,1410.93 483.00,1417.93 483.20,1415.92 483.40,1411.35 483.60,1420.61 483.80,1410.93 484.00,1417.41 484.20,1417.93 484.40,1411.35 484.60,1413.56 484.80,1414.02 485.00,1417.41 485.20,1412.66 485.40,1410.10 485.60,1414.02 485.80,1410.93 486.00,1411.78 486.20,1406.20 486.40,1408.88 486.60,1415.92 486.80,1421.75 487.00,1409.28 487.20,1417.41 487.40,1410.93 487.60,1414.96 487.80,1415.92 488.00,1414.48 488.20,1408.88 488.40,1418.45 488.60,1412.22 488.80,1419.51 489.00,1409.28 489.20,1423.52 489.40,1415.92 489.60,1414.96 489.80,1407.32 490.00,1418.45 490.20,1409.69 490.40,1414.02 490.60,1416.41 490.80,1414.02 491.00,1410.10 491.20,1412.66 491.40,1420.61 491.60,1416.41 491.80,1416.41 492.00,1408.09 492.20,1410.10 492.40,1416.41 492.60,1414.48 492.80,1414.48 493.00,1406.94 493.20,1415.92 493.40,1410.51 493.60,1416.41 493.80,1422.33 494.00,1415.43 494.20,1411.78 494.40,1420.61 494.60,1421.18 494.80,1413.56 495.00,1416.41 495.20,1421.75 495.40,1412.66 495.60,1417.93 495.80,1411.78 496.00,1414.48 496.20,1406.57 496.40,1414.02 496.60,1410.10 496.80,1412.66 497.00,1412.66 497.20,1412.22 497.40,1409.28 497.60,1408.88 497.80,1412.22 498.00,1413.56 498.20,1417.41 498.40,1415.43 498.60,1409.28 498.80,1418.98 499.00,1404.41 499.20,1414.48 499.40,1414.02 499.60,1411.35 499.80,1421.18 500.00,1408.88 500.20,1417.93 500.40,1416.41 500.60,1415.43 500.80,1414.96 501.00,1410.93 501.20,1406.57 501.40,1417.41 501.60,1411.78 501.80,1421.75 502.00,1411.35 502.20,1408.48 502.40,1410.10 502.60,1409.69 502.80,1422.33 503.00,1413.56 503.20,1420.61 503.40,1409.69 503.60,1414.48 503.80,1405.83 504.00,1410.93 504.20,1415.92 504.40,1411.35 504.60,1418.98 504.80,1414.02 505.00,1414.02 505.20,1416.91 505.40,1420.06 505.60,1413.56 505.80,1410.93 506.00,1422.92 506.20,1418.45 506.40,1413.56 506.60,1412.66 506.80,1421.75 507.00,1413.56 507.20,1421.75 507.40,1414.96 507.60,1422.33 507.80,1419.51 508.00,1410.51 508.20,1412.66 508.40,1420.61 508.60,1411.35 508.80,1421.18 509.00,1413.11 509.20,1415.43 509.40,1406.94 509.60,1408.48 509.80,1408.09 510.00,1410.93 510.20,1416.41 510.40,1412.66 510.60,1416.41 510.80,1413.11 511.00,1412.22 511.20,1417.41 511.40,1409.28 511.60,1415.92 511.80,1416.91 512.00,1414.02 512.20,1414.48 512.40,1417.41 512.60,1427.38 512.80,1411.35 513.00,1413.11 513.20,1416.41 513.40,1409.28 513.60,1413.56 513.80,1414.96 514.00,1418.98 514.20,1418.98 514.40,1420.61 514.60,1422.33 514.80,1410.10 515.00,1426.04 515.20,1419.51 515.40,1412.22 515.60,1414.96 515.80,1417.41 516.00,1416.41 516.20,1412.22 516.40,1412.22 516.60,1408.88 516.80,1396.89 517.00,1398.03 517.20,1386.72 517.40,1373.88 517.60,1362.40 517.80,1346.70 518.00,1328.43 518.20,1313.52 518.40,1295.34 518.60,1279.79 518.80,1263.01 519.00,1245.90 519.00,1245.88 519.20,1263.17 519.40,1280.93 519.60,1294.86 519.80,1314.29 520.00,1328.24 520.20,1345.34 520.40,1359.03 520.60,1376.44 520.80,1386.93 521.00,1398.92 521.20,1403.03 521.40,1416.91 521.60,1417.41 521.80,1416.91 522.00,1420.06 522.20,1420.61 522.40,1420.61 522.60,1420.06 522.80,1418.45 523.00,1421.75 523.20,1425.40 523.40,1422.92 523.60,1418.98 523.80,1426.70 524.00,1426.70 524.20,1424.14 524.40,1422.33 524.60,1418.45 524.80,1423.52 525.00,1429.48 525.20,1416.41 525.40,1428.76 525.60,1422.92 525.80,1414.02 526.00,1412.22 526.20,1419.51 526.40,1406.94 526.60,1408.88 526.70,1399.00 526.80,1403.71 527.00,1412.66 527.20,1421.18 527.40,1421.75 527.60,1420.61 527.80,1420.61 528.00,1424.14 528.20,1417.41 528.40,1410.93 528.60,1426.04 528.80,1418.45 529.00,1424.14 529.20,1430.95 529.40,1424.76 529.60,1421.75 529.80,1426.04 530.00,1414.96 530.20,1420.61 530.40,1427.38 530.60,1417.41 530.80,1414.02 531.00,1417.93 531.20,1408.48 531.40,1401.20 531.40,1397.17 531.60,1403.71 531.80,1415.43 532.00,1413.11 532.20,1421.18 532.40,1417.93 532.60,1421.75 532.80,1427.38 533.00,1421.75 533.20,1429.48 533.40,1414.48 533.60,1416.41 533.80,1424.76 534.00,1415.92 534.20,1416.91 534.40,1419.51 534.60,1411.35 534.80,1421.18 535.00,1426.04 535.20,1421.18 535.40,1428.06 535.60,1412.66 535.80,1416.91 536.00,1421.18 536.20,1414.96 536.40,1411.35 536.60,1403.03 536.80,1401.39 537.00,1386.51 537.20,1376.90 537.20,1375.21 537.40,1386.51 537.60,1395.51 537.80,1402.04 538.00,1413.11 538.20,1415.92 538.40,1420.06 538.60,1418.98 538.80,1416.91 539.00,1418.98 539.20,1424.14 539.40,1420.61 539.60,1421.18 539.80,1414.02 540.00,1423.52 540.20,1418.98 540.40,1423.52 540.60,1417.41 540.80,1418.98 541.00,1424.76 541.20,1424.76 541.40,1418.45 541.60,1420.06 541.80,1417.41 542.00,1420.61 542.20,1415.92 542.40,1422.92 542.60,1420.06 542.80,1421.75 543.00,1422.33 543.20,1420.06 543.40,1418.45 543.60,1421.18 543.80,1422.92 544.00,1415.92 544.20,1416.91 544.40,1414.96 544.60,1422.92 544.80,1420.06 545.00,1421.18 545.20,1420.61 545.40,1411.35 545.60,1423.52 545.80,1416.91 546.00,1415.92 546.20,1410.10 546.40,1401.71 546.50,1397.80 546.60,1399.82 546.80,1407.71 547.00,1410.10 547.20,1409.69 547.40,1421.75 547.60,1412.66 547.80,1424.76 548.00,1414.48 548.20,1425.40 548.40,1413.56 548.60,1420.06 548.80,1417.93 549.00,1415.92 549.20,1415.92 549.40,1419.51 549.60,1420.06 549.80,1417.41 550.00,1421.18 550.20,1418.98 550.40,1417.93 550.60,1418.45 550.80,1420.06 551.00,1420.61 551.20,1418.45 551.40,1417.93 551.60,1424.14 551.80,1432.49 552.00,1418.45 552.20,1417.41 552.40,1422.33 552.60,1420.61 552.80,1420.06 553.00,1416.41 553.20,1421.18 553.40,1421.18 553.60,1423.52 553.80,1414.48 554.00,1414.48 554.20,1417.93 554.40,1427.38 554.60,1423.52 554.80,1410.51 555.00,1428.06 555.20,1417.41 555.40,1408.09 555.60,1416.41 555.80,1426.04 556.00,1417.93 556.20,1428.06 556.40,1420.61 556.60,1413.11 556.80,1426.04 557.00,1418.45 557.20,1413.56 557.40,1426.70 557.60,1417.41 557.80,1414.02 558.00,1424.14 558.20,1420.06 558.40,1417.41 558.60,1424.76 558.80,1410.10 559.00,1421.75 559.20,1430.20 559.40,1417.41 559.60,1427.38 559.80,1413.11 560.00,1421.75 560.20,1417.41 560.40,1426.70 560.60,1415.92 560.80,1419.51 561.00,1414.48 561.20,1417.93 561.40,1417.41 561.60,1413.56 561.80,1421.75 562.00,1428.06 562.20,1410.10 562.40,1416.41 562.60,1420.61 562.80,1411.35 563.00,1416.91 563.20,1414.96 563.40,1416.91 563.60,1418.98 563.80,1425.40 564.00,1416.91 564.20,1428.06 564.40,1417.93 564.60,1414.96 564.80,1423.52 565.00,1420.06 565.20,1418.98 565.40,1423.52 565.60,1411.35 565.80,1421.18 566.00,1415.43 566.20,1421.18 566.40,1414.48 566.60,1413.56 566.80,1422.92 567.00,1414.48 567.20,1421.75 567.40,1410.93 567.60,1417.41 567.80,1416.41 568.00,1413.56 568.20,1425.40 568.40,1414.48 568.60,1419.51 568.80,1424.76 569.00,1415.92 569.20,1410.93 569.40,1417.93 569.60,1423.52 569.80,1423.52 570.00,1421.18 570.20,1410.10 570.40,1410.93 570.60,1414.02 570.80,1405.47 571.00,1402.70 571.00,1408.48 571.20,1410.10 571.40,1414.48 571.60,1415.92 571.80,1415.92 572.00,1423.52 572.20,1416.41 572.40,1411.78 572.60,1423.52 572.80,1410.93 573.00,1413.56 573.20,1422.92 573.40,1420.06 573.60,1414.48 573.80,1422.92 574.00,1421.18 574.20,1416.91 574.40,1416.41 574.60,1408.09 574.80,1416.91 575.00,1415.43 575.20,1412.66 575.40,1426.70 575.60,1412.66 575.80,1426.70 576.00,1420.61 576.20,1412.66 576.40,1418.98 576.60,1415.43 576.80,1412.22 577.00,1420.06 577.20,1409.28 577.40,1421.75 577.60,1413.11 577.80,1414.48 578.00,1413.56 578.20,1416.41 578.40,1422.33 578.60,1421.75 578.80,1422.92 579.00,1415.92 579.20,1417.41 579.40,1423.52 579.60,1422.33 579.80,1413.56 580.00,1414.02 580.20,1414.96 580.40,1417.93 580.60,1421.75 580.80,1415.92 581.00,1413.56 581.20,1406.57 581.40,1397.46 581.60,1393.00 581.60,1392.90 581.80,1400.44 582.00,1405.83 582.20,1409.28 582.40,1414.48 582.60,1410.93 582.80,1417.93 583.00,1415.92 583.20,1420.06 583.40,1421.75 583.60,1421.75 583.80,1420.61 584.00,1421.75 584.20,1415.43 584.40,1419.51 584.60,1418.45 584.80,1417.93 585.00,1419.51 585.20,1414.48 585.40,1413.11 585.60,1418.45 585.80,1420.61 586.00,1415.92 586.20,1421.75 586.40,1414.02 586.60,1417.41 586.80,1418.45 587.00,1414.96 587.20,1414.02 587.40,1414.48 587.60,1420.06 587.80,1416.91 588.00,1417.93 588.20,1425.40 588.40,1415.92 588.60,1412.66 588.80,1413.11 589.00,1411.78 589.20,1419.51 589.40,1413.56 589.60,1415.43 589.80,1422.33 590.00,1421.75 590.20,1419.51 590.40,1410.10 590.60,1420.06 590.80,1417.93 591.00,1426.04 591.20,1418.45 591.40,1420.61 591.60,1418.45 591.80,1418.45 592.00,1420.61 592.20,1420.06 592.40,1415.92 592.60,1419.51 592.80,1416.41 593.00,1418.45 593.20,1422.33 593.40,1414.02 593.60,1413.56 593.80,1423.52 594.00,1418.98 594.20,1421.75 594.40,1418.45 594.60,1419.51 594.80,1415.43 595.00,1417.41 595.20,1418.98 595.40,1412.66 595.60,1414.48 595.80,1420.06 596.00,1424.76 596.20,1418.45 596.40,1420.06 596.60,1410.10 596.80,1423.52 597.00,1408.88 597.20,1418.45 597.40,1418.98 597.60,1409.28 597.80,1416.41 598.00,1424.14 598.20,1422.92 598.40,1415.92 598.60,1419.51 598.80,1416.91 599.00,1417.41 599.20,1426.70 599.40,1423.52 599.60,1421.75 599.80,1417.41 600.00,1420.61 600.20,1426.04 600.40,1424.76 600.60,1417.93 600.80,1414.02 601.00,1413.56 601.20,1416.41 601.40,1415.43 601.60,1421.18 601.80,1418.98 602.00,1414.96 602.20,1411.35 602.40,1411.35 602.60,1423.52 602.80,1409.69 603.00,1418.45 603.20,1426.70 603.40,1424.76 603.60,1412.66 603.80,1426.70 604.00,1421.75 604.20,1426.70 604.40,1408.48 604.60,1420.61 604.80,1411.35 605.00,1412.66 605.20,1414.96 605.40,1421.18 605.60,1418.98 605.80,1420.06 606.00,1418.45 606.20,1424.76 606.40,1419.51 606.60,1415.92 606.80,1415.92 607.00,1416.91 607.20,1412.66 607.40,1414.02 607.60,1418.98 607.80,1417.93 608.00,1420.06 608.20,1422.33 608.40,1411.35 608.60,1415.92 608.80,1413.56 609.00,1417.93 609.20,1414.48 609.40,1410.51 609.60,1415.92 609.80,1416.41 610.00,1413.11 610.20,1416.41 610.40,1411.78 610.60,1420.61 610.80,1419.51 611.00,1427.38 611.20,1418.98 611.40,1417.93 611.60,1426.70 611.80,1414.48 612.00,1422.33 612.20,1422.33 612.40,1413.56 612.60,1420.06 612.80,1406.57 613.00,1418.98 613.20,1413.11 613.40,1420.61 613.60,1417.93 613.80,1411.35 614.00,1418.45 614.20,1418.98 614.40,1417.41 614.60,1410.51 614.80,1428.06 615.00,1414.02 615.20,1412.22 615.40,1416.41 615.60,1414.48 615.80,1415.43 616.00,1420.06 616.20,1422.33 616.40,1418.45 616.60,1414.02 616.80,1414.48 617.00,1415.43 617.20,1408.48 617.40,1413.56 617.60,1410.51 617.80,1409.28 618.00,1417.93 618.20,1417.93 618.40,1413.56 618.60,1410.51 618.80,1418.98 619.00,1424.76 619.20,1418.45 619.40,1412.22 619.60,1410.10 619.80,1414.48 620.00,1413.56 620.20,1415.43 620.40,1410.51 620.60,1411.35 620.80,1418.45 621.00,1419.51 621.20,1416.41 621.40,1418.98 621.60,1413.11 621.80,1415.43 622.00,1414.96 622.20,1414.02 622.40,1413.11 622.60,1422.33 622.80,1413.56 623.00,1409.69 623.20,1421.75 623.40,1410.93 623.60,1414.48 623.80,1410.10 624.00,1414.02 624.20,1421.18 624.40,1422.33 624.60,1414.02 624.80,1416.91 625.00,1420.06 625.20,1415.43 625.40,1413.11 625.60,1411.78 625.80,1417.93 626.00,1411.35 626.20,1410.93 626.40,1412.22 626.60,1421.75 626.80,1410.51 627.00,1409.69 627.20,1412.66 627.40,1411.35 627.60,1412.66 627.80,1410.93 628.00,1413.11 628.20,1416.91 628.40,1426.04 628.60,1411.35 628.80,1410.51 629.00,1414.48 629.20,1418.98 629.40,1419.51 629.60,1421.18 629.80,1412.22 630.00,1414.02 630.20,1411.78 630.40,1415.92 630.60,1419.51 630.80,1412.22 631.00,1417.93 631.20,1417.41 631.40,1420.06 631.60,1413.56 631.80,1413.56 632.00,1421.18 632.20,1413.11 632.40,1417.93 632.60,1416.41 632.80,1407.32 633.00,1413.56 633.20,1414.02 633.40,1411.78 633.60,1418.98 633.80,1417.93 634.00,1411.78 634.20,1415.92 634.40,1413.56 634.60,1411.78 634.80,1408.48 635.00,1406.57 635.20,1411.35 635.40,1416.41 635.60,1410.51 635.80,1416.41 636.00,1416.41 636.20,1412.66 636.40,1413.11 636.60,1417.93 636.80,1419.51 637.00,1410.51 637.20,1420.06 637.40,1416.41 637.60,1414.02 637.80,1413.56 638.00,1410.10 638.20,1414.02 638.40,1411.35 638.60,1416.41 638.80,1413.11 639.00,1405.47 639.20,1410.93 639.40,1414.02 639.60,1409.28 639.80,1406.57 640.00,1413.11 640.20,1410.93 640.40,1421.75 640.60,1418.98 640.80,1412.22 641.00,1408.09 641.20,1405.47 641.40,1415.43 641.60,1410.10 641.80,1419.51 642.00,1415.43 642.20,1409.28 642.40,1412.22 642.60,1414.48 642.80,1409.69 643.00,1424.14 643.20,1414.02 643.40,1408.88 643.60,1408.09 643.80,1414.96 644.00,1410.93 644.20,1414.02 644.40,1413.56 644.60,1416.41 644.80,1422.33 645.00,1416.91 645.20,1421.18 645.40,1407.32 645.60,1410.10 645.80,1410.93 646.00,1418.45 646.20,1412.22 646.40,1415.92 646.60,1411.78 646.80,1405.11 647.00,1408.09 647.20,1416.41 647.40,1411.78 647.60,1412.66 647.80,1410.93 648.00,1405.47 648.20,1407.32 648.40,1404.76 648.60,1413.56 648.80,1411.35 649.00,1404.06 649.20,1410.51 649.40,1408.09 649.60,1411.78 649.80,1411.78 650.00,1411.78 650.20,1412.66 650.40,1417.93 650.60,1417.41 650.80,1409.28 651.00,1407.32 651.20,1412.22 651.40,1411.78 651.60,1416.91 651.80,1416.41 652.00,1411.35 652.20,1405.47 652.40,1414.02 652.60,1406.20 652.80,1409.28 653.00,1405.83 653.20,1409.69 653.40,1408.48 653.60,1411.35 653.80,1410.51 654.00,1409.28 654.20,1413.56 654.40,1412.22 654.60,1413.56 654.80,1411.78 655.00,1405.83 655.20,1412.22 655.40,1401.39 655.60,1410.93 655.80,1413.11 656.00,1405.11 656.20,1407.71 656.40,1409.28 656.60,1406.94 656.80,1406.94 657.00,1409.28 657.20,1408.09 657.40,1414.02 657.60,1410.51 657.80,1408.48 658.00,1406.20 658.20,1414.02 658.40,1408.09 658.60,1406.57 658.80,1408.48 659.00,1408.09 659.20,1408.09 659.40,1408.48 659.60,1404.41 659.80,1410.51 660.00,1410.93 660.20,1406.94 660.40,1405.11 660.60,1409.69 660.80,1408.88 661.00,1410.10 661.20,1409.28 661.40,1413.56 661.60,1407.32 661.80,1405.11 662.00,1401.07 662.20,1408.09 662.40,1405.83 662.60,1403.71 662.80,1401.07 663.00,1408.88 663.20,1410.93 663.40,1404.76 663.60,1409.69 663.80,1413.11 664.00,1407.71 664.20,1405.83 664.40,1411.78 664.60,1406.57 664.80,1413.11 665.00,1413.56 665.20,1408.48 665.40,1401.39 665.60,1405.11 665.80,1415.92 666.00,1406.20 666.20,1410.10 666.40,1404.76 666.60,1407.71 666.80,1408.48 667.00,1406.20 667.20,1408.88 667.40,1406.20 667.60,1410.93 667.80,1403.37 668.00,1405.83 668.20,1409.69 668.40,1403.37 668.60,1403.71 668.80,1405.11 669.00,1407.32 669.20,1406.20 669.40,1404.06 669.60,1406.57 669.80,1407.71 670.00,1402.70 670.20,1401.39 670.40,1408.88 670.60,1403.37 670.80,1406.57 671.00,1402.04 671.20,1409.69 671.40,1406.94 671.60,1408.48 671.80,1408.88 672.00,1404.41 672.20,1402.70 672.40,1405.83 672.60,1403.03 672.80,1405.11 673.00,1403.71 673.20,1405.11 673.40,1412.66 673.60,1408.88 673.80,1404.76 674.00,1406.20 674.20,1405.83 674.40,1408.88 674.60,1403.71 674.80,1403.71 675.00,1402.04 675.20,1406.94 675.40,1402.37 675.60,1404.06 675.80,1399.82 676.00,1399.82 676.20,1401.71 676.40,1402.37 676.60,1400.76 676.80,1404.76 677.00,1404.06 677.20,1406.57 677.40,1403.37 677.60,1402.70 677.80,1404.06 678.00,1407.71 678.20,1404.41 678.40,1398.33 678.60,1405.47 678.80,1398.92 679.00,1402.04 679.20,1396.89 679.40,1399.82 679.60,1392.00 679.60,1393.41 679.80,1401.39 680.00,1401.39 680.20,1397.17 680.40,1402.37 680.60,1406.20 680.80,1404.76 681.00,1394.71 681.20,1400.76 681.40,1398.92 681.60,1409.28 681.80,1404.06 682.00,1406.94 682.20,1397.74 682.40,1400.44 682.60,1404.76 682.80,1404.76 683.00,1411.78 683.20,1401.71 683.40,1401.71 683.60,1410.51 683.80,1404.41 684.00,1405.11 684.20,1408.88 684.40,1403.37 684.60,1404.06 684.80,1406.57 685.00,1403.37 685.20,1399.82 685.40,1405.47 685.60,1394.44 685.80,1397.74 686.00,1408.88 686.20,1398.03 686.40,1401.39 686.60,1401.07 686.80,1404.76 687.00,1398.33 687.20,1400.44 687.40,1401.07 687.60,1405.11 687.80,1406.20 688.00,1402.37 688.20,1403.37 688.40,1402.04 688.60,1404.41 688.80,1406.57 689.00,1402.04 689.20,1398.03 689.40,1404.06 689.60,1404.06 689.80,1401.71 690.00,1402.04 690.20,1400.13 690.40,1408.88 690.60,1400.44 690.80,1408.88 691.00,1401.39 691.20,1411.78 691.40,1398.92 691.60,1406.20 691.80,1396.89 692.00,1398.33 692.20,1400.13 692.40,1395.51 692.60,1403.71 692.80,1403.03 693.00,1403.37 693.20,1407.71 693.40,1403.03 693.60,1401.71 693.80,1398.92 694.00,1404.06 694.20,1402.70 694.40,1400.76 694.60,1397.46 694.80,1406.20 695.00,1401.71 695.20,1398.03 695.40,1399.82 695.60,1404.06 695.80,1399.22 696.00,1403.71 696.20,1406.94 696.40,1407.32 696.60,1405.47 696.80,1404.06 697.00,1403.71 697.20,1399.82 697.40,1397.74 697.60,1408.88 697.80,1397.74 698.00,1400.13 698.20,1403.71 698.40,1404.76 698.60,1399.82 698.80,1401.39 699.00,1403.71 699.20,1401.07 699.40,1399.52 699.60,1402.70 699.80,1400.13 700.00,1404.06 700.20,1403.03 700.40,1398.92 700.60,1409.69 700.80,1402.37 701.00,1412.66 701.20,1408.48 701.40,1405.83 701.60,1401.39 701.80,1408.88 702.00,1402.37 702.20,1406.57 702.40,1405.83 702.60,1402.04 702.80,1414.02 703.00,1404.41 703.20,1406.94 703.40,1408.88 703.60,1408.09 703.80,1404.76 704.00,1412.22 704.20,1406.57 704.40,1407.32 704.60,1406.94 704.80,1414.02 705.00,1406.20 705.20,1411.78 705.40,1412.22 705.60,1411.35 705.80,1410.51 706.00,1411.78 706.20,1408.88 706.40,1405.83 706.60,1416.41 706.80,1414.48 707.00,1404.76 707.20,1409.69 707.40,1410.51 707.60,1410.93 707.80,1414.48 708.00,1411.78 708.20,1410.51 708.40,1414.96 708.60,1415.43 708.80,1411.78 709.00,1410.10 709.20,1414.96 709.40,1410.51 709.60,1421.18 709.80,1418.98 710.00,1410.51 710.20,1416.41 710.40,1419.51 710.60,1414.48 710.80,1415.43 711.00,1416.91 711.20,1424.14 711.40,1418.45 711.60,1415.43 711.80,1418.98 712.00,1422.92 712.20,1406.94 712.40,1421.18 712.60,1414.02 712.80,1412.66 713.00,1417.93 713.20,1421.75 713.40,1421.75 713.60,1417.93 713.80,1427.38 714.00,1417.41 714.20,1422.92 714.40,1418.45 714.60,1417.41 714.80,1413.11 715.00,1429.48 715.20,1413.11 715.40,1409.28 715.60,1418.98 715.80,1415.92 716.00,1417.41 716.20,1421.75 716.40,1425.40 716.60,1415.43 716.80,1422.33 717.00,1426.70 717.20,1421.75 717.40,1415.43 717.60,1414.02 717.80,1421.75 718.00,1417.41 718.20,1418.45 718.40,1417.93 718.60,1415.43 718.80,1425.40 719.00,1418.45 719.20,1417.93 719.40,1424.76 719.60,1421.18 719.80,1420.06 720.00,1426.70 720.20,1427.38 720.40,1420.06 720.60,1422.92 720.80,1423.52 721.00,1419.51 721.20,1414.96 721.40,1422.33 721.60,1420.06 721.80,1420.61 722.00,1420.61 722.20,1415.92 722.40,1420.06 722.60,1420.06 722.80,1420.06 723.00,1436.67 723.20,1429.48 723.40,1420.61 723.60,1421.75 723.80,1422.92 724.00,1415.43 724.20,1432.49 724.40,1418.98 724.60,1418.45 724.80,1423.52 725.00,1424.14 725.20,1425.40 725.40,1420.06 725.60,1422.33 725.80,1428.06 726.00,1420.61 726.20,1427.38 726.40,1428.76 726.60,1417.93 726.80,1431.71 727.00,1421.75 727.20,1427.38 727.40,1421.75 727.60,1418.98 727.80,1429.48 728.00,1427.38 728.20,1436.67 728.40,1430.20 728.60,1427.38 728.80,1428.06 729.00,1417.41 729.20,1424.14 729.40,1433.28 729.60,1427.38 729.80,1428.06 730.00,1426.04 730.20,1436.67 730.40,1425.40 730.60,1424.76 730.80,1423.52 731.00,1419.51 731.20,1424.76 731.40,1427.38 731.60,1436.67 731.80,1426.04 732.00,1422.92 732.20,1422.92 732.40,1424.76 732.60,1425.40 732.80,1419.51 733.00,1428.06 733.20,1436.67 733.40,1429.48 733.60,1423.52 733.80,1431.71 734.00,1428.06 734.20,1429.48 734.40,1424.76 734.60,1425.40 734.80,1428.76 735.00,1424.14 735.20,1431.71 735.40,1428.06 735.60,1430.95 735.80,1427.38 736.00,1438.49 736.20,1424.76 736.40,1434.10 736.60,1430.20 736.80,1430.95 737.00,1428.76 737.20,1427.38 737.40,1424.76 737.60,1439.44 737.80,1430.20 738.00,1423.52 738.20,1430.20 738.40,1431.71 738.60,1424.76 738.80,1427.38 739.00,1440.41 739.20,1425.40 739.40,1420.61 739.60,1434.10 739.80,1424.14 740.00,1421.18 740.20,1410.10 740.40,1405.00 740.40,1399.82 740.60,1405.11 740.80,1424.76 741.00,1426.04 741.20,1420.61 741.40,1430.95 741.60,1429.48 741.80,1435.79 742.00,1427.38 742.20,1428.06 742.40,1430.20 742.60,1430.95 742.80,1429.48 743.00,1432.49 743.20,1427.38 743.40,1430.95 743.60,1430.20 743.80,1426.70 744.00,1425.40 744.20,1431.71 744.40,1433.28 744.60,1441.42 744.80,1432.49 745.00,1437.57 745.20,1434.10 745.40,1428.06 745.60,1430.95 745.80,1430.95 746.00,1429.48 746.20,1431.71 746.40,1429.48 746.60,1435.79 746.80,1431.71 747.00,1427.38 747.20,1433.28 747.40,1431.71 747.60,1421.75 747.80,1424.14 748.00,1435.79 748.20,1433.28 748.40,1438.49 748.60,1426.70 748.80,1434.10 749.00,1437.57 749.20,1432.49 749.40,1434.93 749.60,1435.79 749.80,1437.57 750.00,1440.41 750.20,1437.57 750.40,1449.40 750.60,1437.57 750.80,1426.70 751.00,1433.28 751.20,1433.28 751.40,1436.67 751.60,1443.52 751.80,1436.67 752.00,1441.42 752.20,1437.57 752.40,1436.67 752.60,1440.41 752.80,1445.75 753.00,1439.44 753.20,1442.45 753.40,1441.42 753.60,1445.75 753.80,1438.49 754.00,1435.79 754.20,1444.62 754.40,1441.42 754.60,1445.75 754.80,1440.41 755.00,1441.42 755.20,1439.44 755.40,1436.67 755.60,1444.62 755.80,1436.67 756.00,1450.71 756.20,1436.67 756.40,1443.52 756.60,1435.79 756.80,1443.52 757.00,1430.95 757.20,1443.52 757.40,1442.45 757.60,1435.79 757.80,1441.42 758.00,1435.79 758.20,1438.49 758.40,1446.93 758.60,1446.93 758.80,1430.95 759.00,1439.44 759.20,1442.45 759.40,1434.10 759.60,1463.44 759.80,1437.57 760.00,1444.62 760.20,1446.93 760.40,1456.49 760.60,1439.44 760.80,1435.79 761.00,1454.95 761.20,1443.52 761.40,1444.62 761.60,1432.49 761.80,1446.93 762.00,1453.48 762.20,1432.49 762.40,1440.41 762.60,1442.45 762.80,1438.49 763.00,1448.14 763.20,1458.10 763.40,1440.41 763.60,1441.42 763.80,1438.49 764.00,1448.14 764.20,1442.45 764.40,1444.62 764.60,1442.45 764.80,1443.52 765.00,1443.52 765.20,1441.42 765.40,1439.44 765.60,1449.40 765.80,1446.93 766.00,1441.42 766.20,1444.62 766.40,1445.75 766.60,1444.62 766.80,1445.75 767.00,1444.62 767.20,1452.07 767.40,1438.49 767.60,1454.95 767.80,1463.44 768.00,1448.14 768.20,1452.07 768.40,1440.41 768.60,1452.07 768.80,1444.62 769.00,1452.07 769.20,1449.40 769.40,1445.75 769.60,1452.07 769.80,1454.95 770.00,1450.71 770.20,1469.76 770.40,1458.10 770.60,1442.45 770.80,1445.75 771.00,1458.10 771.20,1449.40 771.40,1445.75 771.60,1443.52 771.80,1467.52 772.00,1443.52 772.20,1458.10 772.40,1445.75 772.60,1456.49 772.80,1444.62 773.00,1456.49 773.20,1454.95 773.40,1454.95 773.60,1443.52 773.80,1445.75 774.00,1442.45 774.20,1452.07 774.40,1453.48 774.60,1452.07 774.80,1453.48 775.00,1446.93 775.20,1465.42 775.40,1454.95 775.60,1449.40 775.80,1467.52 776.00,1444.62 776.20,1458.10 776.40,1443.52 776.60,1449.40 776.80,1448.14 777.00,1441.42 777.20,1448.14 777.40,1450.71 777.60,1442.45 777.80,1477.48 778.00,1441.42 778.20,1446.93 778.40,1435.79 778.60,1434.10 778.80,1450.71 779.00,1459.79 779.20,1454.95 779.40,1454.95 779.60,1465.42 779.80,1454.95 780.00,1449.40 780.20,1461.57 780.40,1456.49 780.60,1452.07 780.80,1456.49 781.00,1452.07 781.20,1452.07 781.40,1454.95 781.60,1452.07 781.80,1446.93 782.00,1442.45 782.20,1442.45 782.40,1442.45 782.60,1450.71 782.80,1442.45 783.00,1436.67 783.20,1430.95 783.30,1429.00 783.40,1428.06 783.60,1436.67 783.80,1448.14 784.00,1443.52 784.20,1441.42 784.40,1440.41 784.60,1448.14 784.80,1446.93 785.00,1446.93 785.20,1445.75 785.40,1438.49 785.60,1443.52 785.80,1458.10 786.00,1450.71 786.20,1445.75 786.40,1443.52 786.60,1442.45 786.80,1439.44 787.00,1441.42 787.20,1465.42 787.40,1459.79 787.60,1446.93 787.80,1465.42 788.00,1445.75 788.20,1448.14 788.40,1443.52 788.60,1442.45 788.80,1452.07 789.00,1421.75 789.20,1428.06 789.40,1410.10 789.60,1401.71 789.70,1395.20 789.80,1401.39 790.00,1414.02 790.20,1426.04 790.40,1440.41 790.60,1449.40 790.80,1448.14 791.00,1446.93 791.20,1440.41 791.40,1443.52 791.60,1444.62 791.80,1449.40 792.00,1445.75 792.20,1444.62 792.40,1444.62 792.60,1456.49 792.80,1458.10 793.00,1453.48 793.20,1458.10 793.40,1441.42 793.60,1445.75 793.80,1456.49 794.00,1450.71 794.20,1445.75 794.40,1439.44 794.60,1461.57 794.80,1453.48 795.00,1453.48 795.20,1449.40 795.40,1456.49 795.60,1448.14 795.80,1463.44 796.00,1461.57 796.20,1452.07 796.40,1463.44 796.60,1467.52 796.80,1443.52 797.00,1453.48 797.20,1459.79 797.40,1445.75 797.60,1450.71 797.80,1456.49 798.00,1454.95 798.20,1459.79 798.40,1450.71 798.60,1450.71 798.80,1465.42 799.00,1456.49 799.20,1454.95 799.40,1442.45 799.60,1450.71 799.80,1456.49 800.00,1452.07 800.20,1440.41 800.40,1452.07 800.60,1445.75 800.80,1453.48 801.00,1456.49 801.20,1456.49 801.40,1444.62 801.60,1449.40 801.80,1440.41 802.00,1442.45 802.20,1448.14 802.40,1449.40 802.60,1456.49 802.80,1446.93 803.00,1449.40 803.20,1448.14 803.40,1458.10 803.60,1456.49 803.80,1456.49 804.00,1463.44 804.20,1449.40 804.40,1453.48 804.60,1458.10 804.80,1449.40 805.00,1436.67 805.20,1454.95 805.40,1452.07 805.60,1449.40 805.80,1454.95 806.00,1459.79 806.20,1454.95 806.40,1435.79 806.60,1450.71 806.80,1445.75 807.00,1461.57 807.20,1448.14 807.40,1465.42 807.60,1444.62 807.80,1453.48 808.00,1440.41 808.20,1452.07 808.40,1449.40 808.60,1452.07 808.80,1454.95 809.00,1445.75 809.20,1445.75 809.40,1456.49 809.60,1452.07 809.80,1440.41 810.00,1449.40 810.20,1443.52 810.40,1459.79 810.60,1445.75 810.80,1449.40 811.00,1439.44 811.20,1431.71 811.40,1411.35 811.60,1384.68 811.80,1353.63 812.00,1320.95 812.20,1286.67 812.30,1268.55 812.40,1269.62 812.60,1269.91 812.80,1269.30 812.80,1269.82 813.00,1269.10 813.20,1269.72 813.30,1268.82 813.40,1287.40 813.60,1320.49 813.80,1354.11 814.00,1382.57 814.20,1417.41 814.40,1432.49 814.60,1438.49 814.80,1444.62 815.00,1449.40 815.20,1446.93 815.40,1441.42 815.60,1450.71 815.80,1450.71 816.00,1448.14 816.20,1461.57 816.40,1449.40 816.60,1449.40 816.80,1458.10 817.00,1456.49 817.20,1438.49 817.40,1458.10 817.60,1461.57 817.80,1454.95 818.00,1472.15 818.20,1469.76 818.40,1448.14 818.60,1445.75 818.80,1450.71 819.00,1487.45 819.20,1448.14 819.40,1461.57 819.60,1461.57 819.80,1467.52 820.00,1453.48 820.20,1452.07 820.40,1469.76 820.60,1445.75 820.80,1443.52 821.00,1458.10 821.20,1463.44 821.40,1453.48 821.60,1446.93 821.80,1461.57 822.00,1461.57 822.20,1461.57 822.40,1463.44 822.60,1456.49 822.80,1463.44 823.00,1474.71 823.20,1458.10 823.40,1465.42 823.60,1458.10 823.80,1458.10 824.00,1454.95 824.20,1456.49 824.40,1459.79 824.60,1448.14 824.80,1463.44 825.00,1459.79 825.20,1453.48 825.40,1461.57 825.60,1469.76 825.80,1458.10 826.00,1461.57 826.20,1467.52 826.40,1459.79 826.60,1452.07 826.80,1459.79 827.00,1467.52 827.20,1446.93 827.40,1449.40 827.60,1465.42 827.80,1436.67 828.00,1440.41 828.20,1433.28 828.40,1421.10 828.40,1423.52 828.60,1435.79 828.80,1437.57 829.00,1446.93 829.20,1445.75 829.40,1454.95 829.60,1453.48 829.80,1461.57 830.00,1456.49 830.20,1463.44 830.40,1458.10 830.60,1454.95 830.80,1467.52 831.00,1463.44 831.20,1452.07 831.40,1459.79 831.60,1453.48 831.80,1463.44 832.00,1463.44 832.20,1458.10 832.40,1463.44 832.60,1452.07 832.80,1456.49 833.00,1445.75 833.20,1461.57 833.40,1463.44 833.60,1465.42 833.80,1444.62 834.00,1452.07 834.20,1458.10 834.40,1450.71 834.60,1459.79 834.80,1450.71 835.00,1456.49 835.20,1467.52 835.40,1452.07 835.60,1456.49 835.80,1454.95 836.00,1456.49 836.20,1459.79 836.40,1445.75 836.60,1459.79 836.80,1454.95 837.00,1459.79 837.20,1449.40 837.40,1467.52 837.60,1454.95 837.80,1458.10 838.00,1452.07 838.20,1474.71 838.40,1467.52 838.60,1459.79 838.80,1472.15 839.00,1459.79 839.20,1452.07 839.40,1453.48 839.60,1454.95 839.80,1452.07 840.00,1465.42 840.20,1465.42 840.40,1456.49 840.60,1448.14 840.80,1463.44 841.00,1446.93 841.20,1465.42 841.40,1463.44 841.60,1456.49 841.80,1446.93 842.00,1449.40 842.20,1459.79 842.40,1472.15 842.60,1458.10 842.80,1450.71 843.00,1458.10 843.20,1458.10 843.40,1459.79 843.60,1463.44 843.80,1469.76 844.00,1463.44 844.20,1477.48 844.40,1450.71 844.60,1469.76 844.80,1456.49 845.00,1463.44 845.20,1477.48 845.40,1448.14 845.60,1449.40 845.80,1454.95 846.00,1459.79 846.20,1463.44 846.40,1463.44 846.60,1465.42 846.80,1461.57 847.00,1465.42 847.20,1453.48 847.40,1449.40 847.60,1449.40 847.80,1472.15 848.00,1463.44 848.20,1443.52 848.40,1443.52 848.60,1474.71 848.80,1446.93 849.00,1465.42 849.20,1465.42 849.40,1450.71 849.60,1474.71 849.80,1463.44 850.00,1442.45 850.20,1454.95 850.40,1454.95 850.60,1474.71 850.80,1459.79 851.00,1459.79 851.20,1463.44 851.40,1461.57 851.60,1456.49 851.80,1461.57 852.00,1463.44 852.20,1458.10 852.40,1448.14 852.60,1458.10 852.80,1459.79 853.00,1458.10 853.20,1474.71 853.40,1474.71 853.60,1459.79 853.80,1453.48 854.00,1461.57 854.20,1459.79 854.40,1453.48 854.60,1446.93 854.80,1458.10 855.00,1448.14 855.20,1443.52 855.40,1439.44 855.60,1415.92 855.80,1410.51 856.00,1399.52 856.10,1389.00 856.20,1393.92 856.40,1413.56 856.60,1418.98 856.80,1434.10 857.00,1443.52 857.20,1439.44 857.40,1449.40 857.60,1450.71 857.80,1458.10 858.00,1459.79 858.20,1469.76 858.40,1459.79 858.60,1461.57 858.80,1449.40 859.00,1463.44 859.20,1469.76 859.40,1465.42 859.60,1459.79 859.80,1454.95 860.00,1459.79 860.20,1449.40 860.40,1456.49 860.60,1450.71 860.80,1454.95 861.00,1445.75 861.20,1458.10 861.40,1458.10 861.60,1456.49 861.80,1472.15 862.00,1459.79 862.20,1444.62 862.40,1444.62 862.60,1461.57 862.80,1442.45 863.00,1452.07 863.20,1453.48 863.40,1474.71 863.60,1459.79 863.80,1445.75 864.00,1441.42 864.20,1474.71 864.40,1465.42 864.60,1472.15 864.80,1454.95 865.00,1454.95 865.20,1467.52 865.40,1474.71 865.60,1453.48 865.80,1450.71 866.00,1452.07 866.20,1461.57 866.40,1452.07 866.60,1458.10 866.80,1469.76 867.00,1459.79 867.20,1461.57 867.40,1453.48 867.60,1452.07 867.80,1465.42 868.00,1453.48 868.20,1459.79 868.40,1456.49 868.60,1459.79 868.80,1458.10 869.00,1467.52 869.20,1454.95 869.40,1459.79 869.60,1458.10 869.80,1459.79 870.00,1452.07 870.20,1458.10 870.40,1463.44 870.60,1463.44 870.80,1461.57 871.00,1449.40 871.20,1458.10 871.40,1449.40 871.60,1458.10 871.80,1453.48 872.00,1452.07 872.20,1459.79 872.40,1461.57 872.60,1461.57 872.80,1456.49 873.00,1463.44 873.20,1459.79 873.40,1454.95 873.60,1458.10 873.80,1459.79 874.00,1453.48 874.20,1465.42 874.40,1458.10 874.60,1461.57 874.80,1465.42 875.00,1448.14 875.20,1448.14 875.40,1459.79 875.60,1453.48 875.80,1458.10 876.00,1452.07 876.20,1477.48 876.40,1459.79 876.60,1454.95 876.80,1461.57 877.00,1452.07 877.20,1467.52 877.40,1442.45 877.60,1445.75 877.80,1436.67 878.00,1430.20 878.20,1439.44 878.30,1421.70 878.40,1424.14 878.60,1438.49 878.80,1442.45 879.00,1454.95 879.20,1437.57 879.40,1453.48 879.60,1454.95 879.80,1446.93 880.00,1472.15 880.20,1453.48 880.40,1477.48 880.60,1483.80 880.80,1450.71 881.00,1448.14 881.20,1461.57 881.40,1456.49 881.60,1450.71 881.80,1453.48 882.00,1449.40 882.20,1459.79 882.40,1452.07 882.60,1483.80 882.80,1458.10 883.00,1465.42 883.20,1461.57 883.40,1446.93 883.60,1458.10 883.80,1452.07 884.00,1474.71 884.20,1450.71 884.40,1472.15 884.60,1461.57 884.80,1465.42 885.00,1446.93 885.20,1450.71 885.40,1453.48 885.60,1452.07 885.80,1467.52 886.00,1452.07 886.20,1454.95 886.40,1472.15 886.60,1453.48 886.80,1467.52 887.00,1448.14 887.20,1483.80 887.40,1449.40 887.60,1467.52 887.80,1459.79 888.00,1461.57 888.20,1458.10 888.40,1445.75 888.60,1453.48 888.80,1440.41 889.00,1453.48 889.20,1465.42 889.40,1463.44 889.60,1446.93 889.80,1445.75 890.00,1469.76 890.20,1448.14 890.40,1461.57 890.60,1467.52 890.80,1448.14 891.00,1465.42 891.20,1456.49 891.40,1450.71 891.60,1463.44 891.80,1469.76 892.00,1454.95 892.20,1459.79 892.40,1472.15 892.60,1459.79 892.80,1467.52 893.00,1452.07 893.20,1465.42 893.40,1472.15 893.60,1463.44 893.80,1450.71 894.00,1458.10 894.20,1459.79 894.40,1474.71 894.60,1461.57 894.80,1465.42 895.00,1450.71 895.20,1465.42 895.40,1454.95 895.60,1456.49 895.80,1453.48 896.00,1449.40 896.20,1446.93 896.40,1453.48 896.60,1456.49 896.80,1450.71 897.00,1456.49 897.20,1465.42 897.40,1465.42 897.60,1453.48 897.80,1449.40 898.00,1453.48 898.20,1459.79 898.40,1458.10 898.60,1467.52 898.80,1456.49 899.00,1454.95 899.20,1465.42 899.40,1453.48 899.60,1463.44 899.80,1456.49 900.00,1454.95 900.20,1472.19 900.40,1459.88 900.60,1472.27 900.80,1480.66 901.00,1463.65 901.20,1455.20 901.40,1455.24 901.60,1472.48 901.80,1465.79 902.00,1465.83 902.20,1455.41 902.40,1465.92 902.60,1468.06 902.80,1460.37 903.00,1466.04 903.20,1460.45 903.40,1470.46 903.60,1470.50 903.80,1468.30 904.00,1460.61 904.20,1452.93 904.40,1454.38 904.60,1478.43 904.80,1457.48 905.00,1459.13 905.20,1453.13 905.40,1459.21 905.60,1462.71 905.80,1464.63 906.00,1466.65 906.20,1454.74 906.40,1454.78 906.60,1462.91 906.80,1461.18 907.00,1461.22 907.20,1457.96 907.40,1463.07 907.60,1473.69 907.80,1455.06 908.00,1459.73 908.20,1461.46 908.40,1456.66 908.60,1453.81 908.80,1458.27 909.00,1452.53 909.20,1469.38 909.40,1456.85 909.60,1454.01 909.80,1463.55 910.00,1469.54 910.20,1469.58 910.40,1451.50 910.60,1454.20 910.80,1461.97 911.00,1458.71 911.20,1465.69 911.40,1465.73 911.60,1453.04 911.80,1460.47 912.00,1469.93 912.20,1455.93 912.40,1453.19 912.60,1470.04 912.80,1448.31 913.00,1443.01 913.20,1462.43 913.40,1477.39 913.60,1462.51 913.80,1462.55 914.00,1480.28 914.20,1456.31 914.40,1466.31 914.60,1456.39 914.80,1455.01 915.00,1461.09 915.20,1464.59 915.40,1464.63 915.60,1448.85 915.80,1459.63 916.00,1461.28 916.20,1463.01 916.40,1461.35 916.60,1455.35 916.80,1455.39 917.00,1455.43 917.20,1456.88 917.40,1445.89 917.60,1458.43 917.80,1475.66 918.00,1466.99 918.20,1467.03 918.40,1467.07 918.60,1463.46 918.80,1458.65 919.00,1458.69 919.20,1478.49 919.40,1460.31 919.60,1458.80 919.80,1455.95 920.00,1457.40 920.20,1471.48 920.40,1446.45 920.60,1467.48 920.80,1463.87 921.00,1453.51 921.20,1463.94 921.40,1467.63 921.60,1465.79 921.80,1453.66 922.00,1474.05 922.20,1457.81 922.40,1462.47 922.60,1462.51 922.80,1466.01 923.00,1472.00 923.20,1456.58 923.40,1452.69 923.60,1447.04 923.80,1472.14 924.00,1466.23 924.20,1468.14 924.40,1449.35 924.60,1470.19 924.80,1466.37 925.00,1482.32 925.20,1450.63 925.40,1470.33 925.60,1461.44 925.80,1461.48 926.00,1455.73 926.20,1482.54 926.40,1461.58 926.60,1455.84 926.80,1464.96 927.00,1461.69 927.20,1468.68 927.40,1470.69 927.60,1453.45 927.80,1470.76 928.00,1472.90 928.20,1465.21 928.40,1467.02 928.60,1457.55 928.80,1473.04 929.00,1469.00 929.20,1456.30 929.40,1460.58 929.60,1475.42 929.80,1455.10 930.00,1465.53 930.20,1465.56 930.40,1483.29 930.60,1453.98 930.80,1449.39 931.00,1467.48 931.20,1458.01 931.40,1458.04 931.60,1462.51 931.80,1458.11 932.00,1465.88 932.20,1464.22 932.40,1461.11 932.60,1465.98 932.80,1444.71 933.00,1459.74 933.20,1458.36 933.40,1459.80 933.60,1461.31 933.80,1459.87 934.00,1466.22 934.20,1462.96 934.40,1469.94 934.60,1463.03 934.80,1450.08 935.00,1463.09 935.20,1461.59 935.40,1464.77 935.60,1476.46 935.80,1457.45 936.00,1458.84 936.20,1466.60 936.40,1474.36 936.60,1472.30 936.80,1460.39 937.00,1472.36 937.20,1459.04 937.40,1476.77 937.60,1468.61 937.80,1456.48 938.00,1468.68 938.20,1466.94 938.40,1472.60 938.60,1459.28 938.80,1457.96 939.00,1470.72 939.20,1462.27 939.40,1458.06 939.60,1463.87 939.80,1462.37 940.00,1462.40 940.20,1456.88 940.40,1464.01 940.60,1446.99 940.80,1467.38 941.00,1482.33 941.20,1459.72 941.40,1449.10 941.60,1461.20 941.80,1459.82 942.00,1465.89 942.20,1462.77 942.40,1469.42 942.60,1462.84 942.80,1456.06 943.00,1466.05 943.20,1469.55 943.40,1462.97 943.60,1464.54 943.80,1477.84 944.00,1467.91 944.20,1463.10 944.40,1460.24 944.60,1461.69 944.80,1466.35 945.00,1456.42 945.20,1469.88 945.40,1463.30 945.60,1463.33 945.80,1464.90 946.00,1470.01 946.20,1460.54 946.40,1471.95 946.60,1468.33 946.80,1470.14 947.00,1474.02 947.20,1463.59 947.40,1455.59 947.60,1451.15 947.80,1453.35 948.00,1470.33 948.20,1456.94 948.40,1453.45 948.60,1476.38 948.80,1462.37 949.00,1472.37 949.20,1474.38 949.40,1462.47 949.60,1467.13 949.80,1476.57 950.00,1461.15 950.20,1470.69 950.40,1457.29 950.60,1476.70 950.80,1446.78 951.00,1462.72 951.20,1462.76 951.40,1465.80 951.60,1461.41 951.80,1470.94 952.00,1461.47 952.20,1462.92 952.40,1469.26 952.60,1467.60 952.80,1460.24 953.00,1477.08 953.20,1457.73 953.40,1460.33 953.60,1469.45 953.80,1463.17 954.00,1461.78 954.20,1463.23 954.40,1461.85 954.60,1461.88 954.80,1461.91 955.00,1458.02 955.20,1464.86 955.40,1463.42 955.60,1469.76 955.80,1454.62 956.00,1456.96 956.20,1456.99 956.40,1471.66 956.60,1460.83 956.80,1460.86 957.00,1465.14 957.20,1468.32 957.40,1446.04 957.60,1468.38 957.80,1461.02 958.00,1468.45 958.20,1461.08 958.40,1461.11 958.60,1463.91 958.80,1458.61 959.00,1458.64 959.20,1449.01 959.40,1465.51 959.60,1474.03 959.80,1449.11 960.00,1478.17 960.20,1460.08 960.40,1470.50 960.60,1476.16 960.80,1465.72 961.00,1460.20 961.20,1454.35 961.40,1459.00 961.60,1454.41 961.80,1476.34 962.00,1465.91 962.20,1469.09 962.40,1472.58 962.60,1461.75 962.80,1472.64 963.00,1470.90 963.20,1464.61 963.40,1461.87 963.60,1458.12 963.80,1469.33 964.00,1458.18 964.20,1460.68 964.40,1458.24 964.60,1462.05 964.80,1460.77 965.00,1460.80 965.20,1456.05 965.40,1458.39 965.60,1463.56 965.80,1462.23 966.00,1450.99 966.20,1450.07 966.40,1446.55 966.60,1444.13 966.80,1438.00 966.80,1440.43 967.00,1443.41 967.20,1461.13 967.40,1458.69 967.60,1450.28 967.80,1461.22 968.00,1471.64 968.20,1469.98 968.40,1484.05 968.60,1468.43 968.80,1453.38 969.00,1466.95 969.20,1464.09 969.40,1465.53 969.60,1459.01 969.80,1471.91 970.00,1456.76 970.20,1457.92 970.40,1468.69 970.60,1460.37 970.80,1472.05 971.00,1468.78 971.20,1448.98 971.40,1465.83 971.60,1461.78 971.80,1464.47 972.00,1464.50 972.20,1460.60 972.40,1477.91 972.60,1469.01 972.80,1470.65 973.00,1461.98 973.20,1472.40 973.40,1472.43 973.60,1456.18 973.80,1469.19 974.00,1469.22 974.20,1451.24 974.40,1460.92 974.60,1455.26 974.80,1460.98 975.00,1459.79 975.20,1480.42 975.40,1462.33 975.60,1466.43 975.80,1462.38 976.00,1478.43 976.20,1485.18 976.40,1451.56 976.60,1465.16 976.80,1462.52 977.00,1463.86 977.20,1469.67 977.40,1458.96 977.60,1474.81 977.80,1459.02 978.00,1474.86 978.20,1464.03 978.40,1454.77 978.60,1450.94 978.80,1465.47 979.00,1475.01 979.20,1455.92 979.40,1464.20 979.60,1470.01 979.80,1473.34 980.00,1468.53 980.20,1470.10 980.40,1479.05 980.60,1463.06 980.80,1468.64 981.00,1463.12 981.20,1460.67 981.40,1465.84 981.60,1470.29 981.80,1465.89 982.00,1483.61 982.20,1465.95 982.40,1473.71 982.60,1460.87 982.80,1486.11 983.00,1467.47 983.20,1468.98 983.40,1470.54 983.60,1470.57 983.80,1477.55 984.00,1475.70 984.20,1483.92 984.40,1467.67 984.60,1470.71 984.80,1466.31 985.00,1461.20 985.20,1463.70 985.40,1475.90 985.60,1474.15 985.80,1474.17 986.00,1463.81 986.20,1461.36 986.40,1479.89 986.60,1467.97 986.80,1459.13 987.00,1465.25 987.20,1472.68 987.40,1476.17 987.60,1471.12 987.80,1476.22 988.00,1478.12 988.20,1468.19 988.40,1472.84 988.60,1474.56 988.80,1478.23 989.00,1464.22 989.20,1469.80 989.40,1468.35 989.60,1478.34 989.80,1480.35 990.00,1461.88 990.20,1464.38 990.40,1474.80 990.60,1492.52 990.80,1463.20 991.00,1484.84 991.20,1489.83 991.40,1463.28 991.60,1471.66 991.80,1471.69 992.00,1478.66 992.20,1465.96 992.40,1475.07 992.60,1467.37 992.80,1485.08 993.00,1468.83 993.20,1485.14 993.40,1482.93 993.60,1495.93 993.80,1466.17 994.00,1463.63 994.20,1467.58 994.40,1457.60 994.40,1455.95 994.60,1467.63 994.80,1469.07 995.00,1463.76 995.20,1467.71 995.40,1483.19 995.60,1469.18 995.80,1479.17 996.00,1481.17 996.20,1487.92 996.40,1483.33 996.60,1490.54 996.80,1493.34 997.00,1483.41 997.20,1462.84 997.40,1479.38 997.60,1479.41 997.80,1483.51 998.00,1474.12 998.20,1483.56 998.40,1477.64 998.60,1496.59 998.80,1490.83 999.00,1483.67 999.20,1475.97 999.40,1474.30 999.60,1490.94 999.80,1488.40 1000.00,1486.03 1000.20,1476.07 1000.40,1493.76 1000.60,1472.77 1000.80,1481.70 1001.00,1471.23 1001.20,1483.80 1001.40,1496.77 1001.60,1490.99 1001.80,1479.72 1002.00,1481.70 1002.20,1483.80 1002.40,1488.42 1002.60,1488.42 1002.80,1483.80 1003.00,1486.03 1003.20,1483.80 1003.40,1500.07 1003.60,1469.76 1003.80,1500.07 1004.00,1479.72 1004.20,1507.80 1004.40,1488.42 1004.60,1477.85 1004.80,1481.70 1005.00,1477.85 1005.20,1486.03 1005.40,1481.70 1005.60,1486.03 1005.80,1479.72 1006.00,1486.03 1006.20,1479.72 1006.40,1471.23 1006.60,1477.85 1006.80,1471.23 1007.00,1488.42 1007.20,1479.72 1007.40,1483.80 1007.60,1481.70 1007.80,1471.23 1008.00,1469.76 1008.20,1454.77 1008.40,1447.99 1008.60,1436.89 1008.80,1423.98 1009.00,1416.10 1009.20,1399.41 1009.40,1389.02 1009.60,1374.75 1009.70,1364.00 1009.80,1370.97 1010.00,1386.32 1010.20,1396.50 1010.40,1413.45 1010.60,1422.85 1010.80,1433.18 1011.00,1449.56 1011.20,1455.71 1011.40,1483.80 1011.60,1466.98 1011.80,1469.76 1012.00,1486.03 1012.20,1476.07 1012.40,1457.69 1012.60,1465.68 1012.80,1455.71 1013.00,1452.94 1013.20,1433.18 1013.40,1421.65 1013.40,1417.03 1013.60,1428.94 1013.80,1444.34 1014.00,1462.03 1014.20,1463.20 1014.40,1466.98 1014.60,1466.98 1014.80,1486.03 1015.00,1476.07 1015.20,1477.85 1015.40,1488.42 1015.60,1481.70 1015.80,1474.38 1016.00,1496.77 1016.20,1477.85 1016.40,1477.85 1016.60,1496.77 1016.80,1483.80 1017.00,1481.70 1017.20,1483.80 1017.40,1486.03 1017.60,1493.76 1017.80,1488.42 1018.00,1493.76 1018.20,1474.38 1018.40,1469.76 1018.60,1496.77 1018.80,1490.99 1019.00,1486.03 1019.20,1477.85 1019.40,1486.03 1019.60,1477.85 1019.80,1490.99 1020.00,1500.07 1020.20,1481.70 1020.40,1503.72 1020.60,1471.23 1020.80,1496.77 1021.00,1481.70 1021.20,1500.07 1021.40,1496.77 1021.60,1483.80 1021.80,1490.99 1022.00,1500.07 1022.20,1469.76 1022.40,1496.77 1022.60,1486.03 1022.80,1490.99 1023.00,1490.99 1023.20,1496.77 1023.40,1483.80 1023.60,1490.99 1023.80,1493.76 1024.00,1486.03 1024.20,1488.42 1024.40,1496.77 1024.60,1471.23 1024.80,1503.72 1025.00,1486.03 1025.20,1488.42 1025.40,1486.03 1025.60,1503.72 1025.80,1496.77 1026.00,1500.07 1026.20,1483.80 1026.40,1468.34 1026.60,1490.99 1026.80,1476.07 1027.00,1466.98 1027.20,1456.69 1027.40,1447.99 1027.50,1432.60 1027.60,1441.67 1027.80,1452.07 1028.00,1466.98 1028.20,1477.85 1028.40,1483.80 1028.60,1490.99 1028.80,1500.07 1029.00,1507.80 1029.20,1488.42 1029.40,1483.80 1029.60,1490.99 1029.80,1512.43 1030.00,1486.03 1030.20,1481.70 1030.40,1496.77 1030.60,1500.07 1030.80,1479.72 1031.00,1517.76 1031.20,1500.07 1031.40,1490.99 1031.60,1503.72 1031.80,1512.43 1032.00,1512.43 1032.20,1493.76 1032.40,1503.72 1032.60,1512.43 1032.80,1496.77 1033.00,1503.72 1033.20,1496.77 1033.40,1496.77 1033.60,1507.80 1033.80,1512.43 1034.00,1496.77 1034.20,1507.80 1034.40,1531.81 1034.60,1512.43 1034.80,1524.08 1035.00,1496.77 1035.20,1512.43 1035.40,1512.43 1035.60,1531.81 1035.80,1512.43 1036.00,1507.80 1036.20,1496.77 1036.40,1507.80 1036.60,1490.99 1036.80,1524.08 1037.00,1496.77 1037.20,1517.76 1037.40,1500.07 1037.60,1512.43 1037.80,1524.08 1038.00,1500.07 1038.20,1531.81 1038.40,1493.76 1038.60,1503.72 1038.80,1541.77 1039.00,1517.76 1039.20,1531.81 1039.40,1524.08 1039.60,1503.72 1039.80,1555.81 1040.00,1507.80 1040.20,1524.08 1040.40,1531.81 1040.60,1512.43 1040.80,1524.08 1041.00,1481.70 1041.20,1512.43 1041.40,1517.76 1041.60,1531.81 1041.80,1524.08 1042.00,1524.08 1042.20,1507.80 1042.40,1531.81 1042.60,1524.08 1042.80,1531.81 1043.00,1541.77 1043.20,1493.76 1043.40,1503.72 1043.60,1512.43 1043.80,1496.77 1044.00,1531.81 1044.20,1500.07 1044.40,1512.43 1044.60,1541.77 1044.80,1500.07 1045.00,1512.43 1045.20,1517.76 1045.40,1493.76 1045.60,1524.08 1045.80,1524.08 1046.00,1512.43 1046.20,1503.72 1046.40,1524.08 1046.60,1500.07 1046.80,1524.08 1047.00,1496.77 1047.20,1496.77 1047.40,1503.72 1047.60,1555.81 1047.80,1500.07 1048.00,1524.08 1048.20,1524.08 1048.40,1512.43 1048.60,1517.76 1048.80,1507.80 1049.00,1512.43 1049.20,1512.43 1049.40,1524.08 1049.60,1517.76 1049.80,1517.76 1050.00,1524.08 1050.20,1512.43 1050.40,1500.07 1050.60,1555.81 1050.80,1512.43 1051.00,1531.81 1051.20,1503.72 1051.40,1500.07 1051.60,1507.80 1051.80,1512.43 1052.00,1503.72 1052.20,1493.76 1052.40,1531.81 1052.60,1503.72 1052.80,1486.03 1053.00,1500.07 1053.20,1507.80 1053.40,1493.76 1053.60,1517.76 1053.80,1490.99 1054.00,1512.43 1054.20,1483.80 1054.40,1493.76 1054.60,1493.76 1054.80,1500.07 1055.00,1503.72 1055.20,1507.80 1055.40,1503.72 1055.60,1476.07 1055.80,1517.76 1056.00,1486.03 1056.20,1493.76 1056.40,1500.07 1056.60,1500.07 1056.80,1486.03 1057.00,1503.72 1057.20,1512.43 1057.40,1507.80 1057.60,1496.77 1057.80,1512.43" fill="none" stroke="#000" stroke-width="1.2" stroke-linejoin="round" />
</svg>
</body></html>
